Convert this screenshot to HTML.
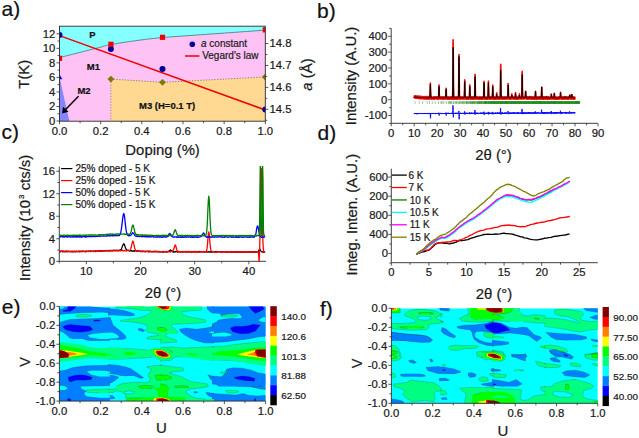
<!DOCTYPE html>
<html><head><meta charset="utf-8"><style>
html,body{margin:0;padding:0;background:#fff;}
svg{display:block;}
text{font-family:"Liberation Sans", sans-serif;stroke:#1a1a1a;stroke-width:0.22px;paint-order:stroke;}
</style></head><body>
<svg width="639" height="438" viewBox="0 0 639 438">
<text x="1.5" y="16.3" font-size="21" text-anchor="start" font-weight="normal" font-style="normal" fill="#111" >a)</text>
<text x="317" y="17.8" font-size="21" text-anchor="start" font-weight="normal" font-style="normal" fill="#111" >b)</text>
<text x="1.4" y="138.6" font-size="21" text-anchor="start" font-weight="normal" font-style="normal" fill="#111" >c)</text>
<text x="317.5" y="139.7" font-size="21" text-anchor="start" font-weight="normal" font-style="normal" fill="#111" >d)</text>
<text x="1.8" y="314.2" font-size="21" text-anchor="start" font-weight="normal" font-style="normal" fill="#111" >e)</text>
<text x="320" y="316" font-size="21" text-anchor="start" font-weight="normal" font-style="normal" fill="#111" >f)</text>
<clipPath id="ca"><rect x="59.5" y="26.2" width="205.8" height="95.0"/></clipPath>
<g clip-path="url(#ca)">
<rect x="59.5" y="26.2" width="205.8" height="95.0" fill="#85FFFF"/>
<polygon points="59,57.7 60.02,57.44 61.3,57.12 62.8,56.74 64.48,56.32 66.31,55.86 68.25,55.37 70.26,54.86 72.3,54.35 74.33,53.84 76.31,53.33 78.22,52.85 80,52.4 81.73,51.96 83.5,51.51 85.28,51.05 87.08,50.6 88.87,50.14 90.63,49.69 92.36,49.24 94.04,48.81 95.66,48.4 97.2,48.01 98.66,47.64 100,47.3 101.18,46.99 102.19,46.72 103.06,46.48 103.82,46.26 104.52,46.06 105.19,45.87 105.88,45.68 106.63,45.49 107.46,45.3 108.42,45.09 109.56,44.86 110.9,44.6 112.44,44.32 114.11,44.02 115.92,43.71 117.83,43.39 119.83,43.06 121.91,42.73 124.05,42.4 126.23,42.06 128.43,41.73 130.63,41.41 132.83,41.1 135,40.8 137.08,40.52 139.04,40.24 140.93,39.98 142.8,39.73 144.7,39.47 146.66,39.22 148.74,38.97 150.99,38.72 153.44,38.46 156.14,38.18 159.15,37.9 162.5,37.6 166.28,37.28 170.48,36.95 175.04,36.6 179.88,36.24 184.92,35.88 190.11,35.51 195.35,35.14 200.59,34.77 205.74,34.41 210.75,34.06 215.52,33.72 220,33.4 224.37,33.08 228.84,32.76 233.35,32.43 237.83,32.11 242.23,31.79 246.49,31.49 250.56,31.2 254.36,30.92 257.84,30.67 260.95,30.45 263.62,30.26 265.8,30.1 265.3,121.2 59.5,121.2" fill="#FFC2F4" />
<polygon points="59.5,77.3 69.4,121.2 59.5,121.2" fill="#8585FF" />
<polygon points="110.9,79.1 162.5,82.3 265.3,77 265.3,121.2 110.9,121.2" fill="#FFD992" />
<polyline points="110.9,79.1 162.5,82.3 265.3,77" fill="none" stroke="#666" stroke-width="0.8" stroke-linejoin="round" stroke-dasharray="1.2,1.6"/>
<line x1="110.9" y1="79.1" x2="110.9" y2="121.2" stroke="#777" stroke-width="0.8" stroke-dasharray="1.2,1.6"/>
<polyline points="59,57.7 60.02,57.44 61.3,57.12 62.8,56.74 64.48,56.32 66.31,55.86 68.25,55.37 70.26,54.86 72.3,54.35 74.33,53.84 76.31,53.33 78.22,52.85 80,52.4 81.73,51.96 83.5,51.51 85.28,51.05 87.08,50.6 88.87,50.14 90.63,49.69 92.36,49.24 94.04,48.81 95.66,48.4 97.2,48.01 98.66,47.64 100,47.3 101.18,46.99 102.19,46.72 103.06,46.48 103.82,46.26 104.52,46.06 105.19,45.87 105.88,45.68 106.63,45.49 107.46,45.3 108.42,45.09 109.56,44.86 110.9,44.6 112.44,44.32 114.11,44.02 115.92,43.71 117.83,43.39 119.83,43.06 121.91,42.73 124.05,42.4 126.23,42.06 128.43,41.73 130.63,41.41 132.83,41.1 135,40.8 137.08,40.52 139.04,40.24 140.93,39.98 142.8,39.73 144.7,39.47 146.66,39.22 148.74,38.97 150.99,38.72 153.44,38.46 156.14,38.18 159.15,37.9 162.5,37.6 166.28,37.28 170.48,36.95 175.04,36.6 179.88,36.24 184.92,35.88 190.11,35.51 195.35,35.14 200.59,34.77 205.74,34.41 210.75,34.06 215.52,33.72 220,33.4 224.37,33.08 228.84,32.76 233.35,32.43 237.83,32.11 242.23,31.79 246.49,31.49 250.56,31.2 254.36,30.92 257.84,30.67 260.95,30.45 263.62,30.26 265.8,30.1" fill="none" stroke="#3a7a7a" stroke-width="0.8" stroke-linejoin="round" />
<line x1="59.5" y1="35.6" x2="265.3" y2="110" stroke="#F00000" stroke-width="1.5" />
<circle cx="59.5" cy="35.1" r="3" fill="#0000A0"/>
<circle cx="110.9" cy="48.9" r="3" fill="#0000A0"/>
<circle cx="162.5" cy="68.9" r="3" fill="#0000A0"/>
<circle cx="265.3" cy="109.5" r="3" fill="#0000A0"/>
<rect x="56.9" y="55.7" width="5.2" height="5.2" fill="#F00000"/>
<rect x="108.3" y="41.7" width="5.2" height="5.2" fill="#F00000"/>
<rect x="159.9" y="34.7" width="5.2" height="5.2" fill="#F00000"/>
<rect x="262.7" y="27.2" width="5.2" height="5.2" fill="#F00000"/>
<polygon points="110.9,75.7 114.3,79.1 110.9,82.5 107.5,79.1" fill="#7A7A00"/>
<polygon points="162.5,78.9 165.9,82.3 162.5,85.7 159.1,82.3" fill="#7A7A00"/>
<polygon points="265.3,73.6 268.7,77 265.3,80.4 261.9,77" fill="#7A7A00"/>
<polygon points="59.5,74.5 62.5,79.3 56.5,79.3" fill="#0000FF"/>
</g>
<rect x="59.5" y="26.2" width="205.8" height="95" fill="none" stroke="#2a2a2a" stroke-width="0.9"/>
<line x1="78.5" y1="96.3" x2="64.6" y2="110.6" stroke="#000" stroke-width="1.5" />
<polygon points="62.0,113.5 63.0,106.8 68.6,111.8" fill="#000"/>
<text x="92.5" y="37.8" font-size="9.5" text-anchor="middle" font-weight="bold" font-style="normal" fill="#111" >P</text>
<text x="93.4" y="69.8" font-size="9.5" text-anchor="middle" font-weight="bold" font-style="normal" fill="#111" >M1</text>
<text x="84" y="93.8" font-size="9.5" text-anchor="middle" font-weight="bold" font-style="normal" fill="#111" >M2</text>
<text x="139" y="109" font-size="9.5" text-anchor="start" font-weight="bold" font-style="normal" fill="#111" >M3 (H=0.1 T)</text>
<circle cx="192.3" cy="44.3" r="2.8" fill="#0000A0"/>
<text x="201" y="47.3" font-size="10" text-anchor="start" font-weight="normal" font-style="normal" fill="#222" ><tspan font-style="italic">a</tspan> constant</text>
<line x1="185" y1="56" x2="199.4" y2="56" stroke="#F00000" stroke-width="1.5" />
<text x="202.2" y="58.7" font-size="10" text-anchor="start" font-weight="normal" font-style="normal" fill="#222" >Vegard's law</text>
<line x1="56.5" y1="121" x2="59.5" y2="121" stroke="#2a2a2a" stroke-width="0.8" />
<text x="55.3" y="124.9" font-size="11.3" text-anchor="end" font-weight="normal" font-style="normal" fill="#1a1a1a" >0</text>
<line x1="57.5" y1="113.73" x2="59.5" y2="113.73" stroke="#2a2a2a" stroke-width="0.8" />
<line x1="56.5" y1="106.47" x2="59.5" y2="106.47" stroke="#2a2a2a" stroke-width="0.8" />
<text x="55.3" y="110.37" font-size="11.3" text-anchor="end" font-weight="normal" font-style="normal" fill="#1a1a1a" >2</text>
<line x1="57.5" y1="99.2" x2="59.5" y2="99.2" stroke="#2a2a2a" stroke-width="0.8" />
<line x1="56.5" y1="91.93" x2="59.5" y2="91.93" stroke="#2a2a2a" stroke-width="0.8" />
<text x="55.3" y="95.83" font-size="11.3" text-anchor="end" font-weight="normal" font-style="normal" fill="#1a1a1a" >4</text>
<line x1="57.5" y1="84.66" x2="59.5" y2="84.66" stroke="#2a2a2a" stroke-width="0.8" />
<line x1="56.5" y1="77.4" x2="59.5" y2="77.4" stroke="#2a2a2a" stroke-width="0.8" />
<text x="55.3" y="81.3" font-size="11.3" text-anchor="end" font-weight="normal" font-style="normal" fill="#1a1a1a" >6</text>
<line x1="57.5" y1="70.13" x2="59.5" y2="70.13" stroke="#2a2a2a" stroke-width="0.8" />
<line x1="56.5" y1="62.86" x2="59.5" y2="62.86" stroke="#2a2a2a" stroke-width="0.8" />
<text x="55.3" y="66.76" font-size="11.3" text-anchor="end" font-weight="normal" font-style="normal" fill="#1a1a1a" >8</text>
<line x1="57.5" y1="55.6" x2="59.5" y2="55.6" stroke="#2a2a2a" stroke-width="0.8" />
<line x1="56.5" y1="48.33" x2="59.5" y2="48.33" stroke="#2a2a2a" stroke-width="0.8" />
<text x="55.3" y="52.23" font-size="11.3" text-anchor="end" font-weight="normal" font-style="normal" fill="#1a1a1a" >10</text>
<line x1="57.5" y1="41.06" x2="59.5" y2="41.06" stroke="#2a2a2a" stroke-width="0.8" />
<line x1="56.5" y1="33.8" x2="59.5" y2="33.8" stroke="#2a2a2a" stroke-width="0.8" />
<text x="55.3" y="37.7" font-size="11.3" text-anchor="end" font-weight="normal" font-style="normal" fill="#1a1a1a" >12</text>
<line x1="59.5" y1="121.2" x2="59.5" y2="124.2" stroke="#2a2a2a" stroke-width="0.8" />
<text x="59.5" y="134.8" font-size="11.3" text-anchor="middle" font-weight="normal" font-style="normal" fill="#1a1a1a" >0.0</text>
<line x1="80.08" y1="121.2" x2="80.08" y2="123.2" stroke="#2a2a2a" stroke-width="0.8" />
<line x1="100.66" y1="121.2" x2="100.66" y2="124.2" stroke="#2a2a2a" stroke-width="0.8" />
<text x="100.66" y="134.8" font-size="11.3" text-anchor="middle" font-weight="normal" font-style="normal" fill="#1a1a1a" >0.2</text>
<line x1="121.24" y1="121.2" x2="121.24" y2="123.2" stroke="#2a2a2a" stroke-width="0.8" />
<line x1="141.82" y1="121.2" x2="141.82" y2="124.2" stroke="#2a2a2a" stroke-width="0.8" />
<text x="141.82" y="134.8" font-size="11.3" text-anchor="middle" font-weight="normal" font-style="normal" fill="#1a1a1a" >0.4</text>
<line x1="162.4" y1="121.2" x2="162.4" y2="123.2" stroke="#2a2a2a" stroke-width="0.8" />
<line x1="182.98" y1="121.2" x2="182.98" y2="124.2" stroke="#2a2a2a" stroke-width="0.8" />
<text x="182.98" y="134.8" font-size="11.3" text-anchor="middle" font-weight="normal" font-style="normal" fill="#1a1a1a" >0.6</text>
<line x1="203.56" y1="121.2" x2="203.56" y2="123.2" stroke="#2a2a2a" stroke-width="0.8" />
<line x1="224.14" y1="121.2" x2="224.14" y2="124.2" stroke="#2a2a2a" stroke-width="0.8" />
<text x="224.14" y="134.8" font-size="11.3" text-anchor="middle" font-weight="normal" font-style="normal" fill="#1a1a1a" >0.8</text>
<line x1="244.72" y1="121.2" x2="244.72" y2="123.2" stroke="#2a2a2a" stroke-width="0.8" />
<line x1="265.3" y1="121.2" x2="265.3" y2="124.2" stroke="#2a2a2a" stroke-width="0.8" />
<text x="265.3" y="134.8" font-size="11.3" text-anchor="middle" font-weight="normal" font-style="normal" fill="#1a1a1a" >1.0</text>
<line x1="265.3" y1="120.27" x2="267.3" y2="120.27" stroke="#2a2a2a" stroke-width="0.8" />
<line x1="265.3" y1="109.3" x2="268.3" y2="109.3" stroke="#2a2a2a" stroke-width="0.8" />
<text x="269.5" y="113.2" font-size="11.3" text-anchor="start" font-weight="normal" font-style="normal" fill="#1a1a1a" >14.5</text>
<line x1="265.3" y1="98.34" x2="267.3" y2="98.34" stroke="#2a2a2a" stroke-width="0.8" />
<line x1="265.3" y1="87.37" x2="268.3" y2="87.37" stroke="#2a2a2a" stroke-width="0.8" />
<text x="269.5" y="91.27" font-size="11.3" text-anchor="start" font-weight="normal" font-style="normal" fill="#1a1a1a" >14.6</text>
<line x1="265.3" y1="76.41" x2="267.3" y2="76.41" stroke="#2a2a2a" stroke-width="0.8" />
<line x1="265.3" y1="65.44" x2="268.3" y2="65.44" stroke="#2a2a2a" stroke-width="0.8" />
<text x="269.5" y="69.34" font-size="11.3" text-anchor="start" font-weight="normal" font-style="normal" fill="#1a1a1a" >14.7</text>
<line x1="265.3" y1="54.47" x2="267.3" y2="54.47" stroke="#2a2a2a" stroke-width="0.8" />
<line x1="265.3" y1="43.51" x2="268.3" y2="43.51" stroke="#2a2a2a" stroke-width="0.8" />
<text x="269.5" y="47.41" font-size="11.3" text-anchor="start" font-weight="normal" font-style="normal" fill="#1a1a1a" >14.8</text>
<text x="24.5" y="74.2" font-size="14.9" text-anchor="middle" font-weight="normal" font-style="normal" fill="#1a1a1a" transform="rotate(-90 24.5 74.2)" dy="5">T(K)</text>
<text x="162.6" y="155" font-size="14.9" text-anchor="middle" font-weight="normal" font-style="normal" fill="#1a1a1a" >Doping (%)</text>
<text x="307" y="74.5" font-size="14.9" text-anchor="middle" font-weight="normal" font-style="normal" fill="#1a1a1a" transform="rotate(-90 307 74.5)" dy="5"><tspan font-style="italic">a</tspan> (Å)</text>
<line x1="391.2" y1="28.3" x2="391.2" y2="123.3" stroke="#2a2a2a" stroke-width="0.9" />
<line x1="391.2" y1="123.3" x2="597.8" y2="123.3" stroke="#2a2a2a" stroke-width="0.9" />
<line x1="389.2" y1="123.47" x2="391.2" y2="123.47" stroke="#2a2a2a" stroke-width="0.8" />
<line x1="388.2" y1="115.55" x2="391.2" y2="115.55" stroke="#2a2a2a" stroke-width="0.8" />
<text x="387.3" y="119.45" font-size="11.3" text-anchor="end" font-weight="normal" font-style="normal" fill="#1a1a1a" >-100</text>
<line x1="389.2" y1="107.62" x2="391.2" y2="107.62" stroke="#2a2a2a" stroke-width="0.8" />
<line x1="388.2" y1="99.7" x2="391.2" y2="99.7" stroke="#2a2a2a" stroke-width="0.8" />
<text x="387.3" y="103.6" font-size="11.3" text-anchor="end" font-weight="normal" font-style="normal" fill="#1a1a1a" >0</text>
<line x1="389.2" y1="91.78" x2="391.2" y2="91.78" stroke="#2a2a2a" stroke-width="0.8" />
<line x1="388.2" y1="83.85" x2="391.2" y2="83.85" stroke="#2a2a2a" stroke-width="0.8" />
<text x="387.3" y="87.75" font-size="11.3" text-anchor="end" font-weight="normal" font-style="normal" fill="#1a1a1a" >100</text>
<line x1="389.2" y1="75.93" x2="391.2" y2="75.93" stroke="#2a2a2a" stroke-width="0.8" />
<line x1="388.2" y1="68" x2="391.2" y2="68" stroke="#2a2a2a" stroke-width="0.8" />
<text x="387.3" y="71.9" font-size="11.3" text-anchor="end" font-weight="normal" font-style="normal" fill="#1a1a1a" >200</text>
<line x1="389.2" y1="60.08" x2="391.2" y2="60.08" stroke="#2a2a2a" stroke-width="0.8" />
<line x1="388.2" y1="52.15" x2="391.2" y2="52.15" stroke="#2a2a2a" stroke-width="0.8" />
<text x="387.3" y="56.05" font-size="11.3" text-anchor="end" font-weight="normal" font-style="normal" fill="#1a1a1a" >300</text>
<line x1="389.2" y1="44.23" x2="391.2" y2="44.23" stroke="#2a2a2a" stroke-width="0.8" />
<line x1="388.2" y1="36.3" x2="391.2" y2="36.3" stroke="#2a2a2a" stroke-width="0.8" />
<text x="387.3" y="40.2" font-size="11.3" text-anchor="end" font-weight="normal" font-style="normal" fill="#1a1a1a" >400</text>
<line x1="389.2" y1="28.38" x2="391.2" y2="28.38" stroke="#2a2a2a" stroke-width="0.8" />
<line x1="391.2" y1="123.3" x2="391.2" y2="126.3" stroke="#2a2a2a" stroke-width="0.8" />
<text x="391.2" y="136.5" font-size="11.3" text-anchor="middle" font-weight="normal" font-style="normal" fill="#1a1a1a" >0</text>
<line x1="402.69" y1="123.3" x2="402.69" y2="125.3" stroke="#2a2a2a" stroke-width="0.8" />
<line x1="414.18" y1="123.3" x2="414.18" y2="126.3" stroke="#2a2a2a" stroke-width="0.8" />
<text x="414.18" y="136.5" font-size="11.3" text-anchor="middle" font-weight="normal" font-style="normal" fill="#1a1a1a" >10</text>
<line x1="425.67" y1="123.3" x2="425.67" y2="125.3" stroke="#2a2a2a" stroke-width="0.8" />
<line x1="437.16" y1="123.3" x2="437.16" y2="126.3" stroke="#2a2a2a" stroke-width="0.8" />
<text x="437.16" y="136.5" font-size="11.3" text-anchor="middle" font-weight="normal" font-style="normal" fill="#1a1a1a" >20</text>
<line x1="448.65" y1="123.3" x2="448.65" y2="125.3" stroke="#2a2a2a" stroke-width="0.8" />
<line x1="460.14" y1="123.3" x2="460.14" y2="126.3" stroke="#2a2a2a" stroke-width="0.8" />
<text x="460.14" y="136.5" font-size="11.3" text-anchor="middle" font-weight="normal" font-style="normal" fill="#1a1a1a" >30</text>
<line x1="471.63" y1="123.3" x2="471.63" y2="125.3" stroke="#2a2a2a" stroke-width="0.8" />
<line x1="483.12" y1="123.3" x2="483.12" y2="126.3" stroke="#2a2a2a" stroke-width="0.8" />
<text x="483.12" y="136.5" font-size="11.3" text-anchor="middle" font-weight="normal" font-style="normal" fill="#1a1a1a" >40</text>
<line x1="494.61" y1="123.3" x2="494.61" y2="125.3" stroke="#2a2a2a" stroke-width="0.8" />
<line x1="506.1" y1="123.3" x2="506.1" y2="126.3" stroke="#2a2a2a" stroke-width="0.8" />
<text x="506.1" y="136.5" font-size="11.3" text-anchor="middle" font-weight="normal" font-style="normal" fill="#1a1a1a" >50</text>
<line x1="517.59" y1="123.3" x2="517.59" y2="125.3" stroke="#2a2a2a" stroke-width="0.8" />
<line x1="529.08" y1="123.3" x2="529.08" y2="126.3" stroke="#2a2a2a" stroke-width="0.8" />
<text x="529.08" y="136.5" font-size="11.3" text-anchor="middle" font-weight="normal" font-style="normal" fill="#1a1a1a" >60</text>
<line x1="540.57" y1="123.3" x2="540.57" y2="125.3" stroke="#2a2a2a" stroke-width="0.8" />
<line x1="552.06" y1="123.3" x2="552.06" y2="126.3" stroke="#2a2a2a" stroke-width="0.8" />
<text x="552.06" y="136.5" font-size="11.3" text-anchor="middle" font-weight="normal" font-style="normal" fill="#1a1a1a" >70</text>
<line x1="563.55" y1="123.3" x2="563.55" y2="125.3" stroke="#2a2a2a" stroke-width="0.8" />
<line x1="575.04" y1="123.3" x2="575.04" y2="126.3" stroke="#2a2a2a" stroke-width="0.8" />
<text x="575.04" y="136.5" font-size="11.3" text-anchor="middle" font-weight="normal" font-style="normal" fill="#1a1a1a" >80</text>
<line x1="586.53" y1="123.3" x2="586.53" y2="125.3" stroke="#2a2a2a" stroke-width="0.8" />
<line x1="598.02" y1="123.3" x2="598.02" y2="126.3" stroke="#2a2a2a" stroke-width="0.8" />
<text x="598.02" y="136.5" font-size="11.3" text-anchor="middle" font-weight="normal" font-style="normal" fill="#1a1a1a" >90</text>
<text x="350.6" y="76" font-size="14.9" text-anchor="middle" font-weight="normal" font-style="normal" fill="#1a1a1a" transform="rotate(-90 350.6 76)" dy="5">Intensity (A.U.)</text>
<text x="493.5" y="160" font-size="14.9" text-anchor="middle" font-weight="normal" font-style="normal" fill="#1a1a1a" >2θ (°)</text>
<polyline points="414.18,96.54 414.36,96.88 414.55,96.73 414.73,97 414.92,97.05 415.1,96.52 415.28,96.49 415.47,97.34 415.65,96.79 415.83,96.79 416.02,97.58 416.2,97.08 416.39,97.47 416.57,97.13 416.75,97.31 416.94,96.85 417.12,97.35 417.31,97.61 417.49,97.28 417.67,97.52 417.86,97.47 418.04,96.88 418.22,97.59 418.41,97.44 418.59,97.17 418.78,96.91 418.96,97.77 419.14,97.39 419.33,97.65 419.51,97.83 419.7,97.67 419.88,97.9 420.06,97.38 420.25,97.8 420.43,97.46 420.61,97.96 420.8,97.92 420.98,97.15 421.17,97.2 421.35,97.29 421.53,98.05 421.72,97.53 421.9,97.74 422.09,97.42 422.27,97.64 422.45,97.52 422.64,97.5 422.82,97.74 423,97.75 423.19,98.08 423.37,97.87 423.56,98.12 423.74,98.06 423.92,98.2 424.11,97.89 424.29,97.39 424.48,98.09 424.66,98.2 424.84,98.15 425.03,97.82 425.21,97.97 425.39,97.48 425.58,98.1 425.76,97.85 425.95,97.57 426.13,97.35 426.31,98.15 426.5,98.29 426.68,97.39 426.86,98.11 427.05,97.72 427.23,97.47 427.42,97.62 427.6,98.1 427.78,98.21 427.97,97.38 428.15,97.96 428.34,97.39 428.52,98.07 428.7,97.68 428.89,98.24 429.07,98.34 429.25,97.87 429.44,98.37 429.62,97.68 429.81,97.45 429.99,97.98 430.17,97.41 430.36,97.58 430.54,97.8 430.73,98 430.91,97.55 431.09,97.44 431.28,98.27 431.46,97.72 431.64,98.36 431.83,98.3 432.01,97.79 432.2,97.87 432.38,97.93 432.56,98.06 432.75,98.01 432.93,97.98 433.12,98.04 433.3,98.37 433.48,97.93 433.67,97.86 433.85,98.15 434.03,97.67 434.22,97.74 434.4,98.41 434.59,97.96 434.77,97.99 434.95,97.45 435.14,97.86 435.32,98.02 435.51,97.47 435.69,98.06 435.87,98.08 436.06,97.51 436.24,98.08 436.42,97.92 436.61,98.13 436.79,97.81 436.98,98.16 437.16,98.2 437.34,97.48 437.53,97.52 437.71,98.14 437.9,98.42 438.08,97.71 438.26,97.92 438.45,98.06 438.63,97.79 438.81,97.83 439,97.78 439.18,97.84 439.37,98.06 439.55,97.77 439.73,97.85 439.92,98.24 440.1,97.5 440.29,98.04 440.47,98.21 440.65,97.78 440.84,97.7 441.02,98.28 441.2,97.71 441.39,97.66 441.57,97.91 441.76,98.18 441.94,97.58 442.12,97.8 442.31,97.81 442.49,98.31 442.68,97.92 442.86,98.34 443.04,97.65 443.23,97.82 443.41,98.13 443.59,98.37 443.78,97.93 443.96,97.71 444.15,97.61 444.33,98.01 444.51,97.68 444.7,98.29 444.88,98.32 445.07,97.67 445.25,97.77 445.43,98.29 445.62,98.13 445.8,98.29 445.98,97.83 446.17,97.62 446.35,97.78 446.54,98.28 446.72,97.76 446.9,97.84 447.09,97.91 447.27,97.91 447.46,97.9 447.64,98.41 447.82,97.65 448.01,97.5 448.19,98.43 448.37,98.37 448.56,98.48 448.74,97.93 448.93,98.44 449.11,98.42 449.29,97.71 449.48,98.24 449.66,98.33 449.84,98.16 450.03,98.01 450.21,97.78 450.4,97.83 450.58,97.72 450.76,97.56 450.95,98.08 451.13,97.78 451.32,98.3 451.5,97.54 451.68,98.4 451.87,98.19 452.05,98.42 452.23,98.39 452.42,98.39 452.6,98.07 452.79,97.51 452.97,98.24 453.15,97.67 453.34,97.8 453.52,98.16 453.71,98.02 453.89,97.91 454.07,98.44 454.26,98.11 454.44,97.84 454.62,97.75 454.81,98.36 454.99,97.97 455.18,98.28 455.36,97.85 455.54,97.69 455.73,98.03 455.91,98.31 456.1,97.67 456.28,98.29 456.46,98.42 456.65,98.3 456.83,98.32 457.01,97.51 457.2,98.13 457.38,98.36 457.57,97.55 457.75,97.77 457.93,97.77 458.12,98.03 458.3,97.92 458.49,97.97 458.67,98.27 458.85,97.5 459.04,97.55 459.22,97.63 459.4,97.62 459.59,97.57 459.77,98.47 459.96,98.35 460.14,97.58 460.32,98 460.51,97.81 460.69,97.81 460.88,97.85 461.06,98.15 461.24,98.09 461.43,97.86 461.61,97.69 461.79,97.83 461.98,97.62 462.16,98.05 462.35,98.21 462.53,97.88 462.71,97.58 462.9,97.68 463.08,97.87 463.27,98.1 463.45,98.28 463.63,97.88 463.82,98.3 464,98.12 464.18,97.93 464.37,97.87 464.55,98 464.74,98.2 464.92,97.92 465.1,98.19 465.29,97.96 465.47,97.74 465.66,98.04 465.84,98.19 466.02,97.57 466.21,97.92 466.39,97.93 466.57,98.38 466.76,98.44 466.94,97.87 467.13,98.4 467.31,98.29 467.49,97.76 467.68,97.96 467.86,97.62 468.05,98.31 468.23,98.16 468.41,98.39 468.6,98.29 468.78,98.17 468.96,98.23 469.15,98.06 469.33,97.6 469.52,98.09 469.7,97.5 469.88,97.64 470.07,98.27 470.25,97.54 470.44,97.59 470.62,97.6 470.8,98.38 470.99,97.68 471.17,97.52 471.35,98.34 471.54,97.62 471.72,98.34 471.91,98.17 472.09,98.34 472.27,98.45 472.46,98.08 472.64,98.3 472.82,97.54 473.01,98.27 473.19,98.01 473.38,98.21 473.56,97.61 473.74,98.25 473.93,98.43 474.11,97.56 474.3,97.82 474.48,98.06 474.66,98.33 474.85,97.74 475.03,97.68 475.21,97.75 475.4,98.12 475.58,98.25 475.77,97.89 475.95,97.87 476.13,97.9 476.32,97.85 476.5,97.92 476.69,97.58 476.87,98 477.05,98.47 477.24,97.91 477.42,98.25 477.6,97.66 477.79,98.19 477.97,98.26 478.16,98.17 478.34,98.02 478.52,97.98 478.71,98.14 478.89,98.4 479.08,97.65 479.26,97.6 479.44,98.25 479.63,98.42 479.81,98.02 479.99,97.94 480.18,98.22 480.36,97.69 480.55,97.77 480.73,97.7 480.91,98.09 481.1,97.81 481.28,97.73 481.47,98.19 481.65,98.45 481.83,97.8 482.02,98.21 482.2,97.91 482.38,98.35 482.57,98.08 482.75,97.77 482.94,97.72 483.12,97.52 483.3,97.98 483.49,97.88 483.67,97.67 483.86,97.86 484.04,97.82 484.22,98.27 484.41,97.64 484.59,98.49 484.77,97.98 484.96,98.1 485.14,97.97 485.33,98.33 485.51,98.32 485.69,98.06 485.88,97.98 486.06,98.22 486.25,98.36 486.43,97.9 486.61,98.23 486.8,98.46 486.98,97.97 487.16,97.73 487.35,97.73 487.53,98.22 487.72,98.18 487.9,98.46 488.08,98.35 488.27,97.74 488.45,97.69 488.64,97.76 488.82,97.69 489,98.2 489.19,98.36 489.37,98.4 489.55,97.75 489.74,98.37 489.92,97.81 490.11,97.92 490.29,98.23 490.47,97.59 490.66,97.59 490.84,98.33 491.03,97.79 491.21,97.86 491.39,98.08 491.58,98.18 491.76,97.51 491.94,97.83 492.13,97.94 492.31,97.99 492.5,97.71 492.68,98.09 492.86,98.46 493.05,97.89 493.23,98.04 493.42,97.62 493.6,97.77 493.78,98.17 493.97,97.61 494.15,98.39 494.33,98.41 494.52,97.6 494.7,98.44 494.89,97.87 495.07,98.27 495.25,98.26 495.44,97.8 495.62,98.18 495.8,98.15 495.99,98.31 496.17,97.77 496.36,98.25 496.54,98.46 496.72,98.17 496.91,98.04 497.09,97.61 497.28,97.99 497.46,97.85 497.64,98.22 497.83,98.18 498.01,98.07 498.19,97.68 498.38,98.15 498.56,98.13 498.75,97.68 498.93,98.39 499.11,98.16 499.3,97.62 499.48,98.43 499.67,97.64 499.85,97.83 500.03,98.22 500.22,98.1 500.4,98.05 500.58,98.15 500.77,97.96 500.95,97.81 501.14,97.68 501.32,97.57 501.5,98.22 501.69,98.25 501.87,98.04 502.06,98.24 502.24,97.86 502.42,97.77 502.61,97.88 502.79,98.37 502.97,97.54 503.16,98 503.34,97.75 503.53,98.27 503.71,97.85 503.89,97.83 504.08,97.9 504.26,98.04 504.45,98.27 504.63,97.85 504.81,98.35 505,97.61 505.18,97.77 505.36,97.6 505.55,97.61 505.73,98.28 505.92,98.23 506.1,97.68 506.28,97.69 506.47,97.92 506.65,98.24 506.84,98.32 507.02,98.25 507.2,98.09 507.39,97.65 507.57,97.9 507.75,97.69 507.94,98.03 508.12,98.07 508.31,97.7 508.49,97.75 508.67,98.28 508.86,97.53 509.04,98.3 509.23,98.39 509.41,98.45 509.59,97.88 509.78,98.05 509.96,98.08 510.14,98.13 510.33,98.48 510.51,98.19 510.7,97.8 510.88,98.36 511.06,97.98 511.25,98.1 511.43,98.23 511.62,97.5 511.8,98.27 511.98,98.16 512.17,97.99 512.35,98.02 512.53,97.96 512.72,97.69 512.9,98.03 513.09,97.54 513.27,98 513.45,98.15 513.64,97.94 513.82,98.07 514.01,98.46 514.19,98.39 514.37,97.64 514.56,98.29 514.74,98.12 514.92,97.55 515.11,97.86 515.29,97.73 515.48,97.58 515.66,98.04 515.84,98.43 516.03,97.82 516.21,98.37 516.4,98.19 516.58,97.63 516.76,98.36 516.95,98.1 517.13,98.43 517.31,98.22 517.5,98.24 517.68,97.84 517.87,98.31 518.05,98.43 518.23,98.36 518.42,97.94 518.6,98.26 518.78,97.99 518.97,97.61 519.15,97.54 519.34,97.58 519.52,97.7 519.7,97.66 519.89,98 520.07,98.2 520.26,98.04 520.44,97.92 520.62,98.15 520.81,97.8 520.99,97.96 521.17,98.26 521.36,97.9 521.54,97.68 521.73,98.4 521.91,98.22 522.09,97.87 522.28,97.87 522.46,98.03 522.65,98.1 522.83,97.72 523.01,97.5 523.2,97.71 523.38,98.28 523.56,97.64 523.75,97.96 523.93,97.7 524.12,97.71 524.3,97.67 524.48,97.9 524.67,97.67 524.85,97.53 525.04,97.61 525.22,97.67 525.4,97.99 525.59,97.56 525.77,97.52 525.95,97.95 526.14,97.91 526.32,98.2 526.51,97.55 526.69,97.9 526.87,97.9 527.06,97.53 527.24,98.47 527.43,97.72 527.61,97.59 527.79,97.97 527.98,97.66 528.16,98.12 528.34,97.85 528.53,97.62 528.71,97.55 528.9,98.23 529.08,97.78 529.26,98.29 529.45,97.97 529.63,98.43 529.82,97.8 530,97.75 530.18,97.77 530.37,98.31 530.55,98.13 530.73,97.84 530.92,97.59 531.1,98.18 531.29,98.47 531.47,98.09 531.65,97.5 531.84,97.53 532.02,97.59 532.21,97.67 532.39,97.54 532.57,97.55 532.76,98.15 532.94,98.4 533.12,97.7 533.31,98.47 533.49,97.98 533.68,98.3 533.86,98.42 534.04,98.44 534.23,97.53 534.41,97.8 534.6,98.11 534.78,98.45 534.96,97.59 535.15,97.79 535.33,98.35 535.51,97.61 535.7,97.89 535.88,97.83 536.07,98.18 536.25,98.43 536.43,97.67 536.62,98.24 536.8,98.23 536.99,98.34 537.17,98.05 537.35,98.42 537.54,97.86 537.72,97.91 537.9,97.73 538.09,98.28 538.27,97.98 538.46,97.77 538.64,97.67 538.82,98.22 539.01,98.11 539.19,98.21 539.38,97.89 539.56,97.99 539.74,97.65 539.93,98.21 540.11,97.52 540.29,97.97 540.48,98.26 540.66,98.18 540.85,97.6 541.03,97.74 541.21,98.34 541.4,98.14 541.58,98.38 541.76,98.37 541.95,97.95 542.13,98.4 542.32,98.23 542.5,97.83 542.68,97.87 542.87,97.57 543.05,97.9 543.24,98.46 543.42,97.6 543.6,98.07 543.79,97.61 543.97,97.58 544.15,98.15 544.34,97.74 544.52,97.55 544.71,97.65 544.89,98.14 545.07,98.09 545.26,97.51 545.44,97.73 545.63,98.47 545.81,97.72 545.99,98.06 546.18,97.92 546.36,98.28 546.54,98.1 546.73,98.29 546.91,98.04 547.1,97.69 547.28,97.68 547.46,97.58 547.65,98.33 547.83,97.61 548.02,97.52 548.2,98.47 548.38,97.7 548.57,98.39 548.75,97.59 548.93,97.97 549.12,97.72 549.3,98.33 549.49,98.12 549.67,98.14 549.85,98.26 550.04,98.37 550.22,97.85 550.41,98.1 550.59,97.95 550.77,97.61 550.96,98.34 551.14,98.09 551.32,98.31 551.51,97.71 551.69,98.04 551.88,97.96 552.06,98.23 552.24,97.58 552.43,97.85 552.61,97.98 552.8,97.57 552.98,98.05 553.16,98.24 553.35,97.92 553.53,98.15 553.71,98.11 553.9,97.71 554.08,97.85 554.27,98.5 554.45,97.84 554.63,97.93 554.82,97.58 555,97.72 555.19,97.67 555.37,98.43 555.55,98.23 555.74,98.37 555.92,98.49 556.1,98.11 556.29,98.43 556.47,98.04 556.66,97.92 556.84,98.45 557.02,98.4 557.21,98.45 557.39,97.98 557.58,98.27 557.76,97.91 557.94,98.5 558.13,98.42 558.31,97.79 558.49,98.43 558.68,97.68 558.86,97.6 559.05,98.22 559.23,97.79 559.41,98.02 559.6,98.14 559.78,97.54 559.97,98.25 560.15,97.78 560.33,97.93 560.52,97.84 560.7,98.24 560.88,98.25 561.07,97.79 561.25,97.6 561.44,97.8 561.62,97.91 561.8,97.58 561.99,97.65 562.17,98.26 562.36,98.2 562.54,98.48 562.72,98.48 562.91,98.38 563.09,97.87 563.27,97.66 563.46,97.81 563.64,97.96 563.83,98.03 564.01,98.04 564.19,97.86 564.38,98.35 564.56,97.79 564.74,97.96 564.93,98.39 565.11,98.31 565.3,97.8 565.48,97.74 565.66,98.31 565.85,97.51 566.03,97.63 566.22,98.03 566.4,98.04 566.58,97.67 566.77,97.55 566.95,97.7 567.13,98.27 567.32,97.97 567.5,98.48 567.69,98.29 567.87,98.48 568.05,97.54 568.24,97.69 568.42,97.51 568.61,97.93 568.79,97.84 568.97,97.55 569.16,98.05 569.34,97.59 569.52,97.81 569.71,97.75 569.89,98.3 570.08,97.92 570.26,97.76 570.44,97.54 570.63,97.93 570.81,98.13 571,98.18 571.18,98.41 571.36,98.31 571.55,97.75 571.73,97.64 571.91,98.26 572.1,98.29 572.28,98.01 572.47,98.33 572.65,98.05 572.83,97.78 573.02,97.67 573.2,97.52 573.39,98.14 573.57,98.4 573.75,98.41 573.94,97.97 574.12,98.17 574.3,98.43 574.49,98.31 574.67,98.1 574.86,97.91 575.04,98.02" fill="none" stroke="#FF0A0A" stroke-width="3.0" stroke-linejoin="round" />
<polyline points="414.18,96.54 414.27,96.56 414.36,96.98 414.46,97.24 414.55,96.9 414.64,96.8 414.73,96.77 414.82,96.87 414.92,97.16 415.01,96.9 415.1,97.32 415.19,96.69 415.28,96.83 415.37,97.01 415.47,96.93 415.56,97.3 415.65,97.29 415.74,97.39 415.83,97.15 415.93,96.69 416.02,97.14 416.11,97.13 416.2,97.1 416.29,96.94 416.39,97.3 416.48,97.47 416.57,96.83 416.66,97.3 416.75,97.07 416.85,97.2 416.94,97.51 417.03,97.57 417.12,97.33 417.21,96.98 417.31,97.57 417.4,96.99 417.49,97.16 417.58,97.53 417.67,97.13 417.76,97.1 417.86,97.66 417.95,97.66 418.04,97.17 418.13,97.24 418.22,97.16 418.32,97.05 418.41,97.15 418.5,97.74 418.59,97.03 418.68,97.16 418.78,97.14 418.87,97.06 418.96,97.42 419.05,97.6 419.14,97.69 419.24,97.53 419.33,97.69 419.42,97.04 419.51,97.27 419.6,97.82 419.7,97.12 419.79,97.28 419.88,97.46 419.97,97.3 420.06,97.53 420.15,97.13 420.25,97.29 420.34,97.87 420.43,97.23 420.52,97.85 420.61,97.27 420.71,97.93 420.8,97.68 420.89,97.66 420.98,97.27 421.07,97.2 421.17,97.77 421.26,97.31 421.35,97.33 421.44,97.84 421.53,97.89 421.63,97.23 421.72,97.97 421.81,97.63 421.9,97.51 421.99,97.3 422.09,97.53 422.18,98.01 422.27,97.45 422.36,97.34 422.45,97.35 422.54,97.34 422.64,97.53 422.73,97.98 422.82,97.32 422.91,97.42 423,98.02 423.1,98.07 423.19,98.06 423.28,97.48 423.37,97.57 423.46,98.05 423.56,97.68 423.65,97.86 423.74,97.55 423.83,97.32 423.92,97.58 424.02,97.91 424.11,97.94 424.2,97.77 424.29,97.69 424.38,97.76 424.48,97.68 424.57,97.76 424.66,98 424.75,97.5 424.84,97.82 424.93,98.09 425.03,98.03 425.12,97.5 425.21,98.13 425.3,98.03 425.39,97.5 425.49,97.58 425.58,97.53 425.67,97.42 425.76,98.16 425.85,97.71 425.95,98.08 426.04,97.48 426.13,97.4 426.22,98.09 426.31,98.03 426.41,98.19 426.5,97.95 426.59,97.82 426.68,98.02 426.77,97.48 426.86,97.84 426.96,97.76 427.05,97.53 427.14,97.9 427.23,97.68 427.32,97.83 427.42,97.72 427.51,97.68 427.6,97.72 427.69,97.91 427.78,98.22 427.88,98.18 427.97,98.13 428.06,98.11 428.15,97.67 428.24,98.23 428.34,97.66 428.43,97.55 428.52,97.85 428.61,98.04 428.7,97.73 428.8,97.97 428.89,97.68 428.98,98.23 429.07,97.82 429.16,97.85 429.25,97.89 429.35,98.17 429.44,98.25 429.53,97.87 429.62,97.74 429.71,97.67 429.81,96.7 429.9,95.8 429.99,94.02 430.08,90.86 430.17,86.72 430.27,84.43 430.36,82.91 430.45,84.53 430.54,86.97 430.63,90.42 430.73,93.79 430.82,96.19 430.91,97 431,97.89 431.09,97.98 431.19,97.76 431.28,97.73 431.37,97.9 431.46,97.82 431.55,97.8 431.64,98.03 431.74,98.21 431.83,97.97 431.92,97.63 432.01,97.69 432.1,97.81 432.2,98 432.29,97.62 432.38,97.58 432.47,97.77 432.56,97.74 432.66,97.54 432.75,97.95 432.84,98.26 432.93,97.95 433.02,98.11 433.12,98.19 433.21,98.19 433.3,98.26 433.39,97.88 433.48,98.07 433.58,97.62 433.67,98.23 433.76,97.83 433.85,97.91 433.94,98.24 434.03,97.76 434.13,97.69 434.22,98.19 434.31,98.01 434.4,97.6 434.49,97.56 434.59,97.82 434.68,97.54 434.77,98.21 434.86,97.69 434.95,97.76 435.05,97.85 435.14,97.95 435.23,97.89 435.32,98.05 435.41,98.07 435.51,97.89 435.6,97.62 435.69,98.33 435.78,98.1 435.87,97.62 435.97,97.9 436.06,98.15 436.15,98.34 436.24,97.6 436.33,97.56 436.42,97.94 436.52,97.89 436.61,98.27 436.7,98.22 436.79,97.82 436.88,97.89 436.98,98.02 437.07,98.26 437.16,97.72 437.25,97.87 437.34,97.63 437.44,98.07 437.53,97.58 437.62,98.31 437.71,97.98 437.8,98.02 437.9,97.63 437.99,97.75 438.08,97.93 438.17,98.23 438.26,97.92 438.35,97.53 438.45,97.62 438.54,96.34 438.63,94.38 438.72,91.42 438.81,88.39 438.91,86.32 439,84.71 439.09,86.02 439.18,88.65 439.27,91.54 439.37,94.58 439.46,96.54 439.55,97.53 439.64,97.9 439.73,97.66 439.83,97.6 439.92,97.91 440.01,97.82 440.1,97.73 440.19,98.27 440.29,97.75 440.38,98.23 440.47,98.32 440.56,97.67 440.65,98.31 440.74,97.89 440.84,97.74 440.93,97.72 441.02,97.61 441.11,97.97 441.2,97.88 441.3,98.26 441.39,98.24 441.48,97.62 441.57,97.9 441.66,97.89 441.76,97.72 441.85,97.78 441.94,97.79 442.03,98.13 442.12,97.85 442.22,97.67 442.31,97.76 442.4,97.93 442.49,98.03 442.58,97.78 442.68,98.14 442.77,97.75 442.86,98.12 442.95,98.07 443.04,97.72 443.13,98.18 443.23,97.9 443.32,98.01 443.41,98.06 443.5,98.09 443.59,97.94 443.69,97.63 443.78,98.21 443.87,98.27 443.96,97.98 444.05,98.05 444.15,97.8 444.24,98.3 444.33,98.13 444.42,97.76 444.51,98.24 444.61,98.37 444.7,97.86 444.79,98.38 444.88,97.97 444.97,97.73 445.07,98.16 445.16,97.86 445.25,98.17 445.34,98.02 445.43,97.56 445.52,97.67 445.62,97.38 445.71,95.99 445.8,94.27 445.89,92.22 445.98,89.6 446.08,88.19 446.17,88.26 446.26,89.9 446.35,91.69 446.44,93.91 446.54,96.22 446.63,97.14 446.72,97.49 446.81,98.19 446.9,98.27 447,98.02 447.09,98.38 447.18,98.26 447.27,98.19 447.36,97.82 447.46,97.6 447.55,98.13 447.64,98.18 447.73,97.87 447.82,97.97 447.91,98.04 448.01,97.79 448.1,98.15 448.19,98.04 448.28,97.9 448.37,97.68 448.47,98.03 448.56,97.85 448.65,98.17 448.74,97.73 448.83,97.91 448.93,97.75 449.02,97.92 449.11,98.05 449.2,97.68 449.29,97.64 449.39,97.98 449.48,97.75 449.57,98 449.66,97.73 449.75,97.67 449.84,98.02 449.94,98.33 450.03,98.29 450.12,98.01 450.21,97.91 450.3,97.65 450.4,97.81 450.49,97.85 450.58,98.35 450.67,97.69 450.76,98.35 450.86,97.98 450.95,97.94 451.04,97.8 451.13,98.36 451.22,97.74 451.32,98.05 451.41,98 451.5,97.75 451.59,97.77 451.68,98.38 451.78,98.23 451.87,98.18 451.96,98.32 452.05,97.67 452.14,98.15 452.23,98.18 452.33,97.69 452.42,97.61 452.51,97.22 452.6,94.59 452.69,90.33 452.79,81.55 452.88,69.8 452.97,55.55 453.06,44.28 453.15,39.7 453.25,44.57 453.34,55.93 453.43,69.67 453.52,81.97 453.61,90.06 453.71,94.97 453.8,96.65 453.89,97.68 453.98,97.98 454.07,97.89 454.17,97.63 454.26,97.73 454.35,98.11 454.44,97.77 454.53,98.2 454.62,98 454.72,98.36 454.81,98.27 454.9,98.18 454.99,97.89 455.08,97.63 455.18,98.04 455.27,98.19 455.36,98.33 455.45,97.76 455.54,97.72 455.64,98.38 455.73,98.19 455.82,97.98 455.91,98.19 456,97.72 456.1,98.03 456.19,98.13 456.28,98.08 456.37,97.73 456.46,97.71 456.56,98.1 456.65,98.3 456.74,97.71 456.83,97.6 456.92,97.66 457.01,98.23 457.11,97.91 457.2,97.96 457.29,98.39 457.38,98.09 457.47,97.81 457.57,98.16 457.66,97.6 457.75,97.82 457.84,98.16 457.93,97.73 458.03,97.62 458.12,97.98 458.21,97.72 458.3,97.89 458.39,96.18 458.49,94.33 458.58,89.2 458.67,81.73 458.76,71.27 458.85,61.38 458.95,54.73 459.04,54.65 459.13,61.21 459.22,71.55 459.31,81.36 459.4,89.08 459.5,94.02 459.59,96.18 459.68,97.36 459.77,97.92 459.86,98 459.96,98.07 460.05,97.83 460.14,97.62 460.23,97.62 460.32,97.87 460.42,97.76 460.51,98.05 460.6,97.81 460.69,98.21 460.78,98.08 460.88,98.13 460.97,98.19 461.06,98.02 461.15,97.94 461.24,97.85 461.33,97.65 461.43,98.23 461.52,98 461.61,97.68 461.7,98.34 461.79,98.06 461.89,98.1 461.98,97.95 462.07,97.7 462.16,98.4 462.25,97.73 462.35,97.89 462.44,98.4 462.53,97.7 462.62,98 462.71,97.98 462.81,97.8 462.9,98.34 462.99,97.93 463.08,97.61 463.17,97.98 463.27,97.6 463.36,98.17 463.45,98.29 463.54,98.32 463.63,97.64 463.72,98.14 463.82,97.84 463.91,97.95 464,97.73 464.09,97.49 464.18,96.69 464.28,95.66 464.37,92.67 464.46,89.61 464.55,84.56 464.64,81.76 464.74,79.75 464.83,81.05 464.92,85.12 465.01,89.26 465.1,93.21 465.2,95.57 465.29,97.09 465.38,97.31 465.47,98.03 465.56,97.98 465.66,98.36 465.75,97.6 465.84,97.65 465.93,98.14 466.02,98.34 466.11,97.94 466.21,98.17 466.3,98.05 466.39,97.91 466.48,97.97 466.57,98.08 466.67,97.62 466.76,97.84 466.85,98.19 466.94,97.81 467.03,97.98 467.13,97.8 467.22,97.89 467.31,98.12 467.4,98.19 467.49,98.36 467.59,97.98 467.68,97.76 467.77,97.87 467.86,97.65 467.95,97.79 468.05,98.07 468.14,98.09 468.23,97.79 468.32,97.74 468.41,97.68 468.5,97.74 468.6,98 468.69,97.8 468.78,98.31 468.87,98.05 468.96,97.85 469.06,97.87 469.15,97.37 469.24,97.46 469.33,96.44 469.42,94.28 469.52,91.85 469.61,88.38 469.7,85.78 469.79,84.78 469.88,85.76 469.98,88.64 470.07,91.79 470.16,94.57 470.25,95.92 470.34,97.48 470.44,97.72 470.53,97.82 470.62,97.98 470.71,97.94 470.8,97.76 470.89,97.92 470.99,98.12 471.08,98.17 471.17,98.33 471.26,97.76 471.35,98.31 471.45,98.24 471.54,98.17 471.63,98.38 471.72,97.71 471.81,98.22 471.91,98.32 472,97.7 472.09,98.08 472.18,98.36 472.27,97.83 472.37,98.28 472.46,98.32 472.55,97.95 472.64,97.72 472.73,97.77 472.82,98.26 472.92,97.94 473.01,97.85 473.1,97.95 473.19,98.34 473.28,97.8 473.38,97.61 473.47,98.36 473.56,97.85 473.65,97.91 473.74,98.38 473.84,97.83 473.93,97.67 474.02,98.31 474.11,97.79 474.2,97.76 474.3,98.28 474.39,97.52 474.48,97.5 474.57,95.73 474.66,93.09 474.76,88.77 474.85,83.48 474.94,78 475.03,74.39 475.12,74.48 475.21,77.79 475.31,83.71 475.4,89.34 475.49,93.45 475.58,96.12 475.67,96.84 475.77,97.53 475.86,97.69 475.95,97.71 476.04,98.37 476.13,98.32 476.23,98.33 476.32,98.05 476.41,97.69 476.5,97.94 476.59,97.64 476.69,98.32 476.78,97.81 476.87,97.83 476.96,98.36 477.05,97.76 477.15,98.34 477.24,97.85 477.33,98.13 477.42,97.69 477.51,98.32 477.6,97.92 477.7,97.88 477.79,98.12 477.88,98.07 477.97,97.8 478.06,97.7 478.16,98.06 478.25,97.62 478.34,98.3 478.43,97.87 478.52,97.74 478.62,97.86 478.71,97.69 478.8,97.85 478.89,98.03 478.98,97.93 479.08,97.87 479.17,97.83 479.26,97.99 479.35,98.22 479.44,97.95 479.54,98.21 479.63,97.99 479.72,97.7 479.81,97.74 479.9,98.28 479.99,97.98 480.09,97.91 480.18,98.01 480.27,98.28 480.36,97.9 480.45,97.89 480.55,97.89 480.64,97.61 480.73,98.04 480.82,97.98 480.91,98 481.01,97.96 481.1,97.98 481.19,98.17 481.28,97.75 481.37,98.39 481.47,97.69 481.56,98.29 481.65,97.74 481.74,98.24 481.83,97.81 481.93,97.66 482.02,98.03 482.11,98.27 482.2,98.28 482.29,98.3 482.38,98.38 482.48,97.64 482.57,97.9 482.66,97.69 482.75,98.2 482.84,97.96 482.94,98.2 483.03,98.24 483.12,98.39 483.21,98.12 483.3,98.2 483.4,97.7 483.49,96.71 483.58,96.01 483.67,92.95 483.76,89.39 483.86,85.92 483.95,82.13 484.04,81.13 484.13,81.93 484.22,85.42 484.31,89.9 484.41,92.9 484.5,95.71 484.59,97.4 484.68,97.43 484.77,98.06 484.87,98.17 484.96,98.09 485.05,98.21 485.14,98.16 485.23,97.61 485.33,97.75 485.42,98.03 485.51,98.38 485.6,97.77 485.69,98.07 485.79,97.7 485.88,98.28 485.97,97.96 486.06,98.02 486.15,98.14 486.25,97.71 486.34,98.18 486.43,98.24 486.52,98.29 486.61,97.83 486.7,97.79 486.8,97.73 486.89,98.32 486.98,97.95 487.07,97.91 487.16,98.02 487.26,98.16 487.35,97.85 487.44,97.87 487.53,98.2 487.62,98.17 487.72,97.65 487.81,97.08 487.9,96.83 487.99,94.82 488.08,91.7 488.18,87.61 488.27,84.17 488.36,81.28 488.45,81.11 488.54,83.48 488.64,87.57 488.73,91.7 488.82,94.53 488.91,96.85 489,97.54 489.09,97.78 489.19,98.08 489.28,98.07 489.37,98.09 489.46,98 489.55,98.02 489.65,97.99 489.74,98.27 489.83,97.75 489.92,98.23 490.01,97.84 490.11,98.28 490.2,97.66 490.29,97.99 490.38,97.95 490.47,98.17 490.57,97.76 490.66,97.81 490.75,97.71 490.84,98.05 490.93,98.06 491.03,97.6 491.12,97.74 491.21,97.76 491.3,98.37 491.39,97.96 491.48,98.05 491.58,97.83 491.67,98.13 491.76,98.25 491.85,98.13 491.94,97.58 492.04,97.87 492.13,97.73 492.22,96.91 492.31,96.47 492.4,94.24 492.5,91.51 492.59,88.66 492.68,86.07 492.77,85 492.86,86.29 492.96,88.58 493.05,91.55 493.14,94.04 493.23,96.28 493.32,97.16 493.42,97.77 493.51,97.8 493.6,97.59 493.69,97.63 493.78,97.73 493.87,97.68 493.97,98.28 494.06,98.06 494.15,97.79 494.24,98.17 494.33,98.11 494.43,97.65 494.52,98.2 494.61,97.78 494.7,98.4 494.79,97.71 494.89,97.83 494.98,97.8 495.07,98.29 495.16,98.25 495.25,98.06 495.35,97.72 495.44,97.94 495.53,98.16 495.62,97.65 495.71,98.34 495.8,98.27 495.9,98.33 495.99,98.1 496.08,97.92 496.17,97.94 496.26,96.82 496.36,95.97 496.45,94.67 496.54,93.57 496.63,93.34 496.72,92.78 496.82,94.02 496.91,94.88 497,96.43 497.09,97.22 497.18,97.7 497.28,98.11 497.37,97.58 497.46,97.8 497.55,97.89 497.64,97.94 497.74,98.14 497.83,98.3 497.92,98.19 498.01,98.34 498.1,98.16 498.19,97.89 498.29,98.01 498.38,98.2 498.47,98.25 498.56,97.9 498.65,97.88 498.75,98.09 498.84,97.78 498.93,98.31 499.02,97.6 499.11,98.12 499.21,97.99 499.3,97.76 499.39,98.06 499.48,97.98 499.57,98.37 499.67,98.31 499.76,98.06 499.85,98.26 499.94,98.16 500.03,97.22 500.13,96.77 500.22,94.52 500.31,90.38 500.4,83.6 500.49,75.24 500.58,67.76 500.68,64.29 500.77,65.26 500.86,71.59 500.95,79.49 501.04,87.22 501.14,92.29 501.23,95.43 501.32,97.44 501.41,97.85 501.5,97.83 501.6,98.03 501.69,97.95 501.78,98.11 501.87,98.01 501.96,97.83 502.06,98.38 502.15,98.31 502.24,98.21 502.33,97.82 502.42,97.76 502.52,98.18 502.61,98.26 502.7,98.12 502.79,97.77 502.88,98.18 502.97,98.02 503.07,97.9 503.16,98.07 503.25,97.96 503.34,98.12 503.43,98.2 503.53,98.39 503.62,97.69 503.71,98.06 503.8,98.36 503.89,98.13 503.99,98.06 504.08,98.28 504.17,97.63 504.26,98.23 504.35,98.1 504.45,98.07 504.54,97.85 504.63,98.1 504.72,97.7 504.81,98.02 504.91,97.81 505,98.35 505.09,98.24 505.18,97.98 505.27,98.2 505.36,97.91 505.46,98.02 505.55,97.73 505.64,98.29 505.73,98.21 505.82,98.21 505.92,97.67 506.01,98.26 506.1,97.61 506.19,98.05 506.28,97.99 506.38,97.65 506.47,97.94 506.56,98.31 506.65,98.1 506.74,97.85 506.84,98.25 506.93,97.88 507.02,98.32 507.11,97.92 507.2,97.66 507.29,98.37 507.39,97.61 507.48,97.64 507.57,97.71 507.66,96.36 507.75,95.07 507.85,92.66 507.94,88.97 508.03,85.35 508.12,83.5 508.21,83.56 508.31,85.53 508.4,89 508.49,92.23 508.58,94.96 508.67,97.06 508.77,97.87 508.86,97.43 508.95,97.71 509.04,97.77 509.13,98.23 509.23,97.76 509.32,97.74 509.41,98.21 509.5,97.74 509.59,98.38 509.68,97.96 509.78,98.32 509.87,98.26 509.96,97.77 510.05,98.23 510.14,97.93 510.24,97.78 510.33,97.64 510.42,98.16 510.51,98.05 510.6,97.84 510.7,98.27 510.79,97.76 510.88,97.96 510.97,97.67 511.06,97.87 511.16,98.26 511.25,97.86 511.34,97.37 511.43,97 511.52,96.61 511.62,95.4 511.71,94.97 511.8,93.73 511.89,94.37 511.98,94.76 512.07,95.83 512.17,96.38 512.26,96.86 512.35,97.38 512.44,97.97 512.53,97.58 512.63,97.68 512.72,98.22 512.81,98.3 512.9,98.28 512.99,98.27 513.09,98.04 513.18,98.3 513.27,98.16 513.36,98.05 513.45,97.94 513.55,97.62 513.64,97.67 513.73,97.8 513.82,97.97 513.91,97.7 514.01,98.38 514.1,98.06 514.19,98.19 514.28,98.31 514.37,97.78 514.46,98.31 514.56,98.37 514.65,97.81 514.74,97.68 514.83,98.18 514.92,98.12 515.02,97.75 515.11,96.84 515.2,96.02 515.29,94.36 515.38,93.19 515.48,92.54 515.57,92.8 515.66,93.08 515.75,95.01 515.84,95.56 515.94,97.29 516.03,97.3 516.12,98.07 516.21,98.19 516.3,98.35 516.4,97.97 516.49,98.16 516.58,97.83 516.67,98.27 516.76,97.69 516.85,98.31 516.95,98.07 517.04,97.65 517.13,98.35 517.22,97.85 517.31,97.65 517.41,97.81 517.5,97.62 517.59,97.83 517.68,98.17 517.77,98.39 517.87,98.11 517.96,98.28 518.05,98.26 518.14,98.17 518.23,97.91 518.33,97.8 518.42,97.72 518.51,98.04 518.6,97.76 518.69,98.17 518.78,97.78 518.88,97.84 518.97,97.5 519.06,96.99 519.15,95.78 519.24,94.9 519.34,94.46 519.43,93.77 519.52,94.44 519.61,95.47 519.7,95.96 519.8,97.26 519.89,97.55 519.98,98.13 520.07,97.94 520.16,98.18 520.26,98.14 520.35,97.75 520.44,98.01 520.53,98.06 520.62,97.97 520.72,98.13 520.81,98.33 520.9,98.24 520.99,98.25 521.08,97.71 521.17,98.16 521.27,98.09 521.36,98.31 521.45,97.44 521.54,97.21 521.63,96.88 521.73,94.27 521.82,90.71 521.91,85.03 522,78.46 522.09,73.21 522.19,71.25 522.28,73.65 522.37,78.57 522.46,85.19 522.55,90.39 522.65,94.54 522.74,96.58 522.83,97.66 522.92,98.14 523.01,97.62 523.11,98.36 523.2,98.09 523.29,97.81 523.38,97.97 523.47,97.68 523.56,97.78 523.66,98.27 523.75,98.17 523.84,98.29 523.93,97.73 524.02,97.69 524.12,97.9 524.21,98 524.3,98.17 524.39,97.84 524.48,98.19 524.58,98.07 524.67,97.83 524.76,98.23 524.85,97.64 524.94,97.99 525.04,97.51 525.13,97 525.22,96.58 525.31,95.35 525.4,93.78 525.5,91.97 525.59,91.38 525.68,91.27 525.77,91.79 525.86,93.3 525.95,95.7 526.05,96.52 526.14,97.05 526.23,97.5 526.32,98.08 526.41,97.72 526.51,97.89 526.6,98.14 526.69,97.88 526.78,98.12 526.87,98.36 526.97,98.23 527.06,98.1 527.15,98.1 527.24,97.85 527.33,98.11 527.43,98.12 527.52,98.07 527.61,97.99 527.7,98.2 527.79,97.76 527.89,98.17 527.98,98.38 528.07,97.63 528.16,97.8 528.25,98.39 528.34,97.67 528.44,98.25 528.53,98.06 528.62,97.66 528.71,98.1 528.8,97.6 528.9,98.25 528.99,97.77 529.08,98.16 529.17,97.96 529.26,97.08 529.36,96.98 529.45,96.52 529.54,96.91 529.63,96.48 529.72,96.71 529.82,97.06 529.91,97.93 530,97.62 530.09,97.79 530.18,97.93 530.27,98.03 530.37,97.93 530.46,98.36 530.55,97.87 530.64,97.98 530.73,98.29 530.83,97.79 530.92,97.74 531.01,98.27 531.1,97.85 531.19,98.31 531.29,98.26 531.38,97.9 531.47,97.87 531.56,97.68 531.65,98.3 531.75,97.95 531.84,97.87 531.93,97.74 532.02,97.78 532.11,98.3 532.21,97.7 532.3,98.04 532.39,98.1 532.48,98.02 532.57,98 532.66,97.92 532.76,97.75 532.85,98.26 532.94,98.32 533.03,98.05 533.12,97.8 533.22,98.33 533.31,97.76 533.4,97.74 533.49,98.1 533.58,98.27 533.68,98.06 533.77,97.69 533.86,98.38 533.95,97.72 534.04,97.87 534.14,98.39 534.23,98.23 534.32,98.2 534.41,97.66 534.5,98.28 534.6,97.92 534.69,97.6 534.78,98.19 534.87,98.21 534.96,97.26 535.05,97.04 535.15,96.43 535.24,94.56 535.33,92.9 535.42,91.95 535.51,91.15 535.61,92.12 535.7,93.35 535.79,94.98 535.88,96.27 535.97,96.84 536.07,97.77 536.16,97.93 536.25,97.95 536.34,98.04 536.43,97.84 536.53,97.76 536.62,98.33 536.71,97.89 536.8,97.68 536.89,98.38 536.99,98.01 537.08,98.14 537.17,97.87 537.26,97.72 537.35,97.87 537.44,98.27 537.54,97.82 537.63,98.33 537.72,97.84 537.81,98.32 537.9,97.74 538,97.95 538.09,97.7 538.18,97.72 538.27,98.02 538.36,97.89 538.46,98.03 538.55,97.77 538.64,97.85 538.73,97.86 538.82,98.32 538.92,97.66 539.01,97.93 539.1,98.28 539.19,98.06 539.28,97.8 539.38,98.4 539.47,97.69 539.56,97.71 539.65,97.61 539.74,97.95 539.83,98.29 539.93,97.83 540.02,97.83 540.11,98.24 540.2,97.66 540.29,97.61 540.39,98.13 540.48,97.67 540.57,98.02 540.66,97.72 540.75,98.08 540.85,98.27 540.94,97.93 541.03,97.7 541.12,97.72 541.21,97.17 541.31,95.45 541.4,93.63 541.49,91.17 541.58,88.73 541.67,86.94 541.76,87.25 541.86,88.53 541.95,91.59 542.04,93.72 542.13,95.58 542.22,96.68 542.32,97.32 542.41,97.65 542.5,98.27 542.59,97.93 542.68,97.95 542.78,98.37 542.87,98.37 542.96,98.21 543.05,97.79 543.14,97.86 543.24,98 543.33,97.81 543.42,97.88 543.51,97.77 543.6,97.79 543.7,98.2 543.79,98.08 543.88,97.96 543.97,97.98 544.06,98.09 544.15,98.15 544.25,97.62 544.34,98.27 544.43,97.97 544.52,97.87 544.61,98.37 544.71,98.21 544.8,97.88 544.89,97.62 544.98,97.95 545.07,97.95 545.17,97.9 545.26,97.68 545.35,98.06 545.44,97.8 545.53,98.21 545.63,98.01 545.72,97.79 545.81,98.15 545.9,97.7 545.99,97.18 546.09,97.04 546.18,96.56 546.27,96.67 546.36,97.05 546.45,97.27 546.54,97.33 546.64,97.24 546.73,97.53 546.82,97.65 546.91,97.85 547,98.1 547.1,97.61 547.19,97.99 547.28,97.94 547.37,98.13 547.46,98.26 547.56,97.92 547.65,98.08 547.74,97.82 547.83,97.96 547.92,98.11 548.02,97.64 548.11,98.01 548.2,98 548.29,97.75 548.38,97.8 548.48,98.26 548.57,97.88 548.66,97.75 548.75,97.83 548.84,98.02 548.93,97.92 549.03,97.88 549.12,97.86 549.21,97.77 549.3,98 549.39,98.08 549.49,97.67 549.58,98.07 549.67,97.85 549.76,98.38 549.85,98.35 549.95,97.7 550.04,98.16 550.13,97.88 550.22,97.69 550.31,98.3 550.41,98.33 550.5,98.23 550.59,98.1 550.68,98.34 550.77,97.92 550.87,97.8 550.96,97.37 551.05,96.86 551.14,95.98 551.23,94.67 551.32,94.04 551.42,94.31 551.51,94.9 551.6,95.58 551.69,96.86 551.78,97.53 551.88,97.81 551.97,97.9 552.06,98.11 552.15,97.74 552.24,98.24 552.34,97.7 552.43,98.32 552.52,98.1 552.61,97.82 552.7,97.75 552.8,98.08 552.89,97.97 552.98,98.16 553.07,97.68 553.16,98.3 553.25,97.94 553.35,97.95 553.44,98.19 553.53,98.08 553.62,97.93 553.71,97.74 553.81,97.7 553.9,96.98 553.99,96.47 554.08,95.92 554.17,94.21 554.27,93.24 554.36,93.48 554.45,93.47 554.54,94.54 554.63,95.73 554.73,96.84 554.82,97.21 554.91,97.95 555,97.51 555.09,98.25 555.19,97.84 555.28,98.1 555.37,97.84 555.46,98.2 555.55,97.9 555.64,98.08 555.74,97.86 555.83,98.27 555.92,98.22 556.01,97.76 556.1,98.21 556.2,98.35 556.29,97.79 556.38,97.75 556.47,98.34 556.56,98.37 556.66,97.7 556.75,98.22 556.84,98.34 556.93,97.81 557.02,98.22 557.12,97.84 557.21,98.23 557.3,98.01 557.39,97.98 557.48,97.7 557.58,98.12 557.67,98.16 557.76,97.83 557.85,97.64 557.94,97.67 558.03,97.81 558.13,98.4 558.22,98.2 558.31,98.32 558.4,98.2 558.49,97.71 558.59,97.91 558.68,98.36 558.77,98.28 558.86,98.39 558.95,98.26 559.05,98.17 559.14,98.21 559.23,98.33 559.32,97.94 559.41,97.63 559.51,97.85 559.6,97.61 559.69,97.81 559.78,98.05 559.87,97.76 559.97,97.61 560.06,97.18 560.15,96.78 560.24,95.91 560.33,94.68 560.42,93.68 560.52,92.17 560.61,92.32 560.7,92.98 560.79,94.95 560.88,96 560.98,97.02 561.07,97.75 561.16,97.41 561.25,98.26 561.34,97.85 561.44,98.1 561.53,97.92 561.62,98.2 561.71,97.84 561.8,97.82 561.9,97.8 561.99,98.18 562.08,97.96 562.17,97.72 562.26,97.88 562.36,98.05 562.45,97.9 562.54,98.07 562.63,98.27 562.72,98.11 562.81,98.24 562.91,97.84 563,98.3 563.09,98.35 563.18,98.02 563.27,97.62 563.37,97.67 563.46,98.21 563.55,98.29 563.64,98.18 563.73,98.01 563.83,98.03 563.92,97.69 564.01,98.06 564.1,98.36 564.19,97.65 564.29,97.83 564.38,97.79 564.47,97.33 564.56,96.79 564.65,96.52 564.74,96.91 564.84,97.26 564.93,97.51 565.02,97.43 565.11,97.94 565.2,98.13 565.3,97.86 565.39,98.19 565.48,97.9 565.57,97.76 565.66,97.6 565.76,98.18 565.85,98.2 565.94,97.63 566.03,97.65 566.12,97.85 566.22,97.77 566.31,98.19 566.4,97.75 566.49,98.07 566.58,98.04 566.68,97.88 566.77,98.28 566.86,97.95 566.95,98.01 567.04,98.13 567.13,97.92 567.23,97.75 567.32,98.36 567.41,98.2 567.5,98.04 567.59,98 567.69,98.09 567.78,97.84 567.87,97.66 567.96,98.04 568.05,98.32 568.15,97.68 568.24,98.38 568.33,97.9 568.42,98.4 568.51,98.22 568.61,97.82 568.7,97.77 568.79,98.31 568.88,98.38 568.97,98.23 569.07,98.03 569.16,97.93 569.25,97.94 569.34,97.62 569.43,97.07 569.52,95.89 569.62,95.59 569.71,95.23 569.8,94.92 569.89,94.93 569.98,95.81 570.08,96.92 570.17,97.31 570.26,98.05 570.35,98 570.44,98.12 570.54,97.71 570.63,98.02 570.72,98.17 570.81,98.33 570.9,98.32 571,97.81 571.09,97.98 571.18,98.31 571.27,97.46 571.36,97.14 571.46,96.69 571.55,96.34 571.64,95.1 571.73,94.66 571.82,94.46 571.91,94.74 572.01,94.87 572.1,96.3 572.19,97.18 572.28,97.65 572.37,98.08 572.47,98.18 572.56,98.07 572.65,98.29 572.74,98.03 572.83,97.69 572.93,97.83 573.02,98.35 573.11,97.87 573.2,97.98 573.29,98.3 573.39,98.15 573.48,98.23 573.57,97.98 573.66,98.01 573.75,97.66 573.85,97.76 573.94,97.73 574.03,98.03 574.12,98.02 574.21,97.66 574.3,98.11 574.4,97.68 574.49,97.91 574.58,97.62 574.67,97.98 574.76,97.72 574.86,98.35 574.95,97.89 575.04,98.26" fill="none" stroke="#FF0A0A" stroke-width="1.5" stroke-linejoin="round" />
<line x1="453.15" y1="47.4" x2="453.15" y2="39.8" stroke="#FF0A0A" stroke-width="1.2" stroke-dasharray="1,0.6"/>
<line x1="458.99" y1="55.6" x2="458.99" y2="54" stroke="#FF0A0A" stroke-width="1.2" stroke-dasharray="1,0.6"/>
<line x1="464.74" y1="81.6" x2="464.74" y2="80" stroke="#FF0A0A" stroke-width="1.2" stroke-dasharray="1,0.6"/>
<line x1="475.08" y1="76.3" x2="475.08" y2="74" stroke="#FF0A0A" stroke-width="1.2" stroke-dasharray="1,0.6"/>
<line x1="500.7" y1="70" x2="500.7" y2="64" stroke="#FF0A0A" stroke-width="1.2" stroke-dasharray="1,0.6"/>
<line x1="508.17" y1="84.9" x2="508.17" y2="83" stroke="#FF0A0A" stroke-width="1.2" stroke-dasharray="1,0.6"/>
<line x1="522.19" y1="74.5" x2="522.19" y2="71.2" stroke="#FF0A0A" stroke-width="1.2" stroke-dasharray="1,0.6"/>
<polyline points="414.18,96.8 414.27,96.82 414.36,96.83 414.46,96.85 414.55,96.86 414.64,96.88 414.73,96.89 414.82,96.91 414.92,96.92 415.01,96.94 415.1,96.95 415.19,96.96 415.28,96.98 415.37,96.99 415.47,97 415.56,97.02 415.65,97.03 415.74,97.04 415.83,97.06 415.93,97.07 416.02,97.08 416.11,97.09 416.2,97.11 416.29,97.12 416.39,97.13 416.48,97.14 416.57,97.15 416.66,97.16 416.75,97.17 416.85,97.18 416.94,97.2 417.03,97.21 417.12,97.22 417.21,97.23 417.31,97.24 417.4,97.25 417.49,97.26 417.58,97.27 417.67,97.28 417.76,97.29 417.86,97.3 417.95,97.31 418.04,97.31 418.13,97.32 418.22,97.33 418.32,97.34 418.41,97.35 418.5,97.36 418.59,97.37 418.68,97.38 418.78,97.38 418.87,97.39 418.96,97.4 419.05,97.41 419.14,97.42 419.24,97.42 419.33,97.43 419.42,97.44 419.51,97.45 419.6,97.45 419.7,97.46 419.79,97.47 419.88,97.47 419.97,97.48 420.06,97.49 420.15,97.5 420.25,97.5 420.34,97.51 420.43,97.52 420.52,97.52 420.61,97.53 420.71,97.53 420.8,97.54 420.89,97.55 420.98,97.55 421.07,97.56 421.17,97.56 421.26,97.57 421.35,97.58 421.44,97.58 421.53,97.59 421.63,97.59 421.72,97.6 421.81,97.6 421.9,97.61 421.99,97.61 422.09,97.62 422.18,97.62 422.27,97.63 422.36,97.63 422.45,97.64 422.54,97.64 422.64,97.65 422.73,97.65 422.82,97.66 422.91,97.66 423,97.67 423.1,97.67 423.19,97.68 423.28,97.68 423.37,97.68 423.46,97.69 423.56,97.69 423.65,97.7 423.74,97.7 423.83,97.7 423.92,97.71 424.02,97.71 424.11,97.72 424.2,97.72 424.29,97.72 424.38,97.73 424.48,97.73 424.57,97.73 424.66,97.74 424.75,97.74 424.84,97.74 424.93,97.75 425.03,97.75 425.12,97.75 425.21,97.76 425.3,97.76 425.39,97.76 425.49,97.77 425.58,97.77 425.67,97.77 425.76,97.78 425.85,97.78 425.95,97.78 426.04,97.79 426.13,97.79 426.22,97.79 426.31,97.79 426.41,97.8 426.5,97.8 426.59,97.8 426.68,97.8 426.77,97.81 426.86,97.81 426.96,97.81 427.05,97.81 427.14,97.82 427.23,97.82 427.32,97.82 427.42,97.82 427.51,97.83 427.6,97.83 427.69,97.83 427.78,97.83 427.88,97.84 427.97,97.84 428.06,97.84 428.15,97.84 428.24,97.84 428.34,97.85 428.43,97.85 428.52,97.85 428.61,97.85 428.7,97.85 428.8,97.86 428.89,97.86 428.98,97.86 429.07,97.86 429.16,97.86 429.25,97.87 429.35,97.87 429.44,97.86 429.53,97.85 429.62,97.79 429.71,97.6 429.81,97.11 429.9,96.03 429.99,94.07 430.08,91.22 430.17,87.94 430.27,85.25 430.36,84.2 430.45,85.25 430.54,87.95 430.63,91.23 430.73,94.09 430.82,96.04 430.91,97.13 431,97.62 431.09,97.82 431.19,97.88 431.28,97.89 431.37,97.9 431.46,97.9 431.55,97.9 431.64,97.9 431.74,97.91 431.83,97.91 431.92,97.91 432.01,97.91 432.1,97.91 432.2,97.91 432.29,97.91 432.38,97.91 432.47,97.92 432.56,97.92 432.66,97.92 432.75,97.92 432.84,97.92 432.93,97.92 433.02,97.92 433.12,97.92 433.21,97.92 433.3,97.93 433.39,97.93 433.48,97.93 433.58,97.93 433.67,97.93 433.76,97.93 433.85,97.93 433.94,97.93 434.03,97.93 434.13,97.93 434.22,97.93 434.31,97.94 434.4,97.94 434.49,97.94 434.59,97.94 434.68,97.94 434.77,97.94 434.86,97.94 434.95,97.94 435.05,97.94 435.14,97.94 435.23,97.94 435.32,97.94 435.41,97.94 435.51,97.95 435.6,97.95 435.69,97.95 435.78,97.95 435.87,97.95 435.97,97.95 436.06,97.95 436.15,97.95 436.24,97.95 436.33,97.95 436.42,97.95 436.52,97.95 436.61,97.95 436.7,97.95 436.79,97.95 436.88,97.96 436.98,97.96 437.07,97.96 437.16,97.96 437.25,97.96 437.34,97.96 437.44,97.96 437.53,97.96 437.62,97.96 437.71,97.96 437.8,97.96 437.9,97.96 437.99,97.96 438.08,97.96 438.17,97.95 438.26,97.89 438.35,97.73 438.45,97.32 438.54,96.4 438.63,94.75 438.72,92.34 438.81,89.57 438.91,87.29 439,86.4 439.09,87.29 439.18,89.57 439.27,92.34 439.37,94.75 439.46,96.4 439.55,97.32 439.64,97.74 439.73,97.9 439.83,97.95 439.92,97.97 440.01,97.97 440.1,97.97 440.19,97.97 440.29,97.97 440.38,97.97 440.47,97.97 440.56,97.97 440.65,97.97 440.74,97.97 440.84,97.97 440.93,97.98 441.02,97.98 441.11,97.98 441.2,97.98 441.3,97.98 441.39,97.98 441.48,97.98 441.57,97.98 441.66,97.98 441.76,97.98 441.85,97.98 441.94,97.98 442.03,97.98 442.12,97.98 442.22,97.98 442.31,97.98 442.4,97.98 442.49,97.98 442.58,97.98 442.68,97.98 442.77,97.98 442.86,97.98 442.95,97.98 443.04,97.98 443.13,97.98 443.23,97.98 443.32,97.98 443.41,97.98 443.5,97.98 443.59,97.98 443.69,97.98 443.78,97.98 443.87,97.98 443.96,97.98 444.05,97.98 444.15,97.98 444.24,97.98 444.33,97.98 444.42,97.99 444.51,97.99 444.61,97.99 444.7,97.99 444.79,97.99 444.88,97.99 444.97,97.99 445.07,97.99 445.16,97.99 445.25,97.98 445.34,97.96 445.43,97.89 445.52,97.68 445.62,97.19 445.71,96.21 445.8,94.61 445.89,92.54 445.98,90.48 446.08,89.18 446.17,89.18 446.26,90.48 446.35,92.54 446.44,94.62 446.54,96.21 446.63,97.19 446.72,97.68 446.81,97.89 446.9,97.96 447,97.98 447.09,97.99 447.18,97.99 447.27,97.99 447.36,97.99 447.46,97.99 447.55,97.99 447.64,97.99 447.73,97.99 447.82,97.99 447.91,97.99 448.01,97.99 448.1,97.99 448.19,97.99 448.28,97.99 448.37,97.99 448.47,97.99 448.56,97.99 448.65,97.99 448.74,97.99 448.83,97.99 448.93,97.99 449.02,97.99 449.11,97.99 449.2,97.99 449.29,97.99 449.39,97.99 449.48,97.99 449.57,97.99 449.66,97.99 449.75,97.99 449.84,97.99 449.94,97.99 450.03,97.99 450.12,97.99 450.21,97.99 450.3,97.99 450.4,97.99 450.49,97.99 450.58,97.99 450.67,97.99 450.76,97.99 450.86,97.99 450.95,97.99 451.04,97.99 451.13,97.99 451.22,97.99 451.32,97.99 451.41,97.99 451.5,97.99 451.59,97.99 451.68,97.99 451.78,97.99 451.87,97.99 451.96,97.99 452.05,97.99 452.14,97.99 452.23,97.98 452.33,97.92 452.42,97.69 452.51,96.99 452.6,95.16 452.69,91.15 452.79,83.93 452.88,73.37 452.97,61.26 453.06,51.29 453.15,47.4 453.25,51.29 453.34,61.26 453.43,73.37 453.52,83.93 453.61,91.15 453.71,95.16 453.8,96.99 453.89,97.69 453.98,97.92 454.07,97.98 454.17,97.99 454.26,98 454.35,98 454.44,98 454.53,98 454.62,98 454.72,98 454.81,98 454.9,98 454.99,98 455.08,98 455.18,98 455.27,98 455.36,98 455.45,98 455.54,98 455.64,98 455.73,98 455.82,98 455.91,98 456,98 456.1,98 456.19,98 456.28,98 456.37,98 456.46,98 456.56,98 456.65,98 456.74,98 456.83,98 456.92,98 457.01,98 457.11,98 457.2,98 457.29,98 457.38,98 457.47,98 457.57,98 457.66,98 457.75,98 457.84,98 457.93,98 458.03,97.99 458.12,97.97 458.21,97.87 458.3,97.53 458.39,96.55 458.49,94.23 458.58,89.61 458.67,82.09 458.76,72.28 458.85,62.58 458.95,56.44 459.04,56.44 459.13,62.58 459.22,72.28 459.31,82.09 459.4,89.61 459.5,94.23 459.59,96.55 459.68,97.53 459.77,97.87 459.86,97.97 459.96,97.99 460.05,98 460.14,98 460.23,98 460.32,98 460.42,98 460.51,98 460.6,98 460.69,98 460.78,98 460.88,98 460.97,98 461.06,98 461.15,98 461.24,98 461.33,98 461.43,98 461.52,98 461.61,98 461.7,98 461.79,98 461.89,98 461.98,98 462.07,98 462.16,98 462.25,98 462.35,98 462.44,98 462.53,98 462.62,98 462.71,98 462.81,98 462.9,98 462.99,98 463.08,98 463.17,98 463.27,98 463.36,98 463.45,98 463.54,98 463.63,98 463.72,98 463.82,97.99 463.91,97.97 464,97.9 464.09,97.67 464.18,97.08 464.28,95.78 464.37,93.44 464.46,90.02 464.55,86.09 464.64,82.86 464.74,81.6 464.83,82.86 464.92,86.09 465.01,90.02 465.1,93.44 465.2,95.78 465.29,97.08 465.38,97.67 465.47,97.9 465.56,97.97 465.66,97.99 465.75,98 465.84,98 465.93,98 466.02,98 466.11,98 466.21,98 466.3,98 466.39,98 466.48,98 466.57,98 466.67,98 466.76,98 466.85,98 466.94,98 467.03,98 467.13,98 467.22,98 467.31,98 467.4,98 467.49,98 467.59,98 467.68,98 467.77,98 467.86,98 467.95,98 468.05,98 468.14,98 468.23,98 468.32,98 468.41,98 468.5,98 468.6,98 468.69,98 468.78,98 468.87,98 468.96,97.98 469.06,97.93 469.15,97.77 469.24,97.35 469.33,96.43 469.42,94.77 469.52,92.35 469.61,89.58 469.7,87.29 469.79,86.4 469.88,87.29 469.98,89.58 470.07,92.35 470.16,94.77 470.25,96.43 470.34,97.35 470.44,97.77 470.53,97.93 470.62,97.98 470.71,98 470.8,98 470.89,98 470.99,98 471.08,98 471.17,98 471.26,98 471.35,98 471.45,98 471.54,98 471.63,98 471.72,98 471.81,98 471.91,98 472,98 472.09,98 472.18,98 472.27,98 472.37,98 472.46,98 472.55,98 472.64,98 472.73,98 472.82,98 472.92,98 473.01,98 473.1,98 473.19,98 473.28,98 473.38,98 473.47,98 473.56,98 473.65,98 473.74,98 473.84,98 473.93,98 474.02,98 474.11,98 474.2,97.98 474.3,97.93 474.39,97.76 474.48,97.26 474.57,96.07 474.66,93.71 474.76,89.86 474.85,84.84 474.94,79.87 475.03,76.73 475.12,76.73 475.21,79.87 475.31,84.84 475.4,89.86 475.49,93.71 475.58,96.07 475.67,97.26 475.77,97.76 475.86,97.93 475.95,97.98 476.04,98 476.13,98 476.23,98 476.32,98 476.41,98 476.5,98 476.59,98 476.69,98 476.78,98 476.87,98 476.96,98 477.05,98 477.15,98 477.24,98 477.33,98 477.42,98 477.51,98 477.6,98 477.7,98 477.79,98 477.88,98 477.97,98 478.06,98 478.16,98 478.25,98 478.34,98 478.43,98 478.52,98 478.62,98 478.71,98 478.8,98 478.89,98 478.98,98 479.08,98 479.17,98 479.26,98 479.35,98 479.44,98 479.54,98 479.63,98 479.72,98 479.81,98 479.9,98 479.99,98 480.09,98 480.18,98 480.27,98 480.36,98 480.45,98 480.55,98 480.64,98 480.73,98 480.82,98 480.91,98 481.01,98 481.1,98 481.19,98 481.28,98 481.37,98 481.47,98 481.56,98 481.65,98 481.74,98 481.83,98 481.93,98 482.02,98 482.11,98 482.2,98 482.29,98 482.38,98 482.48,98 482.57,98 482.66,98 482.75,98 482.84,98 482.94,98 483.03,98 483.12,97.99 483.21,97.98 483.3,97.91 483.4,97.69 483.49,97.13 483.58,95.9 483.67,93.69 483.76,90.46 483.86,86.74 483.95,83.69 484.04,82.5 484.13,83.69 484.22,86.74 484.31,90.46 484.41,93.69 484.5,95.9 484.59,97.13 484.68,97.69 484.77,97.91 484.87,97.98 484.96,97.99 485.05,98 485.14,98 485.23,98 485.33,98 485.42,98 485.51,98 485.6,98 485.69,98 485.79,98 485.88,98 485.97,98 486.06,98 486.15,98 486.25,98 486.34,98 486.43,98 486.52,98 486.61,98 486.7,98 486.8,98 486.89,98 486.98,98 487.07,98 487.16,98 487.26,98 487.35,98 487.44,98 487.53,97.99 487.62,97.95 487.72,97.83 487.81,97.47 487.9,96.62 487.99,94.93 488.08,92.18 488.18,88.6 488.27,85.05 488.36,82.81 488.45,82.81 488.54,85.05 488.64,88.6 488.73,92.18 488.82,94.93 488.91,96.62 489,97.47 489.09,97.83 489.19,97.95 489.28,97.99 489.37,98 489.46,98 489.55,98 489.65,98 489.74,98 489.83,98 489.92,98 490.01,98 490.11,98 490.2,98 490.29,98 490.38,98 490.47,98 490.57,98 490.66,98 490.75,98 490.84,98 490.93,98 491.03,98 491.12,98 491.21,98 491.3,98 491.39,98 491.48,98 491.58,98 491.67,98 491.76,98 491.85,98 491.94,97.98 492.04,97.93 492.13,97.77 492.22,97.35 492.31,96.43 492.4,94.77 492.5,92.35 492.59,89.58 492.68,87.29 492.77,86.4 492.86,87.29 492.96,89.58 493.05,92.35 493.14,94.77 493.23,96.43 493.32,97.35 493.42,97.77 493.51,97.93 493.6,97.98 493.69,98 493.78,98 493.87,98 493.97,98 494.06,98 494.15,98 494.24,98 494.33,98 494.43,98 494.52,98 494.61,98 494.7,98 494.79,98 494.89,98 494.98,98 495.07,98 495.16,98 495.25,98 495.35,98 495.44,98 495.53,98 495.62,98 495.71,98 495.8,98 495.9,97.99 495.99,97.96 496.08,97.86 496.17,97.64 496.26,97.21 496.36,96.5 496.45,95.57 496.54,94.66 496.63,94.08 496.72,94.08 496.82,94.66 496.91,95.57 497,96.5 497.09,97.21 497.18,97.64 497.28,97.86 497.37,97.96 497.46,97.99 497.55,98 497.64,98 497.74,98 497.83,98 497.92,98 498.01,98 498.1,98 498.19,98 498.29,98 498.38,98 498.47,98 498.56,98 498.65,98 498.75,98 498.84,98 498.93,98 499.02,98 499.11,98 499.21,98 499.3,98 499.39,98 499.48,98 499.57,98 499.67,98 499.76,97.99 499.85,97.97 499.94,97.88 500.03,97.58 500.13,96.77 500.22,94.91 500.31,91.4 500.4,85.97 500.49,79.32 500.58,73.29 500.68,70.14 500.77,71.23 500.86,76.08 500.95,82.71 501.04,88.91 501.14,93.39 501.23,96.01 501.32,97.27 501.41,97.77 501.5,97.94 501.6,97.99 501.69,98 501.78,98 501.87,98 501.96,98 502.06,98 502.15,98 502.24,98 502.33,98 502.42,98 502.52,98 502.61,98 502.7,98 502.79,98 502.88,98 502.97,98 503.07,98 503.16,98 503.25,98 503.34,98 503.43,98 503.53,98 503.62,98 503.71,98 503.8,98 503.89,98 503.99,98 504.08,98 504.17,98 504.26,98 504.35,98 504.45,98 504.54,98 504.63,98 504.72,98 504.81,98 504.91,98 505,98 505.09,98 505.18,98 505.27,98 505.36,98 505.46,98 505.55,98 505.64,98 505.73,98 505.82,98 505.92,98 506.01,98 506.1,98 506.19,98 506.28,98 506.38,98 506.47,98 506.56,98 506.65,98 506.74,98 506.84,98 506.93,98 507.02,98 507.11,98 507.2,98 507.29,97.99 507.39,97.96 507.48,97.85 507.57,97.55 507.66,96.84 507.75,95.41 507.85,93.08 507.94,90.05 508.03,87.06 508.12,85.16 508.21,85.16 508.31,87.06 508.4,90.05 508.49,93.08 508.58,95.41 508.67,96.84 508.77,97.55 508.86,97.85 508.95,97.96 509.04,97.99 509.13,98 509.23,98 509.32,98 509.41,98 509.5,98 509.59,98 509.68,98 509.78,98 509.87,98 509.96,98 510.05,98 510.14,98 510.24,98 510.33,98 510.42,98 510.51,98 510.6,98 510.7,98 510.79,98 510.88,98 510.97,98 511.06,97.99 511.16,97.97 511.25,97.9 511.34,97.73 511.43,97.41 511.52,96.87 511.62,96.18 511.71,95.49 511.8,95.06 511.89,95.06 511.98,95.49 512.07,96.18 512.17,96.87 512.26,97.41 512.35,97.73 512.44,97.9 512.53,97.97 512.63,97.99 512.72,98 512.81,98 512.9,98 512.99,98 513.09,98 513.18,98 513.27,98 513.36,98 513.45,98 513.55,98 513.64,98 513.73,98 513.82,98 513.91,98 514.01,98 514.1,98 514.19,98 514.28,98 514.37,98 514.46,98 514.56,98 514.65,98 514.74,97.99 514.83,97.95 514.92,97.85 515.02,97.61 515.11,97.13 515.2,96.35 515.29,95.33 515.38,94.32 515.48,93.69 515.57,93.69 515.66,94.32 515.75,95.33 515.84,96.35 515.94,97.13 516.03,97.61 516.12,97.85 516.21,97.95 516.3,97.99 516.4,98 516.49,98 516.58,98 516.67,98 516.76,98 516.85,98 516.95,98 517.04,98 517.13,98 517.22,98 517.31,98 517.41,98 517.5,98 517.59,98 517.68,98 517.77,98 517.87,98 517.96,98 518.05,98 518.14,98 518.23,98 518.33,98 518.42,98 518.51,98 518.6,98 518.69,97.98 518.78,97.94 518.88,97.83 518.97,97.59 519.06,97.17 519.15,96.54 519.24,95.82 519.34,95.23 519.43,95 519.52,95.23 519.61,95.82 519.7,96.54 519.8,97.17 519.89,97.59 519.98,97.83 520.07,97.94 520.16,97.98 520.26,98 520.35,98 520.44,98 520.53,98 520.62,98 520.72,98 520.81,98 520.9,98 520.99,98 521.08,98 521.17,98 521.27,97.99 521.36,97.96 521.45,97.86 521.54,97.53 521.63,96.68 521.73,94.82 521.82,91.47 521.91,86.56 522,80.94 522.09,76.31 522.19,74.5 522.28,76.31 522.37,80.94 522.46,86.56 522.55,91.47 522.65,94.82 522.74,96.68 522.83,97.53 522.92,97.86 523.01,97.96 523.11,97.99 523.2,98 523.29,98 523.38,98 523.47,98 523.56,98 523.66,98 523.75,98 523.84,98 523.93,98 524.02,98 524.12,98 524.21,98 524.3,98 524.39,98 524.48,98 524.58,98 524.67,98 524.76,97.99 524.85,97.98 524.94,97.92 525.04,97.76 525.13,97.37 525.22,96.59 525.31,95.34 525.4,93.69 525.5,92.07 525.59,91.04 525.68,91.04 525.77,92.07 525.86,93.69 525.95,95.34 526.05,96.59 526.14,97.37 526.23,97.76 526.32,97.92 526.41,97.98 526.51,97.99 526.6,98 526.69,98 526.78,98 526.87,98 526.97,98 527.06,98 527.15,98 527.24,98 527.33,98 527.43,98 527.52,98 527.61,98 527.7,98 527.79,98 527.89,98 527.98,98 528.07,98 528.16,98 528.25,98 528.34,98 528.44,98 528.53,98 528.62,98 528.71,98 528.8,97.99 528.9,97.97 528.99,97.93 529.08,97.82 529.17,97.64 529.26,97.37 529.36,97.06 529.45,96.8 529.54,96.7 529.63,96.8 529.72,97.06 529.82,97.37 529.91,97.64 530,97.82 530.09,97.93 530.18,97.97 530.27,97.99 530.37,98 530.46,98 530.55,98 530.64,98 530.73,98 530.83,98 530.92,98 531.01,98 531.1,98 531.19,98 531.29,98 531.38,98 531.47,98 531.56,98 531.65,98 531.75,98 531.84,98 531.93,98 532.02,98 532.11,98 532.21,98 532.3,98 532.39,98 532.48,98 532.57,98 532.66,98 532.76,98 532.85,98 532.94,98 533.03,98 533.12,98 533.22,98 533.31,98 533.4,98 533.49,98 533.58,98 533.68,98 533.77,98 533.86,98 533.95,98 534.04,98 534.14,98 534.23,98 534.32,98 534.41,98 534.5,98 534.6,98 534.69,97.99 534.78,97.96 534.87,97.87 534.96,97.62 535.05,97.08 535.15,96.11 535.24,94.69 535.33,93.06 535.42,91.72 535.51,91.2 535.61,91.72 535.7,93.06 535.79,94.69 535.88,96.11 535.97,97.08 536.07,97.62 536.16,97.87 536.25,97.96 536.34,97.99 536.43,98 536.53,98 536.62,98 536.71,98 536.8,98 536.89,98 536.99,98 537.08,98 537.17,98 537.26,98 537.35,98 537.44,98 537.54,98 537.63,98 537.72,98 537.81,98 537.9,98 538,98 538.09,98 538.18,98 538.27,98 538.36,98 538.46,98 538.55,98 538.64,98 538.73,98 538.82,98 538.92,98 539.01,98 539.1,98 539.19,98 539.28,98 539.38,98 539.47,98 539.56,98 539.65,98 539.74,98 539.83,98 539.93,98 540.02,98 540.11,98 540.2,98 540.29,98 540.39,98 540.48,98 540.57,98 540.66,98 540.75,98 540.85,97.99 540.94,97.97 541.03,97.88 541.12,97.62 541.21,97.01 541.31,95.8 541.4,93.83 541.49,91.27 541.58,88.73 541.67,87.12 541.76,87.12 541.86,88.73 541.95,91.27 542.04,93.83 542.13,95.8 542.22,97.01 542.32,97.62 542.41,97.88 542.5,97.97 542.59,97.99 542.68,98 542.78,98 542.87,98 542.96,98 543.05,98 543.14,98 543.24,98 543.33,98 543.42,98 543.51,98 543.6,98 543.7,98 543.79,98 543.88,98 543.97,98 544.06,98 544.15,98 544.25,98 544.34,98 544.43,98 544.52,98 544.61,98 544.71,98 544.8,98 544.89,98 544.98,98 545.07,98 545.17,98 545.26,98 545.35,98 545.44,98 545.53,98 545.63,97.99 545.72,97.96 545.81,97.88 545.9,97.74 545.99,97.51 546.09,97.21 546.18,96.91 546.27,96.73 546.36,96.73 546.45,96.91 546.54,97.21 546.64,97.51 546.73,97.74 546.82,97.88 546.91,97.96 547,97.99 547.1,98 547.19,98 547.28,98 547.37,98 547.46,98 547.56,98 547.65,98 547.74,98 547.83,98 547.92,98 548.02,98 548.11,98 548.2,98 548.29,98 548.38,98 548.48,98 548.57,98 548.66,98 548.75,98 548.84,98 548.93,98 549.03,98 549.12,98 549.21,98 549.3,98 549.39,98 549.49,98 549.58,98 549.67,98 549.76,98 549.85,98 549.95,98 550.04,98 550.13,98 550.22,98 550.31,98 550.41,98 550.5,98 550.59,97.99 550.68,97.96 550.77,97.87 550.87,97.66 550.96,97.25 551.05,96.57 551.14,95.7 551.23,94.83 551.32,94.28 551.42,94.28 551.51,94.83 551.6,95.7 551.69,96.57 551.78,97.25 551.88,97.66 551.97,97.87 552.06,97.96 552.15,97.99 552.24,98 552.34,98 552.43,98 552.52,98 552.61,98 552.7,98 552.8,98 552.89,98 552.98,98 553.07,98 553.16,98 553.25,98 553.35,98 553.44,98 553.53,97.99 553.62,97.97 553.71,97.9 553.81,97.73 553.9,97.35 553.99,96.67 554.08,95.66 554.17,94.51 554.27,93.57 554.36,93.2 554.45,93.57 554.54,94.51 554.63,95.66 554.73,96.67 554.82,97.35 554.91,97.73 555,97.9 555.09,97.97 555.19,97.99 555.28,98 555.37,98 555.46,98 555.55,98 555.64,98 555.74,98 555.83,98 555.92,98 556.01,98 556.1,98 556.2,98 556.29,98 556.38,98 556.47,98 556.56,98 556.66,98 556.75,98 556.84,98 556.93,98 557.02,98 557.12,98 557.21,98 557.3,98 557.39,98 557.48,98 557.58,98 557.67,98 557.76,98 557.85,98 557.94,98 558.03,98 558.13,98 558.22,98 558.31,98 558.4,98 558.49,98 558.59,98 558.68,98 558.77,98 558.86,98 558.95,98 559.05,98 559.14,98 559.23,98 559.32,98 559.41,98 559.51,98 559.6,98 559.69,98 559.78,97.98 559.87,97.94 559.97,97.81 560.06,97.5 560.15,96.89 560.24,95.9 560.33,94.6 560.42,93.32 560.52,92.51 560.61,92.51 560.7,93.32 560.79,94.6 560.88,95.9 560.98,96.89 561.07,97.5 561.16,97.81 561.25,97.94 561.34,97.98 561.44,98 561.53,98 561.62,98 561.71,98 561.8,98 561.9,98 561.99,98 562.08,98 562.17,98 562.26,98 562.36,98 562.45,98 562.54,98 562.63,98 562.72,98 562.81,98 562.91,98 563,98 563.09,98 563.18,98 563.27,98 563.37,98 563.46,98 563.55,98 563.64,98 563.73,98 563.83,98 563.92,98 564.01,97.99 564.1,97.96 564.19,97.88 564.29,97.74 564.38,97.51 564.47,97.21 564.56,96.91 564.65,96.73 564.74,96.73 564.84,96.91 564.93,97.21 565.02,97.51 565.11,97.74 565.2,97.88 565.3,97.96 565.39,97.99 565.48,98 565.57,98 565.66,98 565.76,98 565.85,98 565.94,98 566.03,98 566.12,98 566.22,98 566.31,98 566.4,98 566.49,98 566.58,98 566.68,98 566.77,98 566.86,98 566.95,98 567.04,98 567.13,98 567.23,98 567.32,98 567.41,98 567.5,98 567.59,98 567.69,98 567.78,98 567.87,98 567.96,98 568.05,98 568.15,98 568.24,98 568.33,98 568.42,98 568.51,98 568.61,98 568.7,98 568.79,98 568.88,98 568.97,97.99 569.07,97.96 569.16,97.89 569.25,97.72 569.34,97.37 569.43,96.8 569.52,96.06 569.62,95.33 569.71,94.86 569.8,94.86 569.89,95.33 569.98,96.06 570.08,96.8 570.17,97.37 570.26,97.72 570.35,97.89 570.44,97.96 570.54,97.99 570.63,98 570.72,98 570.81,98 570.9,98 571,97.99 571.09,97.98 571.18,97.92 571.27,97.79 571.36,97.49 571.46,96.94 571.55,96.15 571.64,95.24 571.73,94.49 571.82,94.2 571.91,94.49 572.01,95.24 572.1,96.15 572.19,96.94 572.28,97.49 572.37,97.79 572.47,97.92 572.56,97.98 572.65,97.99 572.74,98 572.83,98 572.93,98 573.02,98 573.11,98 573.2,98 573.29,98 573.39,98 573.48,98 573.57,98 573.66,98 573.75,98 573.85,98 573.94,98 574.03,98 574.12,98 574.21,98 574.3,98 574.4,98 574.49,98 574.58,98 574.67,98 574.76,98 574.86,98 574.95,98 575.04,98" fill="none" stroke="#000" stroke-width="1.0" stroke-linejoin="round" />
<line x1="415.1" y1="101.3" x2="415.1" y2="103.8" stroke="#1E8C1E" stroke-width="0.8" stroke-opacity="0.56"/>
<line x1="419.3" y1="101.3" x2="419.3" y2="103.8" stroke="#1E8C1E" stroke-width="0.8" stroke-opacity="0.58"/>
<line x1="422.5" y1="101.3" x2="422.5" y2="103.8" stroke="#1E8C1E" stroke-width="0.8" stroke-opacity="0.60"/>
<line x1="427.16" y1="101.3" x2="427.16" y2="103.8" stroke="#1E8C1E" stroke-width="0.8" stroke-opacity="0.62"/>
<line x1="429.47" y1="101.3" x2="429.47" y2="103.8" stroke="#1E8C1E" stroke-width="0.8" stroke-opacity="0.64"/>
<line x1="432.26" y1="101.3" x2="432.26" y2="103.8" stroke="#1E8C1E" stroke-width="0.8" stroke-opacity="0.65"/>
<line x1="435.12" y1="101.3" x2="435.12" y2="103.8" stroke="#1E8C1E" stroke-width="0.8" stroke-opacity="0.67"/>
<line x1="438.53" y1="101.3" x2="438.53" y2="103.8" stroke="#1E8C1E" stroke-width="0.8" stroke-opacity="0.69"/>
<line x1="440.98" y1="101.3" x2="440.98" y2="103.8" stroke="#1E8C1E" stroke-width="0.8" stroke-opacity="0.70"/>
<line x1="442.01" y1="101.3" x2="442.01" y2="103.8" stroke="#1E8C1E" stroke-width="0.8" stroke-opacity="0.71"/>
<line x1="443.74" y1="101.3" x2="443.74" y2="103.8" stroke="#1E8C1E" stroke-width="0.8" stroke-opacity="0.72"/>
<line x1="446.22" y1="101.3" x2="446.22" y2="103.8" stroke="#1E8C1E" stroke-width="0.8" stroke-opacity="0.73"/>
<line x1="448.35" y1="101.3" x2="448.35" y2="103.8" stroke="#1E8C1E" stroke-width="0.8" stroke-opacity="0.74"/>
<line x1="449.63" y1="101.3" x2="449.63" y2="103.8" stroke="#1E8C1E" stroke-width="0.8" stroke-opacity="0.75"/>
<line x1="450.51" y1="101.3" x2="450.51" y2="103.8" stroke="#1E8C1E" stroke-width="0.8" stroke-opacity="0.75"/>
<line x1="451.55" y1="101.3" x2="451.55" y2="103.8" stroke="#1E8C1E" stroke-width="0.8" stroke-opacity="0.76"/>
<line x1="453.21" y1="101.3" x2="453.21" y2="103.8" stroke="#1E8C1E" stroke-width="0.8" stroke-opacity="0.77"/>
<line x1="454.06" y1="101.3" x2="454.06" y2="103.8" stroke="#1E8C1E" stroke-width="0.8" stroke-opacity="0.77"/>
<line x1="455.74" y1="101.3" x2="455.74" y2="103.8" stroke="#1E8C1E" stroke-width="0.8" stroke-opacity="0.78"/>
<line x1="456.61" y1="101.3" x2="456.61" y2="103.8" stroke="#1E8C1E" stroke-width="0.8" stroke-opacity="0.79"/>
<line x1="457.94" y1="101.3" x2="457.94" y2="103.8" stroke="#1E8C1E" stroke-width="0.8" stroke-opacity="0.79"/>
<line x1="459.2" y1="101.3" x2="459.2" y2="103.8" stroke="#1E8C1E" stroke-width="0.8" stroke-opacity="0.80"/>
<line x1="459.96" y1="101.3" x2="459.96" y2="103.8" stroke="#1E8C1E" stroke-width="0.8" stroke-opacity="0.81"/>
<line x1="460.97" y1="101.3" x2="460.97" y2="103.8" stroke="#1E8C1E" stroke-width="0.8" stroke-opacity="0.81"/>
<line x1="462.05" y1="101.3" x2="462.05" y2="103.8" stroke="#1E8C1E" stroke-width="0.8" stroke-opacity="0.82"/>
<line x1="462.77" y1="101.3" x2="462.77" y2="103.8" stroke="#1E8C1E" stroke-width="0.8" stroke-opacity="0.82"/>
<line x1="463.7" y1="101.3" x2="463.7" y2="103.8" stroke="#1E8C1E" stroke-width="0.8" stroke-opacity="0.83"/>
<line x1="464.69" y1="101.3" x2="464.69" y2="103.8" stroke="#1E8C1E" stroke-width="0.8" stroke-opacity="0.83"/>
<line x1="465.92" y1="101.3" x2="465.92" y2="103.8" stroke="#1E8C1E" stroke-width="0.8" stroke-opacity="0.84"/>
<line x1="466.56" y1="101.3" x2="466.56" y2="103.8" stroke="#1E8C1E" stroke-width="0.8" stroke-opacity="0.84"/>
<line x1="467.1" y1="101.3" x2="467.1" y2="103.8" stroke="#1E8C1E" stroke-width="0.8" stroke-opacity="0.85"/>
<line x1="467.88" y1="101.3" x2="467.88" y2="103.8" stroke="#1E8C1E" stroke-width="0.8" stroke-opacity="0.85"/>
<line x1="468.72" y1="101.3" x2="468.72" y2="103.8" stroke="#1E8C1E" stroke-width="0.8" stroke-opacity="0.86"/>
<line x1="469.45" y1="101.3" x2="469.45" y2="103.8" stroke="#1E8C1E" stroke-width="0.8" stroke-opacity="0.86"/>
<line x1="470.47" y1="101.3" x2="470.47" y2="103.8" stroke="#1E8C1E" stroke-width="0.8" stroke-opacity="0.86"/>
<line x1="470.96" y1="101.3" x2="470.96" y2="103.8" stroke="#1E8C1E" stroke-width="0.8" stroke-opacity="0.87"/>
<line x1="471.65" y1="101.3" x2="471.65" y2="103.8" stroke="#1E8C1E" stroke-width="0.8" stroke-opacity="0.87"/>
<line x1="472.3" y1="101.3" x2="472.3" y2="103.8" stroke="#1E8C1E" stroke-width="0.8" stroke-opacity="0.88"/>
<line x1="472.76" y1="101.3" x2="472.76" y2="103.8" stroke="#1E8C1E" stroke-width="0.8" stroke-opacity="0.88"/>
<line x1="473.38" y1="101.3" x2="473.38" y2="103.8" stroke="#1E8C1E" stroke-width="0.8" stroke-opacity="0.88"/>
<line x1="473.98" y1="101.3" x2="473.98" y2="103.8" stroke="#1E8C1E" stroke-width="0.8" stroke-opacity="0.88"/>
<line x1="474.53" y1="101.3" x2="474.53" y2="103.8" stroke="#1E8C1E" stroke-width="0.8" stroke-opacity="0.89"/>
<line x1="475.3" y1="101.3" x2="475.3" y2="103.8" stroke="#1E8C1E" stroke-width="0.8" stroke-opacity="0.89"/>
<line x1="476.19" y1="101.3" x2="476.19" y2="103.8" stroke="#1E8C1E" stroke-width="0.8" stroke-opacity="0.90"/>
<line x1="477.03" y1="101.3" x2="477.03" y2="103.8" stroke="#1E8C1E" stroke-width="0.8" stroke-opacity="0.90"/>
<line x1="477.44" y1="101.3" x2="477.44" y2="103.8" stroke="#1E8C1E" stroke-width="0.8" stroke-opacity="0.90"/>
<line x1="477.92" y1="101.3" x2="477.92" y2="103.8" stroke="#1E8C1E" stroke-width="0.8" stroke-opacity="0.91"/>
<line x1="478.71" y1="101.3" x2="478.71" y2="103.8" stroke="#1E8C1E" stroke-width="0.8" stroke-opacity="0.91"/>
<line x1="479.02" y1="101.3" x2="479.02" y2="103.8" stroke="#1E8C1E" stroke-width="0.8" stroke-opacity="0.91"/>
<line x1="479.33" y1="101.3" x2="479.33" y2="103.8" stroke="#1E8C1E" stroke-width="0.8" stroke-opacity="0.91"/>
<line x1="479.62" y1="101.3" x2="479.62" y2="103.8" stroke="#1E8C1E" stroke-width="0.8" stroke-opacity="0.92"/>
<line x1="480.37" y1="101.3" x2="480.37" y2="103.8" stroke="#1E8C1E" stroke-width="0.8" stroke-opacity="0.92"/>
<line x1="480.87" y1="101.3" x2="480.87" y2="103.8" stroke="#1E8C1E" stroke-width="0.8" stroke-opacity="0.92"/>
<line x1="481.33" y1="101.3" x2="481.33" y2="103.8" stroke="#1E8C1E" stroke-width="0.8" stroke-opacity="0.93"/>
<line x1="481.62" y1="101.3" x2="481.62" y2="103.8" stroke="#1E8C1E" stroke-width="0.8" stroke-opacity="0.93"/>
<line x1="482.29" y1="101.3" x2="482.29" y2="103.8" stroke="#1E8C1E" stroke-width="0.8" stroke-opacity="0.93"/>
<line x1="482.99" y1="101.3" x2="482.99" y2="103.8" stroke="#1E8C1E" stroke-width="0.8" stroke-opacity="0.93"/>
<line x1="483.54" y1="101.3" x2="483.54" y2="103.8" stroke="#1E8C1E" stroke-width="0.8" stroke-opacity="0.94"/>
<line x1="484.17" y1="101.3" x2="484.17" y2="103.8" stroke="#1E8C1E" stroke-width="0.8" stroke-opacity="0.94"/>
<line x1="484.65" y1="101.3" x2="484.65" y2="103.8" stroke="#1E8C1E" stroke-width="0.8" stroke-opacity="0.94"/>
<line x1="485" y1="101.3" x2="485" y2="103.8" stroke="#1E8C1E" stroke-width="0.8" stroke-opacity="0.95"/>
<line x1="485.29" y1="101.3" x2="485.29" y2="103.8" stroke="#1E8C1E" stroke-width="0.8" stroke-opacity="0.95"/>
<line x1="485.63" y1="101.3" x2="485.63" y2="103.8" stroke="#1E8C1E" stroke-width="0.8" stroke-opacity="0.95"/>
<line x1="485.9" y1="101.3" x2="485.9" y2="103.8" stroke="#1E8C1E" stroke-width="0.8" stroke-opacity="0.95"/>
<line x1="486.27" y1="101.3" x2="486.27" y2="103.8" stroke="#1E8C1E" stroke-width="0.8" stroke-opacity="0.95"/>
<line x1="486.49" y1="101.3" x2="486.49" y2="103.8" stroke="#1E8C1E" stroke-width="0.8" stroke-opacity="0.95"/>
<line x1="486.71" y1="101.3" x2="486.71" y2="103.8" stroke="#1E8C1E" stroke-width="0.8" stroke-opacity="0.96"/>
<line x1="487.28" y1="101.3" x2="487.28" y2="103.8" stroke="#1E8C1E" stroke-width="0.8" stroke-opacity="0.96"/>
<line x1="487.82" y1="101.3" x2="487.82" y2="103.8" stroke="#1E8C1E" stroke-width="0.8" stroke-opacity="0.96"/>
<line x1="488.33" y1="101.3" x2="488.33" y2="103.8" stroke="#1E8C1E" stroke-width="0.8" stroke-opacity="0.96"/>
<line x1="488.66" y1="101.3" x2="488.66" y2="103.8" stroke="#1E8C1E" stroke-width="0.8" stroke-opacity="0.97"/>
<line x1="489.02" y1="101.3" x2="489.02" y2="103.8" stroke="#1E8C1E" stroke-width="0.8" stroke-opacity="0.97"/>
<line x1="489.41" y1="101.3" x2="489.41" y2="103.8" stroke="#1E8C1E" stroke-width="0.8" stroke-opacity="0.97"/>
<line x1="489.89" y1="101.3" x2="489.89" y2="103.8" stroke="#1E8C1E" stroke-width="0.8" stroke-opacity="0.97"/>
<line x1="490.18" y1="101.3" x2="490.18" y2="103.8" stroke="#1E8C1E" stroke-width="0.8" stroke-opacity="0.98"/>
<line x1="490.54" y1="101.3" x2="490.54" y2="103.8" stroke="#1E8C1E" stroke-width="0.8" stroke-opacity="0.98"/>
<line x1="490.92" y1="101.3" x2="490.92" y2="103.8" stroke="#1E8C1E" stroke-width="0.8" stroke-opacity="0.98"/>
<line x1="491.39" y1="101.3" x2="491.39" y2="103.8" stroke="#1E8C1E" stroke-width="0.8" stroke-opacity="0.98"/>
<line x1="491.68" y1="101.3" x2="491.68" y2="103.8" stroke="#1E8C1E" stroke-width="0.8" stroke-opacity="0.98"/>
<line x1="491.86" y1="101.3" x2="491.86" y2="103.8" stroke="#1E8C1E" stroke-width="0.8" stroke-opacity="0.98"/>
<line x1="492.17" y1="101.3" x2="492.17" y2="103.8" stroke="#1E8C1E" stroke-width="0.8" stroke-opacity="0.99"/>
<line x1="492.63" y1="101.3" x2="492.63" y2="103.8" stroke="#1E8C1E" stroke-width="0.8" stroke-opacity="0.99"/>
<line x1="492.86" y1="101.3" x2="492.86" y2="103.8" stroke="#1E8C1E" stroke-width="0.8" stroke-opacity="0.99"/>
<line x1="493.23" y1="101.3" x2="493.23" y2="103.8" stroke="#1E8C1E" stroke-width="0.8" stroke-opacity="0.99"/>
<line x1="493.44" y1="101.3" x2="493.44" y2="103.8" stroke="#1E8C1E" stroke-width="0.8" stroke-opacity="0.99"/>
<line x1="493.69" y1="101.3" x2="493.69" y2="103.8" stroke="#1E8C1E" stroke-width="0.8" stroke-opacity="0.99"/>
<line x1="494.05" y1="101.3" x2="494.05" y2="103.8" stroke="#1E8C1E" stroke-width="0.8" stroke-opacity="1.00"/>
<line x1="494.24" y1="101.3" x2="494.24" y2="103.8" stroke="#1E8C1E" stroke-width="0.8" stroke-opacity="1.00"/>
<line x1="494.54" y1="101.3" x2="494.54" y2="103.8" stroke="#1E8C1E" stroke-width="0.8" stroke-opacity="1.00"/>
<line x1="494.88" y1="101.3" x2="494.88" y2="103.8" stroke="#1E8C1E" stroke-width="0.8" stroke-opacity="1.00"/>
<line x1="495.15" y1="101.3" x2="495.15" y2="103.8" stroke="#1E8C1E" stroke-width="0.8" stroke-opacity="1.00"/>
<line x1="495.54" y1="101.3" x2="495.54" y2="103.8" stroke="#1E8C1E" stroke-width="0.8" stroke-opacity="1.00"/>
<line x1="495.94" y1="101.3" x2="495.94" y2="103.8" stroke="#1E8C1E" stroke-width="0.8" stroke-opacity="1.00"/>
<line x1="496.17" y1="101.3" x2="496.17" y2="103.8" stroke="#1E8C1E" stroke-width="0.8" stroke-opacity="1.00"/>
<line x1="496.55" y1="101.3" x2="496.55" y2="103.8" stroke="#1E8C1E" stroke-width="0.8" stroke-opacity="1.00"/>
<line x1="496.93" y1="101.3" x2="496.93" y2="103.8" stroke="#1E8C1E" stroke-width="0.8" stroke-opacity="1.00"/>
<line x1="497.25" y1="101.3" x2="497.25" y2="103.8" stroke="#1E8C1E" stroke-width="0.8" stroke-opacity="1.00"/>
<line x1="497.58" y1="101.3" x2="497.58" y2="103.8" stroke="#1E8C1E" stroke-width="0.8" stroke-opacity="1.00"/>
<line x1="497.9" y1="101.3" x2="497.9" y2="103.8" stroke="#1E8C1E" stroke-width="0.8" stroke-opacity="1.00"/>
<line x1="498.27" y1="101.3" x2="498.27" y2="103.8" stroke="#1E8C1E" stroke-width="0.8" stroke-opacity="1.00"/>
<line x1="498.62" y1="101.3" x2="498.62" y2="103.8" stroke="#1E8C1E" stroke-width="0.8" stroke-opacity="1.00"/>
<line x1="498.86" y1="101.3" x2="498.86" y2="103.8" stroke="#1E8C1E" stroke-width="0.8" stroke-opacity="1.00"/>
<line x1="499.2" y1="101.3" x2="499.2" y2="103.8" stroke="#1E8C1E" stroke-width="0.8" stroke-opacity="1.00"/>
<line x1="499.56" y1="101.3" x2="499.56" y2="103.8" stroke="#1E8C1E" stroke-width="0.8" stroke-opacity="1.00"/>
<line x1="499.85" y1="101.3" x2="499.85" y2="103.8" stroke="#1E8C1E" stroke-width="0.8" stroke-opacity="1.00"/>
<line x1="500.27" y1="101.3" x2="500.27" y2="103.8" stroke="#1E8C1E" stroke-width="0.8" stroke-opacity="1.00"/>
<line x1="500.51" y1="101.3" x2="500.51" y2="103.8" stroke="#1E8C1E" stroke-width="0.8" stroke-opacity="1.00"/>
<line x1="500.82" y1="101.3" x2="500.82" y2="103.8" stroke="#1E8C1E" stroke-width="0.8" stroke-opacity="1.00"/>
<line x1="501.14" y1="101.3" x2="501.14" y2="103.8" stroke="#1E8C1E" stroke-width="0.8" stroke-opacity="1.00"/>
<line x1="501.47" y1="101.3" x2="501.47" y2="103.8" stroke="#1E8C1E" stroke-width="0.8" stroke-opacity="1.00"/>
<line x1="501.68" y1="101.3" x2="501.68" y2="103.8" stroke="#1E8C1E" stroke-width="0.8" stroke-opacity="1.00"/>
<line x1="502.02" y1="101.3" x2="502.02" y2="103.8" stroke="#1E8C1E" stroke-width="0.8" stroke-opacity="1.00"/>
<line x1="502.21" y1="101.3" x2="502.21" y2="103.8" stroke="#1E8C1E" stroke-width="0.8" stroke-opacity="1.00"/>
<line x1="502.52" y1="101.3" x2="502.52" y2="103.8" stroke="#1E8C1E" stroke-width="0.8" stroke-opacity="1.00"/>
<line x1="502.8" y1="101.3" x2="502.8" y2="103.8" stroke="#1E8C1E" stroke-width="0.8" stroke-opacity="1.00"/>
<line x1="503.16" y1="101.3" x2="503.16" y2="103.8" stroke="#1E8C1E" stroke-width="0.8" stroke-opacity="1.00"/>
<line x1="503.56" y1="101.3" x2="503.56" y2="103.8" stroke="#1E8C1E" stroke-width="0.8" stroke-opacity="1.00"/>
<line x1="504.01" y1="101.3" x2="504.01" y2="103.8" stroke="#1E8C1E" stroke-width="0.8" stroke-opacity="1.00"/>
<line x1="504.23" y1="101.3" x2="504.23" y2="103.8" stroke="#1E8C1E" stroke-width="0.8" stroke-opacity="1.00"/>
<line x1="504.65" y1="101.3" x2="504.65" y2="103.8" stroke="#1E8C1E" stroke-width="0.8" stroke-opacity="1.00"/>
<line x1="504.94" y1="101.3" x2="504.94" y2="103.8" stroke="#1E8C1E" stroke-width="0.8" stroke-opacity="1.00"/>
<line x1="505.24" y1="101.3" x2="505.24" y2="103.8" stroke="#1E8C1E" stroke-width="0.8" stroke-opacity="1.00"/>
<line x1="505.4" y1="101.3" x2="505.4" y2="103.8" stroke="#1E8C1E" stroke-width="0.8" stroke-opacity="1.00"/>
<line x1="505.81" y1="101.3" x2="505.81" y2="103.8" stroke="#1E8C1E" stroke-width="0.8" stroke-opacity="1.00"/>
<line x1="506.02" y1="101.3" x2="506.02" y2="103.8" stroke="#1E8C1E" stroke-width="0.8" stroke-opacity="1.00"/>
<line x1="506.25" y1="101.3" x2="506.25" y2="103.8" stroke="#1E8C1E" stroke-width="0.8" stroke-opacity="1.00"/>
<line x1="506.5" y1="101.3" x2="506.5" y2="103.8" stroke="#1E8C1E" stroke-width="0.8" stroke-opacity="1.00"/>
<line x1="506.71" y1="101.3" x2="506.71" y2="103.8" stroke="#1E8C1E" stroke-width="0.8" stroke-opacity="1.00"/>
<line x1="506.95" y1="101.3" x2="506.95" y2="103.8" stroke="#1E8C1E" stroke-width="0.8" stroke-opacity="1.00"/>
<line x1="507.19" y1="101.3" x2="507.19" y2="103.8" stroke="#1E8C1E" stroke-width="0.8" stroke-opacity="1.00"/>
<line x1="507.49" y1="101.3" x2="507.49" y2="103.8" stroke="#1E8C1E" stroke-width="0.8" stroke-opacity="1.00"/>
<line x1="507.75" y1="101.3" x2="507.75" y2="103.8" stroke="#1E8C1E" stroke-width="0.8" stroke-opacity="1.00"/>
<line x1="508.13" y1="101.3" x2="508.13" y2="103.8" stroke="#1E8C1E" stroke-width="0.8" stroke-opacity="1.00"/>
<line x1="508.55" y1="101.3" x2="508.55" y2="103.8" stroke="#1E8C1E" stroke-width="0.8" stroke-opacity="1.00"/>
<line x1="508.98" y1="101.3" x2="508.98" y2="103.8" stroke="#1E8C1E" stroke-width="0.8" stroke-opacity="1.00"/>
<line x1="509.24" y1="101.3" x2="509.24" y2="103.8" stroke="#1E8C1E" stroke-width="0.8" stroke-opacity="1.00"/>
<line x1="509.6" y1="101.3" x2="509.6" y2="103.8" stroke="#1E8C1E" stroke-width="0.8" stroke-opacity="1.00"/>
<line x1="509.97" y1="101.3" x2="509.97" y2="103.8" stroke="#1E8C1E" stroke-width="0.8" stroke-opacity="1.00"/>
<line x1="510.33" y1="101.3" x2="510.33" y2="103.8" stroke="#1E8C1E" stroke-width="0.8" stroke-opacity="1.00"/>
<line x1="510.6" y1="101.3" x2="510.6" y2="103.8" stroke="#1E8C1E" stroke-width="0.8" stroke-opacity="1.00"/>
<line x1="510.81" y1="101.3" x2="510.81" y2="103.8" stroke="#1E8C1E" stroke-width="0.8" stroke-opacity="1.00"/>
<line x1="511.18" y1="101.3" x2="511.18" y2="103.8" stroke="#1E8C1E" stroke-width="0.8" stroke-opacity="1.00"/>
<line x1="511.53" y1="101.3" x2="511.53" y2="103.8" stroke="#1E8C1E" stroke-width="0.8" stroke-opacity="1.00"/>
<line x1="511.78" y1="101.3" x2="511.78" y2="103.8" stroke="#1E8C1E" stroke-width="0.8" stroke-opacity="1.00"/>
<line x1="512.13" y1="101.3" x2="512.13" y2="103.8" stroke="#1E8C1E" stroke-width="0.8" stroke-opacity="1.00"/>
<line x1="512.3" y1="101.3" x2="512.3" y2="103.8" stroke="#1E8C1E" stroke-width="0.8" stroke-opacity="1.00"/>
<line x1="512.68" y1="101.3" x2="512.68" y2="103.8" stroke="#1E8C1E" stroke-width="0.8" stroke-opacity="1.00"/>
<line x1="513.1" y1="101.3" x2="513.1" y2="103.8" stroke="#1E8C1E" stroke-width="0.8" stroke-opacity="1.00"/>
<line x1="513.54" y1="101.3" x2="513.54" y2="103.8" stroke="#1E8C1E" stroke-width="0.8" stroke-opacity="1.00"/>
<line x1="513.72" y1="101.3" x2="513.72" y2="103.8" stroke="#1E8C1E" stroke-width="0.8" stroke-opacity="1.00"/>
<line x1="514.08" y1="101.3" x2="514.08" y2="103.8" stroke="#1E8C1E" stroke-width="0.8" stroke-opacity="1.00"/>
<line x1="514.46" y1="101.3" x2="514.46" y2="103.8" stroke="#1E8C1E" stroke-width="0.8" stroke-opacity="1.00"/>
<line x1="514.65" y1="101.3" x2="514.65" y2="103.8" stroke="#1E8C1E" stroke-width="0.8" stroke-opacity="1.00"/>
<line x1="514.99" y1="101.3" x2="514.99" y2="103.8" stroke="#1E8C1E" stroke-width="0.8" stroke-opacity="1.00"/>
<line x1="515.19" y1="101.3" x2="515.19" y2="103.8" stroke="#1E8C1E" stroke-width="0.8" stroke-opacity="1.00"/>
<line x1="515.41" y1="101.3" x2="515.41" y2="103.8" stroke="#1E8C1E" stroke-width="0.8" stroke-opacity="1.00"/>
<line x1="515.56" y1="101.3" x2="515.56" y2="103.8" stroke="#1E8C1E" stroke-width="0.8" stroke-opacity="1.00"/>
<line x1="515.8" y1="101.3" x2="515.8" y2="103.8" stroke="#1E8C1E" stroke-width="0.8" stroke-opacity="1.00"/>
<line x1="516.2" y1="101.3" x2="516.2" y2="103.8" stroke="#1E8C1E" stroke-width="0.8" stroke-opacity="1.00"/>
<line x1="516.53" y1="101.3" x2="516.53" y2="103.8" stroke="#1E8C1E" stroke-width="0.8" stroke-opacity="1.00"/>
<line x1="516.91" y1="101.3" x2="516.91" y2="103.8" stroke="#1E8C1E" stroke-width="0.8" stroke-opacity="1.00"/>
<line x1="517.35" y1="101.3" x2="517.35" y2="103.8" stroke="#1E8C1E" stroke-width="0.8" stroke-opacity="1.00"/>
<line x1="517.55" y1="101.3" x2="517.55" y2="103.8" stroke="#1E8C1E" stroke-width="0.8" stroke-opacity="1.00"/>
<line x1="517.95" y1="101.3" x2="517.95" y2="103.8" stroke="#1E8C1E" stroke-width="0.8" stroke-opacity="1.00"/>
<line x1="518.37" y1="101.3" x2="518.37" y2="103.8" stroke="#1E8C1E" stroke-width="0.8" stroke-opacity="1.00"/>
<line x1="518.71" y1="101.3" x2="518.71" y2="103.8" stroke="#1E8C1E" stroke-width="0.8" stroke-opacity="1.00"/>
<line x1="518.96" y1="101.3" x2="518.96" y2="103.8" stroke="#1E8C1E" stroke-width="0.8" stroke-opacity="1.00"/>
<line x1="519.16" y1="101.3" x2="519.16" y2="103.8" stroke="#1E8C1E" stroke-width="0.8" stroke-opacity="1.00"/>
<line x1="519.44" y1="101.3" x2="519.44" y2="103.8" stroke="#1E8C1E" stroke-width="0.8" stroke-opacity="1.00"/>
<line x1="519.7" y1="101.3" x2="519.7" y2="103.8" stroke="#1E8C1E" stroke-width="0.8" stroke-opacity="1.00"/>
<line x1="519.93" y1="101.3" x2="519.93" y2="103.8" stroke="#1E8C1E" stroke-width="0.8" stroke-opacity="1.00"/>
<line x1="520.28" y1="101.3" x2="520.28" y2="103.8" stroke="#1E8C1E" stroke-width="0.8" stroke-opacity="1.00"/>
<line x1="520.62" y1="101.3" x2="520.62" y2="103.8" stroke="#1E8C1E" stroke-width="0.8" stroke-opacity="1.00"/>
<line x1="520.85" y1="101.3" x2="520.85" y2="103.8" stroke="#1E8C1E" stroke-width="0.8" stroke-opacity="1.00"/>
<line x1="521.05" y1="101.3" x2="521.05" y2="103.8" stroke="#1E8C1E" stroke-width="0.8" stroke-opacity="1.00"/>
<line x1="521.35" y1="101.3" x2="521.35" y2="103.8" stroke="#1E8C1E" stroke-width="0.8" stroke-opacity="1.00"/>
<line x1="521.71" y1="101.3" x2="521.71" y2="103.8" stroke="#1E8C1E" stroke-width="0.8" stroke-opacity="1.00"/>
<line x1="522.05" y1="101.3" x2="522.05" y2="103.8" stroke="#1E8C1E" stroke-width="0.8" stroke-opacity="1.00"/>
<line x1="522.4" y1="101.3" x2="522.4" y2="103.8" stroke="#1E8C1E" stroke-width="0.8" stroke-opacity="1.00"/>
<line x1="522.81" y1="101.3" x2="522.81" y2="103.8" stroke="#1E8C1E" stroke-width="0.8" stroke-opacity="1.00"/>
<line x1="523.19" y1="101.3" x2="523.19" y2="103.8" stroke="#1E8C1E" stroke-width="0.8" stroke-opacity="1.00"/>
<line x1="523.47" y1="101.3" x2="523.47" y2="103.8" stroke="#1E8C1E" stroke-width="0.8" stroke-opacity="1.00"/>
<line x1="523.84" y1="101.3" x2="523.84" y2="103.8" stroke="#1E8C1E" stroke-width="0.8" stroke-opacity="1.00"/>
<line x1="524.19" y1="101.3" x2="524.19" y2="103.8" stroke="#1E8C1E" stroke-width="0.8" stroke-opacity="1.00"/>
<line x1="524.44" y1="101.3" x2="524.44" y2="103.8" stroke="#1E8C1E" stroke-width="0.8" stroke-opacity="1.00"/>
<line x1="524.64" y1="101.3" x2="524.64" y2="103.8" stroke="#1E8C1E" stroke-width="0.8" stroke-opacity="1.00"/>
<line x1="524.9" y1="101.3" x2="524.9" y2="103.8" stroke="#1E8C1E" stroke-width="0.8" stroke-opacity="1.00"/>
<line x1="525.27" y1="101.3" x2="525.27" y2="103.8" stroke="#1E8C1E" stroke-width="0.8" stroke-opacity="1.00"/>
<line x1="525.64" y1="101.3" x2="525.64" y2="103.8" stroke="#1E8C1E" stroke-width="0.8" stroke-opacity="1.00"/>
<line x1="525.88" y1="101.3" x2="525.88" y2="103.8" stroke="#1E8C1E" stroke-width="0.8" stroke-opacity="1.00"/>
<line x1="526.19" y1="101.3" x2="526.19" y2="103.8" stroke="#1E8C1E" stroke-width="0.8" stroke-opacity="1.00"/>
<line x1="526.36" y1="101.3" x2="526.36" y2="103.8" stroke="#1E8C1E" stroke-width="0.8" stroke-opacity="1.00"/>
<line x1="526.69" y1="101.3" x2="526.69" y2="103.8" stroke="#1E8C1E" stroke-width="0.8" stroke-opacity="1.00"/>
<line x1="526.98" y1="101.3" x2="526.98" y2="103.8" stroke="#1E8C1E" stroke-width="0.8" stroke-opacity="1.00"/>
<line x1="527.35" y1="101.3" x2="527.35" y2="103.8" stroke="#1E8C1E" stroke-width="0.8" stroke-opacity="1.00"/>
<line x1="527.76" y1="101.3" x2="527.76" y2="103.8" stroke="#1E8C1E" stroke-width="0.8" stroke-opacity="1.00"/>
<line x1="527.93" y1="101.3" x2="527.93" y2="103.8" stroke="#1E8C1E" stroke-width="0.8" stroke-opacity="1.00"/>
<line x1="528.36" y1="101.3" x2="528.36" y2="103.8" stroke="#1E8C1E" stroke-width="0.8" stroke-opacity="1.00"/>
<line x1="528.56" y1="101.3" x2="528.56" y2="103.8" stroke="#1E8C1E" stroke-width="0.8" stroke-opacity="1.00"/>
<line x1="529" y1="101.3" x2="529" y2="103.8" stroke="#1E8C1E" stroke-width="0.8" stroke-opacity="1.00"/>
<line x1="529.45" y1="101.3" x2="529.45" y2="103.8" stroke="#1E8C1E" stroke-width="0.8" stroke-opacity="1.00"/>
<line x1="529.66" y1="101.3" x2="529.66" y2="103.8" stroke="#1E8C1E" stroke-width="0.8" stroke-opacity="1.00"/>
<line x1="529.9" y1="101.3" x2="529.9" y2="103.8" stroke="#1E8C1E" stroke-width="0.8" stroke-opacity="1.00"/>
<line x1="530.09" y1="101.3" x2="530.09" y2="103.8" stroke="#1E8C1E" stroke-width="0.8" stroke-opacity="1.00"/>
<line x1="530.51" y1="101.3" x2="530.51" y2="103.8" stroke="#1E8C1E" stroke-width="0.8" stroke-opacity="1.00"/>
<line x1="530.89" y1="101.3" x2="530.89" y2="103.8" stroke="#1E8C1E" stroke-width="0.8" stroke-opacity="1.00"/>
<line x1="531.32" y1="101.3" x2="531.32" y2="103.8" stroke="#1E8C1E" stroke-width="0.8" stroke-opacity="1.00"/>
<line x1="531.72" y1="101.3" x2="531.72" y2="103.8" stroke="#1E8C1E" stroke-width="0.8" stroke-opacity="1.00"/>
<line x1="531.97" y1="101.3" x2="531.97" y2="103.8" stroke="#1E8C1E" stroke-width="0.8" stroke-opacity="1.00"/>
<line x1="532.35" y1="101.3" x2="532.35" y2="103.8" stroke="#1E8C1E" stroke-width="0.8" stroke-opacity="1.00"/>
<line x1="532.61" y1="101.3" x2="532.61" y2="103.8" stroke="#1E8C1E" stroke-width="0.8" stroke-opacity="1.00"/>
<line x1="532.86" y1="101.3" x2="532.86" y2="103.8" stroke="#1E8C1E" stroke-width="0.8" stroke-opacity="1.00"/>
<line x1="533.13" y1="101.3" x2="533.13" y2="103.8" stroke="#1E8C1E" stroke-width="0.8" stroke-opacity="1.00"/>
<line x1="533.49" y1="101.3" x2="533.49" y2="103.8" stroke="#1E8C1E" stroke-width="0.8" stroke-opacity="1.00"/>
<line x1="533.74" y1="101.3" x2="533.74" y2="103.8" stroke="#1E8C1E" stroke-width="0.8" stroke-opacity="1.00"/>
<line x1="534.05" y1="101.3" x2="534.05" y2="103.8" stroke="#1E8C1E" stroke-width="0.8" stroke-opacity="1.00"/>
<line x1="534.37" y1="101.3" x2="534.37" y2="103.8" stroke="#1E8C1E" stroke-width="0.8" stroke-opacity="1.00"/>
<line x1="534.76" y1="101.3" x2="534.76" y2="103.8" stroke="#1E8C1E" stroke-width="0.8" stroke-opacity="1.00"/>
<line x1="535.05" y1="101.3" x2="535.05" y2="103.8" stroke="#1E8C1E" stroke-width="0.8" stroke-opacity="1.00"/>
<line x1="535.32" y1="101.3" x2="535.32" y2="103.8" stroke="#1E8C1E" stroke-width="0.8" stroke-opacity="1.00"/>
<line x1="535.64" y1="101.3" x2="535.64" y2="103.8" stroke="#1E8C1E" stroke-width="0.8" stroke-opacity="1.00"/>
<line x1="535.92" y1="101.3" x2="535.92" y2="103.8" stroke="#1E8C1E" stroke-width="0.8" stroke-opacity="1.00"/>
<line x1="536.29" y1="101.3" x2="536.29" y2="103.8" stroke="#1E8C1E" stroke-width="0.8" stroke-opacity="1.00"/>
<line x1="536.47" y1="101.3" x2="536.47" y2="103.8" stroke="#1E8C1E" stroke-width="0.8" stroke-opacity="1.00"/>
<line x1="536.68" y1="101.3" x2="536.68" y2="103.8" stroke="#1E8C1E" stroke-width="0.8" stroke-opacity="1.00"/>
<line x1="536.84" y1="101.3" x2="536.84" y2="103.8" stroke="#1E8C1E" stroke-width="0.8" stroke-opacity="1.00"/>
<line x1="537.11" y1="101.3" x2="537.11" y2="103.8" stroke="#1E8C1E" stroke-width="0.8" stroke-opacity="1.00"/>
<line x1="537.51" y1="101.3" x2="537.51" y2="103.8" stroke="#1E8C1E" stroke-width="0.8" stroke-opacity="1.00"/>
<line x1="537.84" y1="101.3" x2="537.84" y2="103.8" stroke="#1E8C1E" stroke-width="0.8" stroke-opacity="1.00"/>
<line x1="538.18" y1="101.3" x2="538.18" y2="103.8" stroke="#1E8C1E" stroke-width="0.8" stroke-opacity="1.00"/>
<line x1="538.61" y1="101.3" x2="538.61" y2="103.8" stroke="#1E8C1E" stroke-width="0.8" stroke-opacity="1.00"/>
<line x1="539" y1="101.3" x2="539" y2="103.8" stroke="#1E8C1E" stroke-width="0.8" stroke-opacity="1.00"/>
<line x1="539.24" y1="101.3" x2="539.24" y2="103.8" stroke="#1E8C1E" stroke-width="0.8" stroke-opacity="1.00"/>
<line x1="539.46" y1="101.3" x2="539.46" y2="103.8" stroke="#1E8C1E" stroke-width="0.8" stroke-opacity="1.00"/>
<line x1="539.77" y1="101.3" x2="539.77" y2="103.8" stroke="#1E8C1E" stroke-width="0.8" stroke-opacity="1.00"/>
<line x1="539.99" y1="101.3" x2="539.99" y2="103.8" stroke="#1E8C1E" stroke-width="0.8" stroke-opacity="1.00"/>
<line x1="540.31" y1="101.3" x2="540.31" y2="103.8" stroke="#1E8C1E" stroke-width="0.8" stroke-opacity="1.00"/>
<line x1="540.49" y1="101.3" x2="540.49" y2="103.8" stroke="#1E8C1E" stroke-width="0.8" stroke-opacity="1.00"/>
<line x1="540.75" y1="101.3" x2="540.75" y2="103.8" stroke="#1E8C1E" stroke-width="0.8" stroke-opacity="1.00"/>
<line x1="541.12" y1="101.3" x2="541.12" y2="103.8" stroke="#1E8C1E" stroke-width="0.8" stroke-opacity="1.00"/>
<line x1="541.34" y1="101.3" x2="541.34" y2="103.8" stroke="#1E8C1E" stroke-width="0.8" stroke-opacity="1.00"/>
<line x1="541.54" y1="101.3" x2="541.54" y2="103.8" stroke="#1E8C1E" stroke-width="0.8" stroke-opacity="1.00"/>
<line x1="541.91" y1="101.3" x2="541.91" y2="103.8" stroke="#1E8C1E" stroke-width="0.8" stroke-opacity="1.00"/>
<line x1="542.12" y1="101.3" x2="542.12" y2="103.8" stroke="#1E8C1E" stroke-width="0.8" stroke-opacity="1.00"/>
<line x1="542.54" y1="101.3" x2="542.54" y2="103.8" stroke="#1E8C1E" stroke-width="0.8" stroke-opacity="1.00"/>
<line x1="542.87" y1="101.3" x2="542.87" y2="103.8" stroke="#1E8C1E" stroke-width="0.8" stroke-opacity="1.00"/>
<line x1="543.28" y1="101.3" x2="543.28" y2="103.8" stroke="#1E8C1E" stroke-width="0.8" stroke-opacity="1.00"/>
<line x1="543.59" y1="101.3" x2="543.59" y2="103.8" stroke="#1E8C1E" stroke-width="0.8" stroke-opacity="1.00"/>
<line x1="543.89" y1="101.3" x2="543.89" y2="103.8" stroke="#1E8C1E" stroke-width="0.8" stroke-opacity="1.00"/>
<line x1="544.11" y1="101.3" x2="544.11" y2="103.8" stroke="#1E8C1E" stroke-width="0.8" stroke-opacity="1.00"/>
<line x1="544.28" y1="101.3" x2="544.28" y2="103.8" stroke="#1E8C1E" stroke-width="0.8" stroke-opacity="1.00"/>
<line x1="544.71" y1="101.3" x2="544.71" y2="103.8" stroke="#1E8C1E" stroke-width="0.8" stroke-opacity="1.00"/>
<line x1="544.93" y1="101.3" x2="544.93" y2="103.8" stroke="#1E8C1E" stroke-width="0.8" stroke-opacity="1.00"/>
<line x1="545.1" y1="101.3" x2="545.1" y2="103.8" stroke="#1E8C1E" stroke-width="0.8" stroke-opacity="1.00"/>
<line x1="545.53" y1="101.3" x2="545.53" y2="103.8" stroke="#1E8C1E" stroke-width="0.8" stroke-opacity="1.00"/>
<line x1="545.84" y1="101.3" x2="545.84" y2="103.8" stroke="#1E8C1E" stroke-width="0.8" stroke-opacity="1.00"/>
<line x1="546.16" y1="101.3" x2="546.16" y2="103.8" stroke="#1E8C1E" stroke-width="0.8" stroke-opacity="1.00"/>
<line x1="546.59" y1="101.3" x2="546.59" y2="103.8" stroke="#1E8C1E" stroke-width="0.8" stroke-opacity="1.00"/>
<line x1="546.95" y1="101.3" x2="546.95" y2="103.8" stroke="#1E8C1E" stroke-width="0.8" stroke-opacity="1.00"/>
<line x1="547.18" y1="101.3" x2="547.18" y2="103.8" stroke="#1E8C1E" stroke-width="0.8" stroke-opacity="1.00"/>
<line x1="547.42" y1="101.3" x2="547.42" y2="103.8" stroke="#1E8C1E" stroke-width="0.8" stroke-opacity="1.00"/>
<line x1="547.76" y1="101.3" x2="547.76" y2="103.8" stroke="#1E8C1E" stroke-width="0.8" stroke-opacity="1.00"/>
<line x1="548.11" y1="101.3" x2="548.11" y2="103.8" stroke="#1E8C1E" stroke-width="0.8" stroke-opacity="1.00"/>
<line x1="548.33" y1="101.3" x2="548.33" y2="103.8" stroke="#1E8C1E" stroke-width="0.8" stroke-opacity="1.00"/>
<line x1="548.55" y1="101.3" x2="548.55" y2="103.8" stroke="#1E8C1E" stroke-width="0.8" stroke-opacity="1.00"/>
<line x1="548.86" y1="101.3" x2="548.86" y2="103.8" stroke="#1E8C1E" stroke-width="0.8" stroke-opacity="1.00"/>
<line x1="549.02" y1="101.3" x2="549.02" y2="103.8" stroke="#1E8C1E" stroke-width="0.8" stroke-opacity="1.00"/>
<line x1="549.41" y1="101.3" x2="549.41" y2="103.8" stroke="#1E8C1E" stroke-width="0.8" stroke-opacity="1.00"/>
<line x1="549.76" y1="101.3" x2="549.76" y2="103.8" stroke="#1E8C1E" stroke-width="0.8" stroke-opacity="1.00"/>
<line x1="549.95" y1="101.3" x2="549.95" y2="103.8" stroke="#1E8C1E" stroke-width="0.8" stroke-opacity="1.00"/>
<line x1="550.28" y1="101.3" x2="550.28" y2="103.8" stroke="#1E8C1E" stroke-width="0.8" stroke-opacity="1.00"/>
<line x1="550.6" y1="101.3" x2="550.6" y2="103.8" stroke="#1E8C1E" stroke-width="0.8" stroke-opacity="1.00"/>
<line x1="550.78" y1="101.3" x2="550.78" y2="103.8" stroke="#1E8C1E" stroke-width="0.8" stroke-opacity="1.00"/>
<line x1="551.06" y1="101.3" x2="551.06" y2="103.8" stroke="#1E8C1E" stroke-width="0.8" stroke-opacity="1.00"/>
<line x1="551.44" y1="101.3" x2="551.44" y2="103.8" stroke="#1E8C1E" stroke-width="0.8" stroke-opacity="1.00"/>
<line x1="551.73" y1="101.3" x2="551.73" y2="103.8" stroke="#1E8C1E" stroke-width="0.8" stroke-opacity="1.00"/>
<line x1="552.09" y1="101.3" x2="552.09" y2="103.8" stroke="#1E8C1E" stroke-width="0.8" stroke-opacity="1.00"/>
<line x1="552.31" y1="101.3" x2="552.31" y2="103.8" stroke="#1E8C1E" stroke-width="0.8" stroke-opacity="1.00"/>
<line x1="552.76" y1="101.3" x2="552.76" y2="103.8" stroke="#1E8C1E" stroke-width="0.8" stroke-opacity="1.00"/>
<line x1="553.11" y1="101.3" x2="553.11" y2="103.8" stroke="#1E8C1E" stroke-width="0.8" stroke-opacity="1.00"/>
<line x1="553.43" y1="101.3" x2="553.43" y2="103.8" stroke="#1E8C1E" stroke-width="0.8" stroke-opacity="1.00"/>
<line x1="553.58" y1="101.3" x2="553.58" y2="103.8" stroke="#1E8C1E" stroke-width="0.8" stroke-opacity="1.00"/>
<line x1="553.83" y1="101.3" x2="553.83" y2="103.8" stroke="#1E8C1E" stroke-width="0.8" stroke-opacity="1.00"/>
<line x1="553.98" y1="101.3" x2="553.98" y2="103.8" stroke="#1E8C1E" stroke-width="0.8" stroke-opacity="1.00"/>
<line x1="554.26" y1="101.3" x2="554.26" y2="103.8" stroke="#1E8C1E" stroke-width="0.8" stroke-opacity="1.00"/>
<line x1="554.47" y1="101.3" x2="554.47" y2="103.8" stroke="#1E8C1E" stroke-width="0.8" stroke-opacity="1.00"/>
<line x1="554.69" y1="101.3" x2="554.69" y2="103.8" stroke="#1E8C1E" stroke-width="0.8" stroke-opacity="1.00"/>
<line x1="554.93" y1="101.3" x2="554.93" y2="103.8" stroke="#1E8C1E" stroke-width="0.8" stroke-opacity="1.00"/>
<line x1="555.12" y1="101.3" x2="555.12" y2="103.8" stroke="#1E8C1E" stroke-width="0.8" stroke-opacity="1.00"/>
<line x1="555.36" y1="101.3" x2="555.36" y2="103.8" stroke="#1E8C1E" stroke-width="0.8" stroke-opacity="1.00"/>
<line x1="555.66" y1="101.3" x2="555.66" y2="103.8" stroke="#1E8C1E" stroke-width="0.8" stroke-opacity="1.00"/>
<line x1="555.85" y1="101.3" x2="555.85" y2="103.8" stroke="#1E8C1E" stroke-width="0.8" stroke-opacity="1.00"/>
<line x1="556.16" y1="101.3" x2="556.16" y2="103.8" stroke="#1E8C1E" stroke-width="0.8" stroke-opacity="1.00"/>
<line x1="556.6" y1="101.3" x2="556.6" y2="103.8" stroke="#1E8C1E" stroke-width="0.8" stroke-opacity="1.00"/>
<line x1="556.96" y1="101.3" x2="556.96" y2="103.8" stroke="#1E8C1E" stroke-width="0.8" stroke-opacity="1.00"/>
<line x1="557.39" y1="101.3" x2="557.39" y2="103.8" stroke="#1E8C1E" stroke-width="0.8" stroke-opacity="1.00"/>
<line x1="557.58" y1="101.3" x2="557.58" y2="103.8" stroke="#1E8C1E" stroke-width="0.8" stroke-opacity="1.00"/>
<line x1="557.92" y1="101.3" x2="557.92" y2="103.8" stroke="#1E8C1E" stroke-width="0.8" stroke-opacity="1.00"/>
<line x1="558.14" y1="101.3" x2="558.14" y2="103.8" stroke="#1E8C1E" stroke-width="0.8" stroke-opacity="1.00"/>
<line x1="558.57" y1="101.3" x2="558.57" y2="103.8" stroke="#1E8C1E" stroke-width="0.8" stroke-opacity="1.00"/>
<line x1="558.87" y1="101.3" x2="558.87" y2="103.8" stroke="#1E8C1E" stroke-width="0.8" stroke-opacity="1.00"/>
<line x1="559.24" y1="101.3" x2="559.24" y2="103.8" stroke="#1E8C1E" stroke-width="0.8" stroke-opacity="1.00"/>
<line x1="559.62" y1="101.3" x2="559.62" y2="103.8" stroke="#1E8C1E" stroke-width="0.8" stroke-opacity="1.00"/>
<line x1="559.81" y1="101.3" x2="559.81" y2="103.8" stroke="#1E8C1E" stroke-width="0.8" stroke-opacity="1.00"/>
<line x1="559.99" y1="101.3" x2="559.99" y2="103.8" stroke="#1E8C1E" stroke-width="0.8" stroke-opacity="1.00"/>
<line x1="560.38" y1="101.3" x2="560.38" y2="103.8" stroke="#1E8C1E" stroke-width="0.8" stroke-opacity="1.00"/>
<line x1="560.77" y1="101.3" x2="560.77" y2="103.8" stroke="#1E8C1E" stroke-width="0.8" stroke-opacity="1.00"/>
<line x1="561.05" y1="101.3" x2="561.05" y2="103.8" stroke="#1E8C1E" stroke-width="0.8" stroke-opacity="1.00"/>
<line x1="561.21" y1="101.3" x2="561.21" y2="103.8" stroke="#1E8C1E" stroke-width="0.8" stroke-opacity="1.00"/>
<line x1="561.36" y1="101.3" x2="561.36" y2="103.8" stroke="#1E8C1E" stroke-width="0.8" stroke-opacity="1.00"/>
<line x1="561.75" y1="101.3" x2="561.75" y2="103.8" stroke="#1E8C1E" stroke-width="0.8" stroke-opacity="1.00"/>
<line x1="562.11" y1="101.3" x2="562.11" y2="103.8" stroke="#1E8C1E" stroke-width="0.8" stroke-opacity="1.00"/>
<line x1="562.37" y1="101.3" x2="562.37" y2="103.8" stroke="#1E8C1E" stroke-width="0.8" stroke-opacity="1.00"/>
<line x1="562.72" y1="101.3" x2="562.72" y2="103.8" stroke="#1E8C1E" stroke-width="0.8" stroke-opacity="1.00"/>
<line x1="563.11" y1="101.3" x2="563.11" y2="103.8" stroke="#1E8C1E" stroke-width="0.8" stroke-opacity="1.00"/>
<line x1="563.26" y1="101.3" x2="563.26" y2="103.8" stroke="#1E8C1E" stroke-width="0.8" stroke-opacity="1.00"/>
<line x1="563.64" y1="101.3" x2="563.64" y2="103.8" stroke="#1E8C1E" stroke-width="0.8" stroke-opacity="1.00"/>
<line x1="564.08" y1="101.3" x2="564.08" y2="103.8" stroke="#1E8C1E" stroke-width="0.8" stroke-opacity="1.00"/>
<line x1="564.49" y1="101.3" x2="564.49" y2="103.8" stroke="#1E8C1E" stroke-width="0.8" stroke-opacity="1.00"/>
<line x1="564.9" y1="101.3" x2="564.9" y2="103.8" stroke="#1E8C1E" stroke-width="0.8" stroke-opacity="1.00"/>
<line x1="565.18" y1="101.3" x2="565.18" y2="103.8" stroke="#1E8C1E" stroke-width="0.8" stroke-opacity="1.00"/>
<line x1="565.51" y1="101.3" x2="565.51" y2="103.8" stroke="#1E8C1E" stroke-width="0.8" stroke-opacity="1.00"/>
<line x1="565.69" y1="101.3" x2="565.69" y2="103.8" stroke="#1E8C1E" stroke-width="0.8" stroke-opacity="1.00"/>
<line x1="566.08" y1="101.3" x2="566.08" y2="103.8" stroke="#1E8C1E" stroke-width="0.8" stroke-opacity="1.00"/>
<line x1="566.43" y1="101.3" x2="566.43" y2="103.8" stroke="#1E8C1E" stroke-width="0.8" stroke-opacity="1.00"/>
<line x1="566.7" y1="101.3" x2="566.7" y2="103.8" stroke="#1E8C1E" stroke-width="0.8" stroke-opacity="1.00"/>
<line x1="566.86" y1="101.3" x2="566.86" y2="103.8" stroke="#1E8C1E" stroke-width="0.8" stroke-opacity="1.00"/>
<line x1="567.06" y1="101.3" x2="567.06" y2="103.8" stroke="#1E8C1E" stroke-width="0.8" stroke-opacity="1.00"/>
<line x1="567.33" y1="101.3" x2="567.33" y2="103.8" stroke="#1E8C1E" stroke-width="0.8" stroke-opacity="1.00"/>
<line x1="567.76" y1="101.3" x2="567.76" y2="103.8" stroke="#1E8C1E" stroke-width="0.8" stroke-opacity="1.00"/>
<line x1="568.05" y1="101.3" x2="568.05" y2="103.8" stroke="#1E8C1E" stroke-width="0.8" stroke-opacity="1.00"/>
<line x1="568.46" y1="101.3" x2="568.46" y2="103.8" stroke="#1E8C1E" stroke-width="0.8" stroke-opacity="1.00"/>
<line x1="568.66" y1="101.3" x2="568.66" y2="103.8" stroke="#1E8C1E" stroke-width="0.8" stroke-opacity="1.00"/>
<line x1="568.89" y1="101.3" x2="568.89" y2="103.8" stroke="#1E8C1E" stroke-width="0.8" stroke-opacity="1.00"/>
<line x1="569.11" y1="101.3" x2="569.11" y2="103.8" stroke="#1E8C1E" stroke-width="0.8" stroke-opacity="1.00"/>
<line x1="569.34" y1="101.3" x2="569.34" y2="103.8" stroke="#1E8C1E" stroke-width="0.8" stroke-opacity="1.00"/>
<line x1="569.73" y1="101.3" x2="569.73" y2="103.8" stroke="#1E8C1E" stroke-width="0.8" stroke-opacity="1.00"/>
<line x1="569.99" y1="101.3" x2="569.99" y2="103.8" stroke="#1E8C1E" stroke-width="0.8" stroke-opacity="1.00"/>
<line x1="570.23" y1="101.3" x2="570.23" y2="103.8" stroke="#1E8C1E" stroke-width="0.8" stroke-opacity="1.00"/>
<line x1="570.59" y1="101.3" x2="570.59" y2="103.8" stroke="#1E8C1E" stroke-width="0.8" stroke-opacity="1.00"/>
<line x1="570.87" y1="101.3" x2="570.87" y2="103.8" stroke="#1E8C1E" stroke-width="0.8" stroke-opacity="1.00"/>
<line x1="571.28" y1="101.3" x2="571.28" y2="103.8" stroke="#1E8C1E" stroke-width="0.8" stroke-opacity="1.00"/>
<line x1="571.64" y1="101.3" x2="571.64" y2="103.8" stroke="#1E8C1E" stroke-width="0.8" stroke-opacity="1.00"/>
<line x1="572.04" y1="101.3" x2="572.04" y2="103.8" stroke="#1E8C1E" stroke-width="0.8" stroke-opacity="1.00"/>
<line x1="572.31" y1="101.3" x2="572.31" y2="103.8" stroke="#1E8C1E" stroke-width="0.8" stroke-opacity="1.00"/>
<line x1="572.58" y1="101.3" x2="572.58" y2="103.8" stroke="#1E8C1E" stroke-width="0.8" stroke-opacity="1.00"/>
<line x1="572.87" y1="101.3" x2="572.87" y2="103.8" stroke="#1E8C1E" stroke-width="0.8" stroke-opacity="1.00"/>
<line x1="573.31" y1="101.3" x2="573.31" y2="103.8" stroke="#1E8C1E" stroke-width="0.8" stroke-opacity="1.00"/>
<line x1="573.74" y1="101.3" x2="573.74" y2="103.8" stroke="#1E8C1E" stroke-width="0.8" stroke-opacity="1.00"/>
<line x1="574.06" y1="101.3" x2="574.06" y2="103.8" stroke="#1E8C1E" stroke-width="0.8" stroke-opacity="1.00"/>
<line x1="574.36" y1="101.3" x2="574.36" y2="103.8" stroke="#1E8C1E" stroke-width="0.8" stroke-opacity="1.00"/>
<line x1="574.53" y1="101.3" x2="574.53" y2="103.8" stroke="#1E8C1E" stroke-width="0.8" stroke-opacity="1.00"/>
<line x1="574.93" y1="101.3" x2="574.93" y2="103.8" stroke="#1E8C1E" stroke-width="0.8" stroke-opacity="1.00"/>
<line x1="575.27" y1="101.3" x2="575.27" y2="103.8" stroke="#1E8C1E" stroke-width="0.8" stroke-opacity="1.00"/>
<line x1="575.54" y1="101.3" x2="575.54" y2="103.8" stroke="#1E8C1E" stroke-width="0.8" stroke-opacity="1.00"/>
<line x1="575.74" y1="101.3" x2="575.74" y2="103.8" stroke="#1E8C1E" stroke-width="0.8" stroke-opacity="1.00"/>
<line x1="576.03" y1="101.3" x2="576.03" y2="103.8" stroke="#1E8C1E" stroke-width="0.8" stroke-opacity="1.00"/>
<line x1="576.39" y1="101.3" x2="576.39" y2="103.8" stroke="#1E8C1E" stroke-width="0.8" stroke-opacity="1.00"/>
<line x1="576.62" y1="101.3" x2="576.62" y2="103.8" stroke="#1E8C1E" stroke-width="0.8" stroke-opacity="1.00"/>
<line x1="576.85" y1="101.3" x2="576.85" y2="103.8" stroke="#1E8C1E" stroke-width="0.8" stroke-opacity="1.00"/>
<line x1="577.15" y1="101.3" x2="577.15" y2="103.8" stroke="#1E8C1E" stroke-width="0.8" stroke-opacity="1.00"/>
<line x1="577.45" y1="101.3" x2="577.45" y2="103.8" stroke="#1E8C1E" stroke-width="0.8" stroke-opacity="1.00"/>
<line x1="577.6" y1="101.3" x2="577.6" y2="103.8" stroke="#1E8C1E" stroke-width="0.8" stroke-opacity="1.00"/>
<line x1="577.77" y1="101.3" x2="577.77" y2="103.8" stroke="#1E8C1E" stroke-width="0.8" stroke-opacity="1.00"/>
<line x1="578.03" y1="101.3" x2="578.03" y2="103.8" stroke="#1E8C1E" stroke-width="0.8" stroke-opacity="1.00"/>
<line x1="578.39" y1="101.3" x2="578.39" y2="103.8" stroke="#1E8C1E" stroke-width="0.8" stroke-opacity="1.00"/>
<line x1="578.65" y1="101.3" x2="578.65" y2="103.8" stroke="#1E8C1E" stroke-width="0.8" stroke-opacity="1.00"/>
<line x1="578.81" y1="101.3" x2="578.81" y2="103.8" stroke="#1E8C1E" stroke-width="0.8" stroke-opacity="1.00"/>
<line x1="579.03" y1="101.3" x2="579.03" y2="103.8" stroke="#1E8C1E" stroke-width="0.8" stroke-opacity="1.00"/>
<line x1="579.24" y1="101.3" x2="579.24" y2="103.8" stroke="#1E8C1E" stroke-width="0.8" stroke-opacity="1.00"/>
<line x1="579.61" y1="101.3" x2="579.61" y2="103.8" stroke="#1E8C1E" stroke-width="0.8" stroke-opacity="1.00"/>
<polyline points="414.18,114.13 414.27,113.37 414.36,113.25 414.46,113.07 414.55,113.59 414.64,113.62 414.73,113.91 414.82,113.78 414.92,113.64 415.01,113.1 415.1,114.07 415.19,113.32 415.28,113.3 415.37,113.23 415.47,113.69 415.56,113.76 415.65,113.39 415.74,113.32 415.83,113.05 415.93,113.69 416.02,113.82 416.11,113.17 416.2,113.31 416.29,113.87 416.39,113.82 416.48,113.19 416.57,114.12 416.66,113.83 416.75,113.82 416.85,113.39 416.94,114.1 417.03,113.52 417.12,113.74 417.21,114.12 417.31,113.95 417.4,113.23 417.49,113.18 417.58,113.26 417.67,113.16 417.76,114.01 417.86,113.63 417.95,113.56 418.04,113.44 418.13,113.58 418.22,113.51 418.32,113.83 418.41,113.49 418.5,113.98 418.59,113.96 418.68,113.98 418.78,113.85 418.87,113.22 418.96,113.49 419.05,113.95 419.14,113.42 419.24,113.65 419.33,113.26 419.42,113.93 419.51,113.39 419.6,113.42 419.7,113.92 419.79,113.12 419.88,113.03 419.97,113.49 420.06,113.51 420.15,113.14 420.25,113.45 420.34,113.87 420.43,113.99 420.52,114.03 420.61,113.89 420.71,113.1 420.8,113.42 420.89,113.51 420.98,113.05 421.07,113.87 421.17,113.32 421.26,113.87 421.35,113.76 421.44,113.31 421.53,113.39 421.63,113.51 421.72,113.23 421.81,113.02 421.9,113.48 421.99,113.26 422.09,113.29 422.18,113.88 422.27,113.83 422.36,113.46 422.45,113.04 422.54,113.85 422.64,113.3 422.73,113.12 422.82,113.83 422.91,114 423,113.29 423.1,113.61 423.19,113.98 423.28,113.58 423.37,113.39 423.46,113.18 423.56,113.03 423.65,113.98 423.74,113.9 423.83,113.2 423.92,113.71 424.02,113.21 424.11,113.82 424.2,113.41 424.29,113.77 424.38,113.59 424.48,113.09 424.57,113.62 424.66,113.72 424.75,113.05 424.84,113.04 424.93,113.29 425.03,113.79 425.12,114.07 425.21,113.49 425.3,113.94 425.39,113.78 425.49,113.29 425.58,113.48 425.67,113.92 425.76,113.52 425.85,113.55 425.95,113.79 426.04,113.15 426.13,113.5 426.22,113.56 426.31,113.61 426.41,113.75 426.5,113.29 426.59,113.51 426.68,113.49 426.77,113.1 426.86,113.85 426.96,114.04 427.05,113.6 427.14,113.44 427.23,113.39 427.32,113.48 427.42,113.39 427.51,113.28 427.6,114.03 427.69,113.39 427.78,113.22 427.88,113.71 427.97,112.99 428.06,113.37 428.15,113.6 428.24,113.88 428.34,113.31 428.43,113.04 428.52,114.04 428.61,112.99 428.7,113.44 428.8,113.54 428.89,114.06 428.98,113.37 429.07,113.24 429.16,113.29 429.25,113.39 429.35,113.13 429.44,113.96 429.53,113.54 429.62,113.78 429.71,113.28 429.81,113.71 429.9,113.98 429.99,113.23 430.08,114.07 430.17,113.58 430.27,114.88 430.36,116.73 430.45,117.74 430.54,118.25 430.63,116.13 430.73,114.57 430.82,114.28 430.91,113.68 431,113.03 431.09,113.13 431.19,113.55 431.28,113.34 431.37,113.03 431.46,113.86 431.55,113.32 431.64,113.96 431.74,113.37 431.83,113.16 431.92,113.43 432.01,113.87 432.1,113.96 432.2,113.58 432.29,113.24 432.38,113.54 432.47,113.25 432.56,113.36 432.66,112.97 432.75,112.98 432.84,113.98 432.93,113.8 433.02,113.22 433.12,113.63 433.21,113 433.3,113.87 433.39,113.63 433.48,113.75 433.58,113.43 433.67,113.43 433.76,113.85 433.85,113.3 433.94,113.04 434.03,113.08 434.13,113.96 434.22,113.26 434.31,113.02 434.4,113.57 434.49,113.09 434.59,113.42 434.68,113.8 434.77,113.2 434.86,113.41 434.95,113.97 435.05,113.9 435.14,113.9 435.23,112.99 435.32,114.01 435.41,113.56 435.51,113.11 435.6,114.03 435.69,113.08 435.78,114.03 435.87,112.98 435.97,113.03 436.06,113.46 436.15,113.61 436.24,113.58 436.33,113.84 436.42,113.06 436.52,113.74 436.61,113.29 436.7,113.99 436.79,113.63 436.88,113.7 436.98,113.08 437.07,113.94 437.16,113.25 437.25,113.16 437.34,113.4 437.44,113.79 437.53,113.29 437.62,113.45 437.71,113.6 437.8,113.2 437.9,113.06 437.99,113.38 438.08,113.72 438.17,113.68 438.26,113.16 438.35,113.65 438.45,113.84 438.54,113.67 438.63,113.01 438.72,112.69 438.81,113.67 438.91,113.73 439,114.14 439.09,115.51 439.18,115.42 439.27,114.83 439.37,113.82 439.46,113.79 439.55,113.37 439.64,113.35 439.73,113.28 439.83,113.73 439.92,113.87 440.01,113.24 440.1,113 440.19,113.2 440.29,113.75 440.38,113.31 440.47,112.93 440.56,113.85 440.65,113.4 440.74,112.99 440.84,113.74 440.93,113.48 441.02,113.85 441.11,113.83 441.2,113.82 441.3,113.89 441.39,113.34 441.48,113.8 441.57,113.46 441.66,113.63 441.76,113.15 441.85,113.6 441.94,112.99 442.03,113.86 442.12,113.11 442.22,113.54 442.31,113.84 442.4,113.82 442.49,113.85 442.58,113.38 442.68,112.99 442.77,113.99 442.86,113.24 442.95,113.86 443.04,113.36 443.13,113.39 443.23,113.5 443.32,113.51 443.41,113.76 443.5,113.55 443.59,113.09 443.69,113.49 443.78,113.01 443.87,113.84 443.96,113.1 444.05,113.3 444.15,113.55 444.24,113.28 444.33,113.88 444.42,113.77 444.51,113.27 444.61,113.37 444.7,113.71 444.79,113.46 444.88,113.6 444.97,113.27 445.07,113.52 445.16,113.55 445.25,113.89 445.34,113.28 445.43,113.77 445.52,113.13 445.62,113.2 445.71,113.08 445.8,113.72 445.89,112.65 445.98,112.98 446.08,113.83 446.17,115.07 446.26,115.55 446.35,114.61 446.44,114.14 446.54,113.95 446.63,113.1 446.72,113.03 446.81,113.79 446.9,112.89 447,112.97 447.09,113.09 447.18,113.8 447.27,113.27 447.36,113.36 447.46,113.48 447.55,113.86 447.64,112.93 447.73,113.1 447.82,113.32 447.91,113.59 448.01,113.03 448.1,113.36 448.19,113.51 448.28,112.95 448.37,113.24 448.47,112.95 448.56,113.88 448.65,112.89 448.74,113.05 448.83,113.55 448.93,113.13 449.02,113.51 449.11,113.25 449.2,113.97 449.29,113.5 449.39,113.26 449.48,113.07 449.57,113.4 449.66,113.72 449.75,113.66 449.84,113.65 449.94,113.44 450.03,113.9 450.12,113.31 450.21,113.47 450.3,113.92 450.4,113.74 450.49,113.39 450.58,113.74 450.67,113.72 450.76,113.19 450.86,113.31 450.95,113.7 451.04,113.28 451.13,113.25 451.22,113.46 451.32,112.95 451.41,113.15 451.5,113.95 451.59,113.14 451.68,113.75 451.78,112.87 451.87,113.2 451.96,113.43 452.05,113.21 452.14,113.9 452.23,113.91 452.33,113.19 452.42,113.01 452.51,113.86 452.6,113.63 452.69,112.84 452.79,110.68 452.88,107.47 452.97,105.43 453.06,106.34 453.15,110.94 453.25,115.71 453.34,117.3 453.43,116.2 453.52,114.55 453.61,113.86 453.71,113.36 453.8,113.23 453.89,113.1 453.98,113.58 454.07,113.88 454.17,113.05 454.26,113.7 454.35,113.56 454.44,113.1 454.53,113 454.62,113.77 454.72,113.01 454.81,112.98 454.9,112.95 454.99,113.74 455.08,113.26 455.18,112.85 455.27,113.15 455.36,113.42 455.45,113.37 455.54,113.01 455.64,113.78 455.73,113.61 455.82,113.14 455.91,113.19 456,113.12 456.1,112.87 456.19,113.51 456.28,113.14 456.37,113.57 456.46,113.76 456.56,113.19 456.65,113.15 456.74,113.24 456.83,113.36 456.92,112.89 457.01,113.27 457.11,113.18 457.2,112.96 457.29,113.75 457.38,113.6 457.47,113.37 457.57,112.91 457.66,113.63 457.75,113.25 457.84,113.8 457.93,113.54 458.03,113.1 458.12,113.66 458.21,113.48 458.3,113.22 458.39,113.69 458.49,113.11 458.58,112.58 458.67,111.67 458.76,111.27 458.85,110.94 458.95,113.07 459.04,116.45 459.13,119.27 459.22,117.85 459.31,116.23 459.4,114.62 459.5,113.9 459.59,113.09 459.68,113.86 459.77,113.51 459.86,113.75 459.96,113.82 460.05,113.17 460.14,113.23 460.23,113.81 460.32,113.14 460.42,112.93 460.51,112.86 460.6,113.43 460.69,113.16 460.78,113.86 460.88,112.83 460.97,113.25 461.06,113.6 461.15,113.48 461.24,113.73 461.33,113.53 461.43,113.77 461.52,113.88 461.61,113.76 461.7,113.48 461.79,113.25 461.89,113.4 461.98,113.05 462.07,113.09 462.16,113.38 462.25,113.29 462.35,113.24 462.44,112.9 462.53,113.89 462.62,113.17 462.71,113.34 462.81,113.19 462.9,113.42 462.99,113.67 463.08,113.84 463.17,113.47 463.27,113.84 463.36,113.21 463.45,113.33 463.54,113.18 463.63,113.87 463.72,112.95 463.82,113.05 463.91,113.65 464,113.06 464.09,112.87 464.18,113.18 464.28,113.18 464.37,112.8 464.46,111.86 464.55,111.39 464.64,111.6 464.74,112.69 464.83,114.28 464.92,114.34 465.01,113.9 465.1,114.19 465.2,113.87 465.29,113.23 465.38,113.38 465.47,112.9 465.56,112.82 465.66,113.36 465.75,113.83 465.84,112.88 465.93,113.29 466.02,113.66 466.11,112.8 466.21,113.44 466.3,113.08 466.39,113.62 466.48,113.7 466.57,113.76 466.67,113.65 466.76,112.88 466.85,113.51 466.94,113.4 467.03,113.12 467.13,113.01 467.22,113.31 467.31,113.25 467.4,113.23 467.49,113.83 467.59,113.04 467.68,113.73 467.77,112.94 467.86,113.54 467.95,113.27 468.05,113.22 468.14,113.31 468.23,112.93 468.32,113.02 468.41,113.23 468.5,112.99 468.6,113.71 468.69,113.54 468.78,113.47 468.87,113.54 468.96,112.96 469.06,112.79 469.15,112.86 469.24,113.74 469.33,113.25 469.42,113.6 469.52,112.54 469.61,112.32 469.7,112.79 469.79,113.71 469.88,113.94 469.98,114.18 470.07,113.76 470.16,113.28 470.25,113.83 470.34,113.78 470.44,113.25 470.53,112.92 470.62,113.73 470.71,113.28 470.8,113.59 470.89,113.23 470.99,112.86 471.08,113.59 471.17,112.88 471.26,113.8 471.35,112.95 471.45,113.14 471.54,112.77 471.63,113.01 471.72,113.48 471.81,112.86 471.91,112.89 472,112.83 472.09,112.78 472.18,113.33 472.27,113.01 472.37,113.59 472.46,113.51 472.55,113.32 472.64,113.78 472.73,113.83 472.82,113.1 472.92,113.61 473.01,113.52 473.1,112.96 473.19,113.62 473.28,112.79 473.38,113.5 473.47,113.75 473.56,113.47 473.65,113.52 473.74,113.48 473.84,113.21 473.93,112.87 474.02,113.17 474.11,113.09 474.2,113.65 474.3,113.72 474.39,113.82 474.48,113.1 474.57,113.65 474.66,113.34 474.76,111.54 474.85,110.99 474.94,110.06 475.03,111.05 475.12,113.2 475.21,114.62 475.31,114.06 475.4,113.7 475.49,113.48 475.58,113.39 475.67,112.89 475.77,112.93 475.86,112.76 475.95,113.1 476.04,113.83 476.13,112.95 476.23,113.57 476.32,113.45 476.41,113.69 476.5,113.62 476.59,112.81 476.69,113.1 476.78,113.66 476.87,113.45 476.96,113.68 477.05,112.77 477.15,113.66 477.24,113.17 477.33,113.6 477.42,113.38 477.51,113.13 477.6,113.31 477.7,112.76 477.79,113.76 477.88,113.69 477.97,113.45 478.06,113.44 478.16,113.54 478.25,113.21 478.34,113 478.43,113.44 478.52,113.81 478.62,113.68 478.71,113.61 478.8,112.91 478.89,113.07 478.98,113.04 479.08,113.35 479.17,113.72 479.26,113.41 479.35,113.37 479.44,113.2 479.54,112.92 479.63,113.02 479.72,113.8 479.81,113.72 479.9,113.44 479.99,113.48 480.09,112.97 480.18,112.75 480.27,112.75 480.36,112.74 480.45,112.94 480.55,113.8 480.64,113.35 480.73,112.96 480.82,112.82 480.91,112.74 481.01,112.73 481.1,112.87 481.19,113.09 481.28,112.89 481.37,112.97 481.47,113.4 481.56,112.86 481.65,112.86 481.74,113.56 481.83,113.02 481.93,113.41 482.02,113.03 482.11,113.48 482.2,112.72 482.29,113.01 482.38,113.66 482.48,113.03 482.57,113.41 482.66,112.94 482.75,112.83 482.84,113.18 482.94,113.21 483.03,112.75 483.12,113.29 483.21,113.17 483.3,113.1 483.4,113.54 483.49,113.66 483.58,113.02 483.67,112.54 483.76,112.36 483.86,111.74 483.95,111.75 484.04,113.07 484.13,114 484.22,114.79 484.31,114.22 484.41,114.02 484.5,113.13 484.59,112.79 484.68,113.65 484.77,113.34 484.87,113.58 484.96,113.52 485.05,113.55 485.14,113.09 485.23,113.65 485.33,113.37 485.42,113.14 485.51,112.88 485.6,112.8 485.69,112.95 485.79,113.05 485.88,113.06 485.97,113.38 486.06,113.75 486.15,113.31 486.25,113.42 486.34,112.7 486.43,113.46 486.52,113.28 486.61,113.55 486.7,113.07 486.8,113.4 486.89,113.25 486.98,113.55 487.07,113.17 487.16,113.59 487.26,113.64 487.35,113.27 487.44,113.24 487.53,113.46 487.62,113.26 487.72,113.75 487.81,113.71 487.9,113.19 487.99,113.24 488.08,112.19 488.18,112.5 488.27,112 488.36,111.92 488.45,112.88 488.54,114.41 488.64,114.3 488.73,113.76 488.82,113.26 488.91,112.97 489,113.21 489.09,113.68 489.19,113.37 489.28,112.73 489.37,112.9 489.46,112.77 489.55,113.63 489.65,113.61 489.74,113.69 489.83,113.15 489.92,113.02 490.01,112.74 490.11,112.95 490.2,113.05 490.29,113.1 490.38,113.04 490.47,113.47 490.57,113.61 490.66,113.09 490.75,113.57 490.84,112.99 490.93,112.96 491.03,113.54 491.12,112.77 491.21,112.75 491.3,113.76 491.39,113.18 491.48,113.12 491.58,113.51 491.67,113.64 491.76,113.07 491.85,113.55 491.94,112.81 492.04,113.64 492.13,113.12 492.22,113.07 492.31,112.61 492.4,112.49 492.5,112.49 492.59,111.91 492.68,112.69 492.77,113.76 492.86,113.67 492.96,114.37 493.05,113.9 493.14,113.59 493.23,113.58 493.32,113.2 493.42,113.57 493.51,112.83 493.6,113.41 493.69,113.24 493.78,112.87 493.87,112.91 493.97,113.7 494.06,113.35 494.15,113.2 494.24,113.2 494.33,113.59 494.43,113.35 494.52,112.89 494.61,113.68 494.7,113.58 494.79,113.51 494.89,113.43 494.98,113.39 495.07,113 495.16,113.72 495.25,113.43 495.35,112.83 495.44,113.54 495.53,113.12 495.62,112.71 495.71,113.62 495.8,112.89 495.9,113.11 495.99,112.75 496.08,113.22 496.17,113.23 496.26,113.55 496.36,113.69 496.45,113.61 496.54,113.38 496.63,113.08 496.72,113.67 496.82,112.89 496.91,112.99 497,113.26 497.09,113.04 497.18,113.26 497.28,112.77 497.37,112.91 497.46,112.66 497.55,113.11 497.64,112.9 497.74,113.53 497.83,112.92 497.92,112.84 498.01,113.42 498.1,112.85 498.19,113.55 498.29,113.21 498.38,112.79 498.47,113.4 498.56,113.73 498.65,112.97 498.75,113.24 498.84,113.23 498.93,113.67 499.02,113.71 499.11,112.7 499.21,113.05 499.3,113.51 499.39,113.09 499.48,113.19 499.57,113.25 499.67,112.64 499.76,112.67 499.85,113.61 499.94,113.06 500.03,113.11 500.13,113.2 500.22,113.23 500.31,112.67 500.4,110.19 500.49,108.99 500.58,108.07 500.68,110.7 500.77,113.66 500.86,114.64 500.95,114.35 501.04,114.2 501.14,113.57 501.23,113.66 501.32,113.22 501.41,112.96 501.5,113.38 501.6,113.15 501.69,112.62 501.78,112.76 501.87,113.67 501.96,113.32 502.06,112.65 502.15,113.44 502.24,113.44 502.33,112.66 502.42,113.7 502.52,112.8 502.61,113.17 502.7,113.39 502.79,113.15 502.88,112.99 502.97,113.13 503.07,113.3 503.16,113.66 503.25,113.58 503.34,113.69 503.43,113.49 503.53,113.13 503.62,113 503.71,113.61 503.8,113.62 503.89,112.94 503.99,113.47 504.08,112.99 504.17,112.66 504.26,113.12 504.35,113.59 504.45,113.19 504.54,113.5 504.63,113.53 504.72,113.48 504.81,112.93 504.91,113.6 505,112.69 505.09,113.15 505.18,112.69 505.27,113.02 505.36,113.57 505.46,113.49 505.55,113.69 505.64,113.21 505.73,113.17 505.82,112.78 505.92,113.13 506.01,113.59 506.1,112.97 506.19,113.53 506.28,112.93 506.38,113.47 506.47,112.8 506.56,113.65 506.65,112.72 506.74,112.68 506.84,113.22 506.93,113.44 507.02,113.37 507.11,113.03 507.2,113.37 507.29,112.81 507.39,112.95 507.48,112.9 507.57,112.83 507.66,112.57 507.75,112.55 507.85,112.36 507.94,111.68 508.03,111.09 508.12,112.06 508.21,112.92 508.31,114.2 508.4,113.34 508.49,113.83 508.58,113.7 508.67,113.25 508.77,113.28 508.86,113.66 508.95,112.74 509.04,112.68 509.13,113.14 509.23,113.37 509.32,113.17 509.41,113.11 509.5,113.05 509.59,113.08 509.68,113.54 509.78,112.65 509.87,113.3 509.96,112.68 510.05,113.5 510.14,112.86 510.24,113.45 510.33,112.92 510.42,113.27 510.51,113.13 510.6,113.62 510.7,113.09 510.79,113.13 510.88,113.12 510.97,112.84 511.06,113.6 511.16,112.94 511.25,112.73 511.34,112.8 511.43,113.36 511.52,113.56 511.62,113.22 511.71,113.62 511.8,112.81 511.89,113.54 511.98,113.41 512.07,112.8 512.17,112.66 512.26,113.03 512.35,113.02 512.44,113.1 512.53,113.35 512.63,112.81 512.72,112.84 512.81,112.93 512.9,112.74 512.99,113.04 513.09,113.22 513.18,112.86 513.27,112.71 513.36,113.36 513.45,112.65 513.55,113.5 513.64,113.23 513.73,112.8 513.82,112.56 513.91,113.48 514.01,112.58 514.1,113.38 514.19,113.14 514.28,113.31 514.37,112.77 514.46,113.36 514.56,112.83 514.65,113.2 514.74,113.61 514.83,113.21 514.92,112.72 515.02,112.82 515.11,113 515.2,113.46 515.29,113.42 515.38,112.98 515.48,113.19 515.57,112.94 515.66,113.08 515.75,112.89 515.84,113.58 515.94,112.95 516.03,112.89 516.12,113.23 516.21,112.78 516.3,112.67 516.4,113.03 516.49,113.45 516.58,112.94 516.67,112.85 516.76,112.86 516.85,113.2 516.95,112.84 517.04,113.12 517.13,113.1 517.22,112.58 517.31,112.89 517.41,113.44 517.5,112.77 517.59,113.36 517.68,112.62 517.77,113.07 517.87,113 517.96,113.25 518.05,112.54 518.14,112.67 518.23,112.98 518.33,113.54 518.42,113.08 518.51,113.48 518.6,113.12 518.69,113.62 518.78,112.62 518.88,113.49 518.97,112.81 519.06,112.77 519.15,113.11 519.24,112.99 519.34,113.62 519.43,113.56 519.52,113.32 519.61,112.8 519.7,112.78 519.8,113.01 519.89,112.88 519.98,112.77 520.07,112.75 520.16,112.81 520.26,112.85 520.35,112.64 520.44,112.86 520.53,113.57 520.62,113.44 520.72,113.2 520.81,113.57 520.9,113.55 520.99,112.62 521.08,112.57 521.17,112.88 521.27,113.1 521.36,113.61 521.45,112.55 521.54,113.28 521.63,113.34 521.73,112.54 521.82,112.36 521.91,111.06 522,108.93 522.09,109.83 522.19,111.52 522.28,113.78 522.37,113.83 522.46,114.11 522.55,112.89 522.65,112.65 522.74,113 522.83,112.89 522.92,112.98 523.01,112.74 523.11,113.6 523.2,112.96 523.29,113.05 523.38,112.9 523.47,113.48 523.56,112.69 523.66,113.53 523.75,112.72 523.84,113.47 523.93,112.97 524.02,113.16 524.12,112.76 524.21,113.4 524.3,112.75 524.39,113.37 524.48,113.23 524.58,113.49 524.67,113.59 524.76,113.38 524.85,112.69 524.94,113.4 525.04,112.61 525.13,113.39 525.22,113.51 525.31,112.65 525.4,112.54 525.5,113.39 525.59,112.88 525.68,113.24 525.77,113.4 525.86,113.53 525.95,113.06 526.05,113.42 526.14,113.5 526.23,113.34 526.32,112.9 526.41,113.5 526.51,112.95 526.6,113.48 526.69,112.91 526.78,113.02 526.87,112.53 526.97,112.61 527.06,113.51 527.15,112.99 527.24,113.29 527.33,113.01 527.43,113.29 527.52,113.06 527.61,112.64 527.7,112.83 527.79,113.18 527.89,112.66 527.98,113.52 528.07,112.55 528.16,113.1 528.25,113.44 528.34,113.29 528.44,112.64 528.53,112.6 528.62,113.26 528.71,112.93 528.8,112.59 528.9,112.62 528.99,113.21 529.08,112.51 529.17,112.8 529.26,113.51 529.36,112.75 529.45,113.41 529.54,112.5 529.63,112.7 529.72,112.53 529.82,113.28 529.91,113.1 530,113.32 530.09,113.37 530.18,113.27 530.27,112.59 530.37,112.98 530.46,112.51 530.55,113.35 530.64,112.88 530.73,112.98 530.83,113.45 530.92,113.56 531.01,113.13 531.1,112.89 531.19,113.43 531.29,113.4 531.38,112.7 531.47,112.97 531.56,113.51 531.65,113.55 531.75,113.47 531.84,113 531.93,112.64 532.02,113.44 532.11,112.69 532.21,113.13 532.3,112.89 532.39,113.39 532.48,112.87 532.57,112.88 532.66,113.39 532.76,113.26 532.85,113.56 532.94,112.59 533.03,112.6 533.12,113.2 533.22,113 533.31,113.44 533.4,112.97 533.49,112.51 533.58,112.98 533.68,112.73 533.77,113.34 533.86,113.34 533.95,113.4 534.04,112.57 534.14,113.07 534.23,112.67 534.32,113.53 534.41,112.62 534.5,113.17 534.6,113.24 534.69,112.67 534.78,113.09 534.87,112.58 534.96,112.49 535.05,112.63 535.15,112.04 535.24,111.73 535.33,111.37 535.42,111.82 535.51,112.13 535.61,113.42 535.7,114.02 535.79,113.38 535.88,113.03 535.97,112.92 536.07,113.37 536.16,112.84 536.25,113.29 536.34,112.6 536.43,112.78 536.53,112.76 536.62,112.69 536.71,112.61 536.8,112.88 536.89,113.34 536.99,113.17 537.08,113.53 537.17,112.79 537.26,112.77 537.35,112.7 537.44,112.98 537.54,112.57 537.63,113.32 537.72,112.9 537.81,112.48 537.9,112.99 538,112.91 538.09,112.65 538.18,112.77 538.27,113.17 538.36,113.53 538.46,113.1 538.55,112.71 538.64,112.47 538.73,112.79 538.82,112.69 538.92,112.9 539.01,112.92 539.1,112.74 539.19,112.61 539.28,113.45 539.38,113.47 539.47,113.22 539.56,113.45 539.65,113.05 539.74,113.24 539.83,112.91 539.93,113.15 540.02,113.36 540.11,113.2 540.2,113.3 540.29,113.1 540.39,112.8 540.48,113.3 540.57,113.41 540.66,112.68 540.75,112.6 540.85,112.43 540.94,112.69 541.03,112.62 541.12,112.63 541.21,112.52 541.31,112.36 541.4,111.37 541.49,111.1 541.58,109.63 541.67,110.44 541.76,113 541.86,113.43 541.95,113.95 542.04,113.16 542.13,112.56 542.22,112.48 542.32,113.43 542.41,112.47 542.5,112.9 542.59,112.7 542.68,113.12 542.78,112.82 542.87,113.3 542.96,112.65 543.05,113 543.14,113.49 543.24,112.99 543.33,113.46 543.42,112.46 543.51,113.38 543.6,112.84 543.7,113.5 543.79,113.18 543.88,112.69 543.97,113.25 544.06,112.59 544.15,112.98 544.25,113.22 544.34,112.59 544.43,112.47 544.52,113.33 544.61,112.61 544.71,113.24 544.8,112.92 544.89,112.61 544.98,113.35 545.07,112.81 545.17,112.69 545.26,113.39 545.35,113.49 545.44,112.76 545.53,113.47 545.63,112.52 545.72,113.27 545.81,113.04 545.9,112.66 545.99,112.83 546.09,112.75 546.18,113.14 546.27,112.86 546.36,112.86 546.45,113.13 546.54,112.77 546.64,112.48 546.73,112.93 546.82,113.34 546.91,112.65 547,112.69 547.1,113.39 547.19,112.57 547.28,113.44 547.37,112.72 547.46,112.62 547.56,113.18 547.65,113.37 547.74,112.9 547.83,112.68 547.92,112.53 548.02,112.39 548.11,113.16 548.2,113.2 548.29,112.73 548.38,112.9 548.48,113.22 548.57,113.15 548.66,113.13 548.75,113.39 548.84,112.65 548.93,113.45 549.03,113.07 549.12,112.73 549.21,113.13 549.3,112.71 549.39,112.83 549.49,113.28 549.58,113.26 549.67,113.03 549.76,113.26 549.85,113.33 549.95,112.8 550.04,112.46 550.13,113.41 550.22,112.44 550.31,112.86 550.41,112.48 550.5,112.96 550.59,113.23 550.68,112.41 550.77,112.91 550.87,112.77 550.96,112.9 551.05,112.75 551.14,111.94 551.23,111.07 551.32,111.97 551.42,113.06 551.51,113.34 551.6,114.07 551.69,113.17 551.78,112.9 551.88,112.63 551.97,112.96 552.06,113.25 552.15,112.49 552.24,112.91 552.34,112.69 552.43,112.43 552.52,112.8 552.61,113.06 552.7,113.04 552.8,113.46 552.89,113.13 552.98,113.38 553.07,113.16 553.16,113.11 553.25,113.35 553.35,113.31 553.44,113.19 553.53,112.72 553.62,112.67 553.71,113.31 553.81,112.38 553.9,112.78 553.99,113.28 554.08,112.68 554.17,112.9 554.27,112.74 554.36,113.06 554.45,113.26 554.54,112.42 554.63,112.8 554.73,113.29 554.82,112.8 554.91,113.42 555,112.65 555.09,112.9 555.19,112.54 555.28,113.3 555.37,112.88 555.46,113.25 555.55,113.1 555.64,112.64 555.74,113.28 555.83,112.42 555.92,113.36 556.01,113.21 556.1,112.61 556.2,112.98 556.29,112.73 556.38,112.86 556.47,113.39 556.56,112.84 556.66,112.98 556.75,112.39 556.84,112.4 556.93,112.86 557.02,112.8 557.12,113.37 557.21,112.97 557.3,113.32 557.39,112.97 557.48,113.36 557.58,112.69 557.67,112.37 557.76,113.16 557.85,113.06 557.94,112.55 558.03,112.57 558.13,112.85 558.22,113.32 558.31,113.07 558.4,112.81 558.49,112.96 558.59,112.71 558.68,112.76 558.77,112.53 558.86,113.1 558.95,112.36 559.05,112.91 559.14,112.43 559.23,112.49 559.32,113.16 559.41,113.28 559.51,112.89 559.6,113.39 559.69,113.11 559.78,112.92 559.87,112.99 559.97,112.33 560.06,112.37 560.15,112.88 560.24,111.92 560.33,111.81 560.42,110.74 560.52,111.44 560.61,112.53 560.7,114.07 560.79,113.67 560.88,113.01 560.98,112.53 561.07,112.99 561.16,112.34 561.25,113.27 561.34,112.49 561.44,113.16 561.53,113.27 561.62,112.63 561.71,112.96 561.8,113.07 561.9,112.82 561.99,112.77 562.08,113.29 562.17,112.6 562.26,112.94 562.36,112.32 562.45,112.94 562.54,113.38 562.63,112.75 562.72,113.12 562.81,112.67 562.91,112.73 563,112.74 563.09,113.28 563.18,112.67 563.27,112.36 563.37,112.91 563.46,112.95 563.55,112.97 563.64,112.82 563.73,112.63 563.83,113.09 563.92,112.58 564.01,112.59 564.1,112.5 564.19,112.37 564.29,112.53 564.38,113.05 564.47,112.74 564.56,112.81 564.65,112.56 564.74,112.58 564.84,113.06 564.93,113.33 565.02,112.45 565.11,113.06 565.2,113.36 565.3,112.9 565.39,113.28 565.48,112.5 565.57,113.16 565.66,112.42 565.76,112.53 565.85,112.4 565.94,112.3 566.03,113.13 566.12,112.68 566.22,112.69 566.31,113.1 566.4,112.57 566.49,113.24 566.58,112.5 566.68,113.36 566.77,113.25 566.86,112.84 566.95,113.32 567.04,113.22 567.13,113.34 567.23,112.61 567.32,112.74 567.41,112.62 567.5,112.78 567.59,112.9 567.69,113.23 567.78,112.65 567.87,112.9 567.96,112.59 568.05,112.77 568.15,112.34 568.24,112.88 568.33,112.96 568.42,112.93 568.51,113.24 568.61,112.85 568.7,112.59 568.79,113.33 568.88,112.72 568.97,112.49 569.07,112.84 569.16,113.05 569.25,112.53 569.34,112.33 569.43,111.76 569.52,111.72 569.62,111.33 569.71,112.36 569.8,112.64 569.89,113.75 569.98,113.2 570.08,112.9 570.17,112.53 570.26,113.01 570.35,113.08 570.44,112.75 570.54,113.18 570.63,113.15 570.72,113.22 570.81,112.98 570.9,112.76 571,112.73 571.09,113.15 571.18,112.59 571.27,112.54 571.36,113.37 571.46,113.3 571.55,112.99 571.64,113.18 571.73,112.33 571.82,113.12 571.91,112.92 572.01,112.59 572.1,112.57 572.19,113.01 572.28,113.27 572.37,113.08 572.47,112.31 572.56,112.91 572.65,112.63 572.74,112.51 572.83,112.32 572.93,112.9 573.02,112.56 573.11,112.63 573.2,112.81 573.29,113.25 573.39,112.56 573.48,112.89 573.57,112.97 573.66,113.09 573.75,113.19 573.85,112.51 573.94,113.21 574.03,112.34 574.12,112.76 574.21,113.06 574.3,113.24 574.4,112.64 574.49,113 574.58,113.02 574.67,112.3 574.76,113.08 574.86,113.17 574.95,112.4 575.04,112.6" fill="none" stroke="#0A0AFF" stroke-width="1.0" stroke-linejoin="round" />
<line x1="59.3" y1="166.6" x2="59.3" y2="261.3" stroke="#2a2a2a" stroke-width="0.9" />
<line x1="59.3" y1="261.3" x2="266" y2="261.3" stroke="#2a2a2a" stroke-width="0.9" />
<line x1="56.3" y1="261.3" x2="59.3" y2="261.3" stroke="#2a2a2a" stroke-width="0.8" />
<text x="55" y="265.2" font-size="11.3" text-anchor="end" font-weight="normal" font-style="normal" fill="#1a1a1a" >0</text>
<line x1="57.3" y1="250.04" x2="59.3" y2="250.04" stroke="#2a2a2a" stroke-width="0.8" />
<line x1="56.3" y1="238.78" x2="59.3" y2="238.78" stroke="#2a2a2a" stroke-width="0.8" />
<text x="55" y="242.68" font-size="11.3" text-anchor="end" font-weight="normal" font-style="normal" fill="#1a1a1a" >4</text>
<line x1="57.3" y1="227.52" x2="59.3" y2="227.52" stroke="#2a2a2a" stroke-width="0.8" />
<line x1="56.3" y1="216.26" x2="59.3" y2="216.26" stroke="#2a2a2a" stroke-width="0.8" />
<text x="55" y="220.16" font-size="11.3" text-anchor="end" font-weight="normal" font-style="normal" fill="#1a1a1a" >8</text>
<line x1="57.3" y1="205" x2="59.3" y2="205" stroke="#2a2a2a" stroke-width="0.8" />
<line x1="56.3" y1="193.74" x2="59.3" y2="193.74" stroke="#2a2a2a" stroke-width="0.8" />
<text x="55" y="197.64" font-size="11.3" text-anchor="end" font-weight="normal" font-style="normal" fill="#1a1a1a" >12</text>
<line x1="57.3" y1="182.48" x2="59.3" y2="182.48" stroke="#2a2a2a" stroke-width="0.8" />
<line x1="56.3" y1="171.22" x2="59.3" y2="171.22" stroke="#2a2a2a" stroke-width="0.8" />
<text x="55" y="175.12" font-size="11.3" text-anchor="end" font-weight="normal" font-style="normal" fill="#1a1a1a" >16</text>
<line x1="59.2" y1="261.3" x2="59.2" y2="263.3" stroke="#2a2a2a" stroke-width="0.8" />
<line x1="86.3" y1="261.3" x2="86.3" y2="264.3" stroke="#2a2a2a" stroke-width="0.8" />
<text x="86.3" y="274.5" font-size="11.3" text-anchor="middle" font-weight="normal" font-style="normal" fill="#1a1a1a" >10</text>
<line x1="113.4" y1="261.3" x2="113.4" y2="263.3" stroke="#2a2a2a" stroke-width="0.8" />
<line x1="140.5" y1="261.3" x2="140.5" y2="264.3" stroke="#2a2a2a" stroke-width="0.8" />
<text x="140.5" y="274.5" font-size="11.3" text-anchor="middle" font-weight="normal" font-style="normal" fill="#1a1a1a" >20</text>
<line x1="167.6" y1="261.3" x2="167.6" y2="263.3" stroke="#2a2a2a" stroke-width="0.8" />
<line x1="194.7" y1="261.3" x2="194.7" y2="264.3" stroke="#2a2a2a" stroke-width="0.8" />
<text x="194.7" y="274.5" font-size="11.3" text-anchor="middle" font-weight="normal" font-style="normal" fill="#1a1a1a" >30</text>
<line x1="221.8" y1="261.3" x2="221.8" y2="263.3" stroke="#2a2a2a" stroke-width="0.8" />
<line x1="248.9" y1="261.3" x2="248.9" y2="264.3" stroke="#2a2a2a" stroke-width="0.8" />
<text x="248.9" y="274.5" font-size="11.3" text-anchor="middle" font-weight="normal" font-style="normal" fill="#1a1a1a" >40</text>
<text x="25.5" y="217.9" font-size="14.9" text-anchor="middle" font-weight="normal" font-style="normal" fill="#1a1a1a" transform="rotate(-90 25.5 217.9)" dy="5">Intensity (10<tspan font-size="8" dx="1" dy="-6">3</tspan><tspan dy="6"> cts/s)</tspan></text>
<text x="163" y="298" font-size="14.9" text-anchor="middle" font-weight="normal" font-style="normal" fill="#1a1a1a" >2θ (°)</text>
<clipPath id="cc"><rect x="59.3" y="166" width="210" height="96"/></clipPath>
<g clip-path="url(#cc)">
<polyline points="59.2,251.4 59.63,251.75 60.07,251.77 60.5,251.23 60.93,251.38 61.37,251.19 61.8,251.14 62.24,251.25 62.67,251.76 63.1,251.74 63.54,251.25 63.97,251.54 64.4,251.56 64.84,251.42 65.27,251.7 65.7,251.18 66.14,251.3 66.57,251.19 67,251.75 67.44,251.67 67.87,251.43 68.31,251.18 68.74,251.72 69.17,251.67 69.61,251.73 70.04,251.78 70.47,251.59 70.91,251.46 71.34,251.68 71.77,251.22 72.21,251.71 72.64,251.34 73.08,251.43 73.51,251.73 73.94,251.13 74.38,251.36 74.81,251.69 75.24,251.4 75.68,251.75 76.11,251.62 76.54,251.28 76.98,251.46 77.41,251.37 77.84,251.58 78.28,251.61 78.71,251.47 79.15,251.17 79.58,251.71 80.01,251.23 80.45,251.55 80.88,251.68 81.31,251.42 81.75,251.13 82.18,251.48 82.61,251.16 83.05,251.21 83.48,251.23 83.92,251.2 84.35,251.48 84.78,251.6 85.22,251.38 85.65,251.73 86.08,251.11 86.52,251.28 86.95,251.27 87.38,251.41 87.82,251.5 88.25,251.22 88.68,251.31 89.12,251.27 89.55,251.24 89.99,251.03 90.42,251.5 90.85,250.99 91.29,251.26 91.72,251.11 92.15,251.23 92.59,251.42 93.02,251.48 93.45,251.51 93.89,251.33 94.32,251.08 94.76,250.87 95.19,250.96 95.62,251.46 96.06,251.09 96.49,251.07 96.92,251.04 97.36,251.01 97.79,250.9 98.22,250.94 98.66,251.06 99.09,251.03 99.52,250.74 99.96,250.76 100.39,250.68 100.83,250.97 101.26,251.08 101.69,251.23 102.13,250.87 102.56,251 102.99,251.11 103.43,250.91 103.86,250.9 104.29,250.61 104.73,250.96 105.16,250.97 105.6,250.66 106.03,250.89 106.46,250.56 106.9,250.47 107.33,250.61 107.76,250.75 108.2,250.62 108.63,250.51 109.06,250.99 109.5,250.79 109.93,250.48 110.36,250.32 110.8,250.76 111.23,250.89 111.67,250.73 112.1,250.7 112.53,250.89 112.97,250.68 113.4,250.27 113.83,250.51 114.27,250.45 114.7,250.57 115.13,250.27 115.57,250.59 116,250.64 116.44,250.33 116.87,250.58 117.3,250.38 117.74,250.61 118.17,250.46 118.6,250.8 119.04,250.44 119.47,250.12 119.9,250.05 120.34,250.32 120.77,249.56 121.2,249.45 121.64,248.38 122.07,247.12 122.51,245.88 122.94,245 123.37,244.01 123.81,243.76 124.24,244.31 124.67,245.42 125.11,246.63 125.54,248.07 125.97,248.91 126.41,249.57 126.84,249.93 127.28,250.43 127.71,250.38 128.14,250.46 128.58,250.48 129.01,250.63 129.44,251.04 129.88,250.78 130.31,250.64 130.74,250.79 131.18,250.8 131.61,250.54 132.04,251.09 132.48,250.9 132.91,251.25 133.35,251.02 133.78,250.77 134.21,251.31 134.65,250.72 135.08,250.78 135.51,250.78 135.95,250.81 136.38,250.82 136.81,251.37 137.25,250.86 137.68,251.13 138.12,250.9 138.55,251.04 138.98,250.91 139.42,251.12 139.85,251.08 140.28,251.4 140.72,251.61 141.15,251.07 141.58,251.27 142.02,251.4 142.45,251.67 142.88,251.04 143.32,251.47 143.75,251.31 144.19,251.39 144.62,251.55 145.05,251.56 145.49,251.36 145.92,251.67 146.35,251.52 146.79,251.29 147.22,251.27 147.65,251.29 148.09,251.73 148.52,251.77 148.96,251.29 149.39,251.6 149.82,251.25 150.26,251.25 150.69,251.69 151.12,251.62 151.56,251.54 151.99,251.55 152.42,251.57 152.86,251.52 153.29,251.46 153.72,251.93 154.16,251.33 154.59,251.7 155.03,251.41 155.46,251.55 155.89,251.33 156.33,251.41 156.76,251.74 157.19,251.34 157.63,251.61 158.06,251.75 158.49,251.73 158.93,251.41 159.36,251.63 159.8,251.57 160.23,251.91 160.66,251.95 161.1,251.77 161.53,251.9 161.96,251.65 162.4,252.04 162.83,251.86 163.26,251.99 163.7,251.48 164.13,251.86 164.56,251.84 165,251.86 165.43,252 165.87,251.54 166.3,251.46 166.73,251.77 167.17,251.51 167.6,251.99 168.03,251.84 168.47,251.33 168.9,251.23 169.33,250.7 169.77,250.54 170.2,250.1 170.64,249.93 171.07,250.77 171.5,250.67 171.94,250.93 172.37,251.67 172.8,251.74 173.24,251.97 173.67,251.55 174.1,252.05 174.54,251.99 174.97,251.86 175.4,251.42 175.84,251.95 176.27,251.68 176.71,251.51 177.14,251.65 177.57,252.08 178.01,251.64 178.44,251.75 178.87,252.06 179.31,251.92 179.74,251.69 180.17,251.66 180.61,251.81 181.04,251.81 181.48,251.94 181.91,251.88 182.34,251.56 182.78,252.05 183.21,252 183.64,251.79 184.08,251.54 184.51,251.76 184.94,252.05 185.38,251.63 185.81,251.67 186.24,251.93 186.68,251.96 187.11,252.03 187.55,251.73 187.98,251.96 188.41,251.61 188.85,251.49 189.28,251.94 189.71,251.62 190.15,252.07 190.58,251.68 191.01,251.7 191.45,252.05 191.88,251.48 192.32,252.14 192.75,251.69 193.18,251.49 193.62,251.7 194.05,251.55 194.48,251.64 194.92,251.82 195.35,251.86 195.78,251.6 196.22,252.17 196.65,251.57 197.08,251.55 197.52,251.66 197.95,251.48 198.39,252.09 198.82,251.59 199.25,251.49 199.69,251.92 200.12,251.72 200.55,251.57 200.99,251.81 201.42,251.61 201.85,251.54 202.29,251.84 202.72,251.66 203.16,251.73 203.59,251.84 204.02,252.19 204.46,251.92 204.89,251.89 205.32,251.71 205.76,251.82 206.19,251.69 206.62,252.09 207.06,252.15 207.49,252.09 207.92,251.79 208.36,252.01 208.79,251.71 209.23,252.06 209.66,252.17 210.09,251.63 210.53,251.57 210.96,252.21 211.39,251.91 211.83,252.06 212.26,252.11 212.69,252.08 213.13,251.59 213.56,251.69 214,251.78 214.43,252.13 214.86,252.03 215.3,251.68 215.73,251.62 216.16,252.08 216.6,252.14 217.03,251.54 217.46,251.76 217.9,251.61 218.33,251.83 218.76,251.55 219.2,251.81 219.63,251.65 220.07,251.58 220.5,252.22 220.93,251.65 221.37,252.19 221.8,252.05 222.23,251.79 222.67,251.81 223.1,251.81 223.53,251.74 223.97,251.95 224.4,251.64 224.84,251.96 225.27,251.9 225.7,251.68 226.14,252.22 226.57,251.76 227,252 227.44,252.06 227.87,252.08 228.3,251.97 228.74,251.88 229.17,251.86 229.6,252.08 230.04,251.61 230.47,251.96 230.91,252.15 231.34,251.89 231.77,251.91 232.21,252.05 232.64,252.12 233.07,251.8 233.51,252 233.94,252.15 234.37,252.01 234.81,251.72 235.24,252.28 235.68,251.82 236.11,252.04 236.54,251.62 236.98,252.06 237.41,251.97 237.84,252.22 238.28,251.75 238.71,251.6 239.14,251.82 239.58,251.89 240.01,252.07 240.44,251.81 240.88,252.13 241.31,252.19 241.75,251.62 242.18,252.29 242.61,251.64 243.05,251.78 243.48,251.66 243.91,252.16 244.35,252.27 244.78,251.79 245.21,252 245.65,252.28 246.08,252.15 246.52,251.79 246.95,251.93 247.38,252.25 247.82,252.22 248.25,251.95 248.68,252.02 249.12,251.67 249.55,251.89 249.98,252.18 250.42,251.65 250.85,251.76 251.28,252.02 251.72,251.64 252.15,251.75 252.59,252.15 253.02,251.76 253.45,251.98 253.89,252.29 254.32,252 254.75,252.11 255.19,251.68 255.62,252 256.05,252.01 256.49,251.97 256.92,251.97 257.36,251.65 257.79,251.91 258.22,251.39 258.66,250.98 259.09,249.78 259.52,249.57 259.96,249.25 260.39,250.19 260.82,250.86 261.26,251.35 261.69,251.8 262.12,251.81 262.56,252.02 262.99,251.91 263.43,251.84 263.86,252.36 264.29,252.34 264.73,252.02 265.16,252.06" fill="none" stroke="#000" stroke-width="1.3" stroke-linejoin="round" />
<polyline points="59.2,251.67 59.63,251.54 60.07,251.39 60.5,251.45 60.93,251.66 61.37,251.15 61.8,251.39 62.24,251.16 62.67,251.5 63.1,251.13 63.54,251.42 63.97,251.2 64.4,251.35 64.84,251.79 65.27,251.28 65.7,251.37 66.14,251.68 66.57,251.26 67,251.27 67.44,251.41 67.87,251.55 68.31,251.26 68.74,251.3 69.17,251.16 69.61,251.31 70.04,251.39 70.47,251.54 70.91,251.33 71.34,251.49 71.77,251.67 72.21,251.32 72.64,251.62 73.08,251.65 73.51,251.77 73.94,251.64 74.38,251.57 74.81,251.57 75.24,251.39 75.68,251.75 76.11,251.25 76.54,251.37 76.98,251.21 77.41,251.47 77.84,251.75 78.28,251.57 78.71,251.13 79.15,251.73 79.58,251.15 80.01,251.24 80.45,251.44 80.88,251.12 81.31,251.66 81.75,251.58 82.18,251.77 82.61,251.54 83.05,251.39 83.48,251.25 83.92,251.3 84.35,251.52 84.78,251.65 85.22,251.2 85.65,251.43 86.08,251.51 86.52,251.21 86.95,251.54 87.38,251.23 87.82,251.27 88.25,251.17 88.68,251.68 89.12,251.04 89.55,251.21 89.99,251.42 90.42,251.34 90.85,251.13 91.29,251.31 91.72,251.28 92.15,251.32 92.59,251.24 93.02,251.03 93.45,251.39 93.89,251.12 94.32,251.44 94.76,251.1 95.19,251.46 95.62,251.01 96.06,251.28 96.49,251.49 96.92,251 97.36,251.34 97.79,251.15 98.22,250.75 98.66,251.14 99.09,250.98 99.52,250.75 99.96,251.24 100.39,251.15 100.83,251.3 101.26,250.72 101.69,250.86 102.13,250.99 102.56,250.82 102.99,250.64 103.43,250.8 103.86,250.82 104.29,250.85 104.73,250.79 105.16,250.76 105.6,250.8 106.03,250.91 106.46,250.59 106.9,250.73 107.33,250.97 107.76,250.91 108.2,250.9 108.63,250.98 109.06,250.66 109.5,250.89 109.93,250.84 110.36,250.52 110.8,250.79 111.23,250.58 111.67,250.63 112.1,250.33 112.53,250.72 112.97,250.43 113.4,250.49 113.83,250.55 114.27,250.7 114.7,250.85 115.13,250.76 115.57,250.62 116,250.35 116.44,250.52 116.87,250.58 117.3,250.38 117.74,250.77 118.17,250.35 118.6,250.5 119.04,250.82 119.47,250.29 119.9,250.44 120.34,250.79 120.77,250.8 121.2,250.47 121.64,250.65 122.07,250.57 122.51,250.24 122.94,250.83 123.37,250.81 123.81,250.85 124.24,250.37 124.67,250.61 125.11,250.82 125.54,250.86 125.97,250.87 126.41,250.32 126.84,250.78 127.28,250.56 127.71,250.43 128.14,250.7 128.58,250.41 129.01,250.55 129.44,250.57 129.88,250.33 130.31,249.78 130.74,248.97 131.18,247.51 131.61,245.33 132.04,243.34 132.48,241.82 132.91,241 133.35,241.99 133.78,243.89 134.21,245.52 134.65,247.94 135.08,249.09 135.51,250.11 135.95,250.88 136.38,250.89 136.81,251.05 137.25,251.39 137.68,250.83 138.12,251.11 138.55,251.03 138.98,251.19 139.42,251.25 139.85,251.36 140.28,251.1 140.72,251.56 141.15,251.6 141.58,251.49 142.02,251.39 142.45,251.54 142.88,251.04 143.32,251.45 143.75,251.34 144.19,251.27 144.62,251.54 145.05,251.33 145.49,251.71 145.92,251.17 146.35,251.3 146.79,251.45 147.22,251.23 147.65,251.23 148.09,251.63 148.52,251.35 148.96,251.27 149.39,251.68 149.82,251.8 150.26,251.64 150.69,251.65 151.12,251.42 151.56,251.87 151.99,251.79 152.42,251.81 152.86,251.64 153.29,251.43 153.72,251.6 154.16,251.55 154.59,251.72 155.03,251.39 155.46,251.44 155.89,251.69 156.33,251.4 156.76,251.42 157.19,251.7 157.63,251.63 158.06,251.9 158.49,252.02 158.93,251.72 159.36,251.79 159.8,251.64 160.23,251.77 160.66,251.61 161.1,251.96 161.53,251.71 161.96,251.53 162.4,251.65 162.83,251.95 163.26,251.39 163.7,252.06 164.13,251.89 164.56,251.72 165,251.57 165.43,251.55 165.87,251.62 166.3,251.89 166.73,251.82 167.17,251.73 167.6,251.65 168.03,251.68 168.47,251.49 168.9,251.66 169.33,251.88 169.77,251.41 170.2,252.06 170.64,251.41 171.07,251.71 171.5,251.59 171.94,251.7 172.37,251.36 172.8,251.23 173.24,250.1 173.67,249.5 174.1,247.96 174.54,246.38 174.97,245.28 175.4,244.89 175.84,246.21 176.27,247.72 176.71,249.44 177.14,250.41 177.57,251.37 178.01,251.41 178.44,251.37 178.87,251.51 179.31,252.12 179.74,251.65 180.17,251.52 180.61,251.54 181.04,252.1 181.48,252 181.91,251.74 182.34,251.47 182.78,252 183.21,251.44 183.64,251.96 184.08,251.74 184.51,251.69 184.94,251.45 185.38,251.91 185.81,252.06 186.24,251.76 186.68,252.06 187.11,251.58 187.55,251.68 187.98,251.75 188.41,251.58 188.85,252.14 189.28,251.81 189.71,251.45 190.15,251.9 190.58,251.56 191.01,251.7 191.45,252.03 191.88,251.7 192.32,251.65 192.75,252.07 193.18,251.65 193.62,252.13 194.05,251.49 194.48,251.51 194.92,252.16 195.35,251.9 195.78,251.86 196.22,252.03 196.65,251.68 197.08,252.08 197.52,251.67 197.95,252.08 198.39,251.83 198.82,252.11 199.25,252.15 199.69,252.04 200.12,251.58 200.55,251.81 200.99,252.12 201.42,251.8 201.85,251.63 202.29,251.82 202.72,251.58 203.16,251.54 203.59,251.9 204.02,251.5 204.46,251.78 204.89,251.71 205.32,252.04 205.76,251.66 206.19,251.43 206.62,250.67 207.06,248.17 207.49,244.36 207.92,238.62 208.36,233.64 208.79,231.8 209.23,234.02 209.66,239.16 210.09,244.59 210.53,248.09 210.96,250.54 211.39,251.39 211.83,251.69 212.26,251.82 212.69,251.99 213.13,251.52 213.56,251.93 214,251.56 214.43,252.05 214.86,252.18 215.3,251.99 215.73,252.07 216.16,252.21 216.6,252.17 217.03,251.73 217.46,251.96 217.9,251.87 218.33,251.9 218.76,251.83 219.2,251.55 219.63,251.77 220.07,251.56 220.5,252.16 220.93,252.09 221.37,251.58 221.8,251.99 222.23,252.16 222.67,251.99 223.1,252.01 223.53,251.89 223.97,251.82 224.4,251.78 224.84,251.61 225.27,251.77 225.7,251.7 226.14,251.85 226.57,251.82 227,251.77 227.44,252.25 227.87,251.72 228.3,251.83 228.74,252.14 229.17,251.82 229.6,251.6 230.04,251.96 230.47,251.81 230.91,252.12 231.34,251.8 231.77,251.8 232.21,251.93 232.64,252.01 233.07,251.66 233.51,251.62 233.94,252.11 234.37,251.75 234.81,252.23 235.24,252.15 235.68,251.95 236.11,251.64 236.54,251.76 236.98,251.6 237.41,251.99 237.84,251.98 238.28,252.1 238.71,251.84 239.14,252.22 239.58,252.2 240.01,252.07 240.44,251.95 240.88,252.24 241.31,251.95 241.75,251.6 242.18,252.22 242.61,251.66 243.05,251.86 243.48,251.86 243.91,252.2 244.35,252.02 244.78,251.99 245.21,252.3 245.65,252.23 246.08,252.06 246.52,251.91 246.95,251.77 247.38,252.23 247.82,252.11 248.25,252.25 248.68,251.9 249.12,252.29 249.55,251.67 249.98,251.82 250.42,252.28 250.85,252.16 251.28,251.75 251.72,251.87 252.15,251.78 252.59,252.07 253.02,252.11 253.45,252.05 253.89,251.91 254.32,251.68 254.75,251.86 255.19,252.28 255.62,252.15 256.05,252.05 256.49,252.05 256.92,251.91 257.36,251.65 257.79,251.78 258.22,251.97 258.66,254.32 259.09,261.6 259.52,254.27 259.96,237.62 260.39,215 260.82,186.76 261.26,168.42 261.69,175.24 262.12,200.83 262.56,227.31 262.99,243.47 263.43,250.01 263.86,251.38 264.29,252.1 264.73,252.33 265.16,252.17" fill="none" stroke="#FF0000" stroke-width="1.3" stroke-linejoin="round" />
<polyline points="59.2,236.94 59.63,237.04 60.07,236.47 60.5,236.85 60.93,236.73 61.37,236.59 61.8,236.73 62.24,236.49 62.67,236.95 63.1,236.53 63.54,236.73 63.97,236.53 64.4,237.16 64.84,236.63 65.27,236.85 65.7,236.48 66.14,236.67 66.57,236.75 67,236.48 67.44,237.08 67.87,236.92 68.31,236.49 68.74,236.78 69.17,236.55 69.61,236.76 70.04,237.01 70.47,236.61 70.91,237.05 71.34,236.81 71.77,236.9 72.21,237.15 72.64,236.58 73.08,236.97 73.51,237.1 73.94,236.81 74.38,236.62 74.81,237 75.24,236.78 75.68,236.48 76.11,237.09 76.54,236.55 76.98,236.97 77.41,236.57 77.84,236.76 78.28,236.81 78.71,236.63 79.15,236.84 79.58,237.13 80.01,236.65 80.45,236.86 80.88,237.08 81.31,236.52 81.75,237.03 82.18,237.05 82.61,236.84 83.05,236.43 83.48,236.58 83.92,236.55 84.35,236.74 84.78,236.52 85.22,237.02 85.65,237.04 86.08,236.41 86.52,236.92 86.95,236.63 87.38,236.69 87.82,236.63 88.25,236.56 88.68,236.65 89.12,236.7 89.55,236.49 89.99,236.42 90.42,236.51 90.85,236.37 91.29,236.66 91.72,236.59 92.15,236.71 92.59,236.63 93.02,236.6 93.45,236.31 93.89,236.42 94.32,236.19 94.76,236.66 95.19,236.72 95.62,236.53 96.06,236.4 96.49,236.24 96.92,236.38 97.36,236.52 97.79,236.31 98.22,236.35 98.66,235.98 99.09,236.05 99.52,236.26 99.96,236.47 100.39,236.03 100.83,236.16 101.26,236.02 101.69,235.84 102.13,235.94 102.56,236.19 102.99,235.95 103.43,235.98 103.86,236.01 104.29,236.04 104.73,236.03 105.16,236.06 105.6,236.18 106.03,235.98 106.46,235.9 106.9,236.12 107.33,235.77 107.76,235.81 108.2,235.48 108.63,235.84 109.06,235.79 109.5,236.01 109.93,235.39 110.36,235.49 110.8,235.83 111.23,235.84 111.67,235.74 112.1,235.42 112.53,235.88 112.97,235.61 113.4,235.8 113.83,235.78 114.27,235.65 114.7,235.53 115.13,235.63 115.57,235.25 116,235.68 116.44,235.8 116.87,235.57 117.3,235.59 117.74,235.65 118.17,235.58 118.6,235.18 119.04,235.58 119.47,235.35 119.9,234.54 120.34,233.96 120.77,232.25 121.2,230.18 121.64,227.27 122.07,223.67 122.51,219.97 122.94,216.65 123.37,214.31 123.81,213.54 124.24,214.95 124.67,217.72 125.11,221.83 125.54,225.6 125.97,229.13 126.41,231.65 126.84,233.6 127.28,234.77 127.71,235.14 128.14,235.51 128.58,235.79 129.01,235.53 129.44,235.86 129.88,235.48 130.31,235.52 130.74,235.37 131.18,234.95 131.61,234.19 132.04,233.75 132.48,232.69 132.91,232.82 133.35,233.05 133.78,233.38 134.21,234.27 134.65,235.3 135.08,235.7 135.51,236.02 135.95,236.35 136.38,235.92 136.81,235.98 137.25,236.57 137.68,236.12 138.12,236.36 138.55,236.15 138.98,236.06 139.42,236.57 139.85,236.55 140.28,236.25 140.72,236.13 141.15,236.62 141.58,236.3 142.02,236.66 142.45,236.32 142.88,236.86 143.32,236.28 143.75,236.43 144.19,236.37 144.62,236.67 145.05,236.8 145.49,236.36 145.92,236.66 146.35,236.95 146.79,236.59 147.22,236.83 147.65,236.84 148.09,236.56 148.52,236.99 148.96,236.94 149.39,236.72 149.82,236.55 150.26,236.49 150.69,237.02 151.12,236.83 151.56,236.81 151.99,236.74 152.42,236.47 152.86,236.59 153.29,236.52 153.72,237.11 154.16,237.15 154.59,236.79 155.03,236.94 155.46,236.93 155.89,237.2 156.33,237.21 156.76,236.62 157.19,237.19 157.63,236.97 158.06,236.79 158.49,237.1 158.93,236.58 159.36,237.12 159.8,237.17 160.23,236.62 160.66,236.75 161.1,237.26 161.53,237.23 161.96,237.01 162.4,237.25 162.83,236.64 163.26,236.87 163.7,237.18 164.13,236.62 164.56,236.82 165,236.69 165.43,237 165.87,237.28 166.3,236.92 166.73,237.11 167.17,236.45 167.6,236.44 168.03,236.34 168.47,235.63 168.9,234.32 169.33,233.6 169.77,233.41 170.2,234.14 170.64,234.24 171.07,235.15 171.5,235.89 171.94,236.47 172.37,236.97 172.8,236.91 173.24,237.15 173.67,236.94 174.1,237.19 174.54,236.86 174.97,237.04 175.4,236.88 175.84,236.91 176.27,236.74 176.71,237.22 177.14,236.86 177.57,237.28 178.01,237.08 178.44,236.7 178.87,237.25 179.31,237.22 179.74,237.04 180.17,236.81 180.61,237.22 181.04,236.83 181.48,237.26 181.91,237.24 182.34,236.68 182.78,236.87 183.21,237.32 183.64,237.19 184.08,236.79 184.51,236.92 184.94,237.26 185.38,236.64 185.81,236.74 186.24,237.13 186.68,236.9 187.11,237.09 187.55,236.93 187.98,236.99 188.41,237.1 188.85,237.15 189.28,236.72 189.71,237.05 190.15,237.32 190.58,237.31 191.01,236.7 191.45,237.01 191.88,236.78 192.32,237.33 192.75,236.83 193.18,237.28 193.62,236.92 194.05,237.29 194.48,236.7 194.92,237.01 195.35,237.06 195.78,236.94 196.22,236.85 196.65,237.22 197.08,236.71 197.52,237.23 197.95,237.27 198.39,237.23 198.82,237.1 199.25,236.93 199.69,236.97 200.12,236.78 200.55,236.7 200.99,236.67 201.42,235.91 201.85,235.18 202.29,234.73 202.72,234.04 203.16,233.29 203.59,232.85 204.02,233.44 204.46,234.31 204.89,235.59 205.32,236.41 205.76,236.63 206.19,236.56 206.62,237.28 207.06,237.2 207.49,236.78 207.92,237.27 208.36,237.31 208.79,236.87 209.23,237.06 209.66,236.67 210.09,236.91 210.53,236.81 210.96,237.32 211.39,237.18 211.83,236.84 212.26,237.19 212.69,236.76 213.13,236.71 213.56,236.96 214,237.25 214.43,237.32 214.86,236.88 215.3,236.87 215.73,236.98 216.16,236.95 216.6,237.16 217.03,237.01 217.46,236.85 217.9,236.87 218.33,237.07 218.76,236.73 219.2,236.8 219.63,236.81 220.07,236.82 220.5,236.71 220.93,237.05 221.37,237.12 221.8,236.89 222.23,237.34 222.67,236.89 223.1,237.03 223.53,237.13 223.97,237.13 224.4,237.34 224.84,236.72 225.27,236.74 225.7,236.73 226.14,236.76 226.57,236.95 227,237.07 227.44,237.23 227.87,237.29 228.3,237.11 228.74,237.06 229.17,237.01 229.6,236.84 230.04,236.84 230.47,236.94 230.91,236.78 231.34,237.13 231.77,236.87 232.21,237.37 232.64,236.93 233.07,237.23 233.51,236.88 233.94,236.86 234.37,237.01 234.81,237.07 235.24,237.38 235.68,236.82 236.11,236.72 236.54,236.76 236.98,237.3 237.41,236.75 237.84,237.36 238.28,236.83 238.71,237.34 239.14,236.95 239.58,237.34 240.01,237.03 240.44,236.97 240.88,236.72 241.31,236.99 241.75,237.03 242.18,237.36 242.61,237.07 243.05,237.3 243.48,237.03 243.91,237.15 244.35,237.14 244.78,236.8 245.21,237.13 245.65,237.21 246.08,237.01 246.52,236.84 246.95,236.83 247.38,237.01 247.82,237.39 248.25,237.04 248.68,236.89 249.12,237.06 249.55,237.24 249.98,237.32 250.42,236.81 250.85,237.05 251.28,236.76 251.72,236.94 252.15,237.04 252.59,236.85 253.02,236.81 253.45,237.27 253.89,236.84 254.32,237.13 254.75,236.44 255.19,235.84 255.62,234.63 256.05,233.07 256.49,229.96 256.92,227.47 257.36,226.12 257.79,226 258.22,227.94 258.66,230.11 259.09,232.54 259.52,235 259.96,236.02 260.39,236.72 260.82,236.74 261.26,237.36 261.69,237.27 262.12,236.91 262.56,236.99 262.99,236.82 263.43,237.42 263.86,236.83 264.29,237.02 264.73,236.89 265.16,237.08" fill="none" stroke="#0000FF" stroke-width="1.3" stroke-linejoin="round" />
<polyline points="59.2,235.48 59.63,235.23 60.07,235.46 60.5,235.52 60.93,235.22 61.37,235.74 61.8,235.32 62.24,235.45 62.67,235.72 63.1,235.27 63.54,235.06 63.97,235.23 64.4,235.13 64.84,235.12 65.27,235.69 65.7,235.51 66.14,235.18 66.57,235.33 67,235.32 67.44,235.14 67.87,235.24 68.31,235.07 68.74,235.71 69.17,235.38 69.61,235.43 70.04,235.64 70.47,235.45 70.91,235.39 71.34,235.56 71.77,235.43 72.21,235.29 72.64,235.59 73.08,235.12 73.51,235.46 73.94,235.17 74.38,235.41 74.81,235.18 75.24,235.42 75.68,235.29 76.11,235.53 76.54,235.27 76.98,235.12 77.41,235.46 77.84,235.32 78.28,235.55 78.71,235.48 79.15,235.04 79.58,235.44 80.01,235.04 80.45,235.66 80.88,235.42 81.31,235.42 81.75,235.26 82.18,235.04 82.61,235.21 83.05,235.2 83.48,235.11 83.92,235.66 84.35,235.15 84.78,235.32 85.22,235.13 85.65,235.54 86.08,235.02 86.52,235.62 86.95,235.04 87.38,235.1 87.82,235.22 88.25,235.12 88.68,234.95 89.12,235.43 89.55,234.9 89.99,235.05 90.42,234.85 90.85,234.86 91.29,235.08 91.72,235.19 92.15,234.79 92.59,235.08 93.02,235 93.45,235.42 93.89,235.41 94.32,235.12 94.76,235.19 95.19,234.7 95.62,235.03 96.06,235.26 96.49,235.22 96.92,235.09 97.36,235.11 97.79,235.21 98.22,234.95 98.66,234.64 99.09,234.97 99.52,234.64 99.96,235.07 100.39,234.57 100.83,235.01 101.26,234.84 101.69,234.81 102.13,234.48 102.56,234.64 102.99,234.65 103.43,234.95 103.86,234.73 104.29,234.74 104.73,234.89 105.16,234.47 105.6,234.59 106.03,234.51 106.46,234.4 106.9,234.3 107.33,234.3 107.76,234.09 108.2,234.67 108.63,234.17 109.06,234.56 109.5,234.2 109.93,234.16 110.36,233.94 110.8,234.24 111.23,234.02 111.67,234.12 112.1,234.38 112.53,234.49 112.97,233.86 113.4,234.3 113.83,234.42 114.27,234.38 114.7,234.34 115.13,234.3 115.57,234.1 116,233.78 116.44,233.88 116.87,234.29 117.3,234 117.74,234.06 118.17,234.21 118.6,234.01 119.04,233.91 119.47,233.93 119.9,234.38 120.34,234.05 120.77,234.26 121.2,234.22 121.64,234 122.07,234.04 122.51,234.12 122.94,234.14 123.37,234.21 123.81,233.95 124.24,234.13 124.67,234.35 125.11,234.04 125.54,234.17 125.97,234.42 126.41,234.36 126.84,234.32 127.28,234 127.71,234.43 128.14,234.49 128.58,234.07 129.01,234.1 129.44,234.53 129.88,234.01 130.31,233.76 130.74,232.32 131.18,231.44 131.61,229.29 132.04,226.99 132.48,225.73 132.91,225.03 133.35,225.46 133.78,227.63 134.21,229.05 134.65,231.23 135.08,233.11 135.51,234.11 135.95,234.15 136.38,234.96 136.81,234.47 137.25,234.71 137.68,235.05 138.12,234.62 138.55,234.79 138.98,234.85 139.42,234.95 139.85,234.88 140.28,234.81 140.72,234.98 141.15,234.99 141.58,235.15 142.02,234.8 142.45,234.76 142.88,235.3 143.32,235.22 143.75,235.29 144.19,235.26 144.62,234.87 145.05,234.94 145.49,235.5 145.92,235.24 146.35,235.14 146.79,235.43 147.22,235.08 147.65,235.61 148.09,235.43 148.52,235.12 148.96,235.5 149.39,235.34 149.82,235.19 150.26,235.1 150.69,235.13 151.12,235.39 151.56,235.34 151.99,235.68 152.42,235.29 152.86,235.46 153.29,235.67 153.72,235.61 154.16,235.54 154.59,235.71 155.03,235.55 155.46,235.68 155.89,235.58 156.33,235.26 156.76,235.55 157.19,235.65 157.63,235.61 158.06,235.43 158.49,235.16 158.93,235.55 159.36,235.72 159.8,235.77 160.23,235.58 160.66,235.5 161.1,235.31 161.53,235.3 161.96,235.74 162.4,235.19 162.83,235.48 163.26,235.37 163.7,235.46 164.13,235.87 164.56,235.23 165,235.7 165.43,235.69 165.87,235.22 166.3,235.33 166.73,235.39 167.17,235.31 167.6,235.46 168.03,235.76 168.47,235.88 168.9,235.59 169.33,235.51 169.77,235.61 170.2,235.41 170.64,235.59 171.07,235.41 171.5,235.53 171.94,235.45 172.37,235.4 172.8,235.1 173.24,234.52 173.67,233.38 174.1,232.04 174.54,230.78 174.97,230.06 175.4,229.73 175.84,230.96 176.27,232.25 176.71,233.25 177.14,234.73 177.57,235.18 178.01,235.61 178.44,235.45 178.87,235.87 179.31,235.39 179.74,235.59 180.17,235.59 180.61,235.43 181.04,235.55 181.48,235.88 181.91,235.23 182.34,235.74 182.78,235.33 183.21,235.6 183.64,235.71 184.08,235.58 184.51,235.8 184.94,235.78 185.38,235.24 185.81,235.39 186.24,235.74 186.68,235.72 187.11,235.58 187.55,235.26 187.98,235.35 188.41,235.45 188.85,235.59 189.28,235.74 189.71,235.41 190.15,235.68 190.58,235.68 191.01,235.49 191.45,235.83 191.88,235.39 192.32,235.78 192.75,235.4 193.18,235.77 193.62,235.55 194.05,235.47 194.48,235.82 194.92,235.5 195.35,235.79 195.78,235.59 196.22,235.28 196.65,235.45 197.08,235.4 197.52,235.33 197.95,235.25 198.39,235.65 198.82,235.59 199.25,235.73 199.69,235.5 200.12,235.27 200.55,235.85 200.99,235.77 201.42,235.83 201.85,235.55 202.29,235.43 202.72,235.9 203.16,235.31 203.59,235.63 204.02,235.33 204.46,235.46 204.89,235.89 205.32,235.8 205.76,235.29 206.19,234.18 206.62,232.28 207.06,227.77 207.49,219.65 207.92,208.75 208.36,199.73 208.79,196.19 209.23,199.59 209.66,208.97 210.09,219.45 210.53,227.33 210.96,232.46 211.39,234.8 211.83,235.14 212.26,235.55 212.69,235.75 213.13,235.38 213.56,235.63 214,235.66 214.43,235.85 214.86,235.67 215.3,235.88 215.73,235.77 216.16,235.36 216.6,235.8 217.03,235.61 217.46,235.66 217.9,235.61 218.33,235.68 218.76,235.56 219.2,235.57 219.63,235.88 220.07,235.41 220.5,235.53 220.93,235.53 221.37,235.28 221.8,235.34 222.23,235.6 222.67,235.97 223.1,235.67 223.53,235.45 223.97,235.31 224.4,235.48 224.84,235.94 225.27,235.49 225.7,235.87 226.14,235.7 226.57,235.35 227,235.92 227.44,235.59 227.87,235.31 228.3,235.9 228.74,235.72 229.17,235.35 229.6,235.57 230.04,235.58 230.47,235.44 230.91,235.72 231.34,235.89 231.77,235.75 232.21,235.42 232.64,235.97 233.07,235.72 233.51,235.4 233.94,235.88 234.37,235.95 234.81,235.87 235.24,235.98 235.68,235.67 236.11,235.33 236.54,235.93 236.98,235.77 237.41,235.99 237.84,235.99 238.28,235.76 238.71,235.37 239.14,235.92 239.58,235.36 240.01,235.59 240.44,235.6 240.88,235.42 241.31,235.53 241.75,235.81 242.18,235.41 242.61,235.78 243.05,235.44 243.48,235.4 243.91,235.95 244.35,235.48 244.78,235.31 245.21,235.74 245.65,235.67 246.08,235.7 246.52,235.98 246.95,235.51 247.38,235.7 247.82,235.88 248.25,235.46 248.68,235.74 249.12,235.53 249.55,235.98 249.98,235.34 250.42,235.45 250.85,235.83 251.28,235.38 251.72,235.78 252.15,235.56 252.59,235.77 253.02,235.77 253.45,235.81 253.89,235.97 254.32,235.44 254.75,235.36 255.19,235.54 255.62,235.35 256.05,235.58 256.49,236.01 256.92,235.48 257.36,235.59 257.79,235.35 258.22,235.83 258.66,235.62 259.09,235.67 259.52,232.67 259.96,188.94 260.39,156.72 260.82,219.33 261.26,235.58 261.69,235.8 262.12,224.16 262.56,163.21 262.99,179.59 263.43,230.19 263.86,235.55 264.29,235.55 264.73,235.47 265.16,235.55" fill="none" stroke="#008000" stroke-width="1.3" stroke-linejoin="round" />
</g>
<line x1="61.1" y1="168.6" x2="72.4" y2="168.6" stroke="#000" stroke-width="1.2" />
<text x="75.4" y="172.1" font-size="10" text-anchor="start" font-weight="normal" font-style="normal" fill="#1a1a1a" >25% doped - 5 K</text>
<line x1="61.1" y1="180.6" x2="72.4" y2="180.6" stroke="#FF0000" stroke-width="1.2" />
<text x="75.4" y="184.1" font-size="10" text-anchor="start" font-weight="normal" font-style="normal" fill="#1a1a1a" >25% doped - 15 K</text>
<line x1="61.1" y1="192.6" x2="72.4" y2="192.6" stroke="#0000FF" stroke-width="1.2" />
<text x="75.4" y="196.1" font-size="10" text-anchor="start" font-weight="normal" font-style="normal" fill="#1a1a1a" >50% doped - 5 K</text>
<line x1="61.1" y1="204.6" x2="72.4" y2="204.6" stroke="#008000" stroke-width="1.2" />
<text x="75.4" y="208.1" font-size="10" text-anchor="start" font-weight="normal" font-style="normal" fill="#1a1a1a" >50% doped - 15 K</text>
<line x1="391.3" y1="168.7" x2="391.3" y2="262.7" stroke="#2a2a2a" stroke-width="0.9" />
<line x1="391.3" y1="262.7" x2="597.8" y2="262.7" stroke="#2a2a2a" stroke-width="0.9" />
<line x1="388.3" y1="177.1" x2="391.3" y2="177.1" stroke="#2a2a2a" stroke-width="0.8" />
<text x="388" y="181" font-size="11.3" text-anchor="end" font-weight="normal" font-style="normal" fill="#1a1a1a" >600</text>
<line x1="389.3" y1="186.65" x2="391.3" y2="186.65" stroke="#2a2a2a" stroke-width="0.8" />
<line x1="388.3" y1="196.2" x2="391.3" y2="196.2" stroke="#2a2a2a" stroke-width="0.8" />
<text x="388" y="200.1" font-size="11.3" text-anchor="end" font-weight="normal" font-style="normal" fill="#1a1a1a" >200</text>
<line x1="389.3" y1="205.75" x2="391.3" y2="205.75" stroke="#2a2a2a" stroke-width="0.8" />
<line x1="388.3" y1="215.3" x2="391.3" y2="215.3" stroke="#2a2a2a" stroke-width="0.8" />
<text x="388" y="219.2" font-size="11.3" text-anchor="end" font-weight="normal" font-style="normal" fill="#1a1a1a" >800</text>
<line x1="389.3" y1="224.85" x2="391.3" y2="224.85" stroke="#2a2a2a" stroke-width="0.8" />
<line x1="388.3" y1="234.4" x2="391.3" y2="234.4" stroke="#2a2a2a" stroke-width="0.8" />
<text x="388" y="238.3" font-size="11.3" text-anchor="end" font-weight="normal" font-style="normal" fill="#1a1a1a" >400</text>
<line x1="389.3" y1="243.95" x2="391.3" y2="243.95" stroke="#2a2a2a" stroke-width="0.8" />
<line x1="388.3" y1="253.5" x2="391.3" y2="253.5" stroke="#2a2a2a" stroke-width="0.8" />
<text x="388" y="257.4" font-size="11.3" text-anchor="end" font-weight="normal" font-style="normal" fill="#1a1a1a" >0</text>
<line x1="389.3" y1="263.05" x2="391.3" y2="263.05" stroke="#2a2a2a" stroke-width="0.8" />
<line x1="391.3" y1="262.7" x2="391.3" y2="265.7" stroke="#2a2a2a" stroke-width="0.8" />
<text x="391.3" y="276.3" font-size="11.3" text-anchor="middle" font-weight="normal" font-style="normal" fill="#1a1a1a" >0</text>
<line x1="410.1" y1="262.7" x2="410.1" y2="264.7" stroke="#2a2a2a" stroke-width="0.8" />
<line x1="428.9" y1="262.7" x2="428.9" y2="265.7" stroke="#2a2a2a" stroke-width="0.8" />
<text x="428.9" y="276.3" font-size="11.3" text-anchor="middle" font-weight="normal" font-style="normal" fill="#1a1a1a" >5</text>
<line x1="447.7" y1="262.7" x2="447.7" y2="264.7" stroke="#2a2a2a" stroke-width="0.8" />
<line x1="466.5" y1="262.7" x2="466.5" y2="265.7" stroke="#2a2a2a" stroke-width="0.8" />
<text x="466.5" y="276.3" font-size="11.3" text-anchor="middle" font-weight="normal" font-style="normal" fill="#1a1a1a" >10</text>
<line x1="485.3" y1="262.7" x2="485.3" y2="264.7" stroke="#2a2a2a" stroke-width="0.8" />
<line x1="504.1" y1="262.7" x2="504.1" y2="265.7" stroke="#2a2a2a" stroke-width="0.8" />
<text x="504.1" y="276.3" font-size="11.3" text-anchor="middle" font-weight="normal" font-style="normal" fill="#1a1a1a" >15</text>
<line x1="522.9" y1="262.7" x2="522.9" y2="264.7" stroke="#2a2a2a" stroke-width="0.8" />
<line x1="541.7" y1="262.7" x2="541.7" y2="265.7" stroke="#2a2a2a" stroke-width="0.8" />
<text x="541.7" y="276.3" font-size="11.3" text-anchor="middle" font-weight="normal" font-style="normal" fill="#1a1a1a" >20</text>
<line x1="560.5" y1="262.7" x2="560.5" y2="264.7" stroke="#2a2a2a" stroke-width="0.8" />
<line x1="579.3" y1="262.7" x2="579.3" y2="265.7" stroke="#2a2a2a" stroke-width="0.8" />
<text x="579.3" y="276.3" font-size="11.3" text-anchor="middle" font-weight="normal" font-style="normal" fill="#1a1a1a" >25</text>
<text x="351.6" y="214.6" font-size="14.9" text-anchor="middle" font-weight="normal" font-style="normal" fill="#1a1a1a" transform="rotate(-90 351.6 214.6)" dy="5">Integ. Inten. (A.U.)</text>
<text x="494" y="298.5" font-size="14.9" text-anchor="middle" font-weight="normal" font-style="normal" fill="#1a1a1a" >2θ (°)</text>
<polyline points="416.2,253.83 417.48,253.48 419.32,253.08 421.36,252.12 423.2,251.75 424.8,251.5 426.35,250.98 427.82,250.35 429.2,249.85 430.46,248.85 431.63,247.78 432.72,246.86 433.8,245.82 434.81,244.82 435.76,243.81 436.72,243.49 437.8,243.27 439,242.76 440.29,242.82 441.65,242.92 443.1,242.98 444.69,243.44 446.4,243.17 448.11,243.6 449.7,243.96 451.17,243.27 452.57,243.42 453.87,242.8 455,242.37 455.79,242.34 456.33,242.07 456.95,241.28 458,241.04 459.65,240.67 461.69,240.59 463.88,240.42 466,239.91 468,239.55 470,238.54 472,237.87 474,237.47 476,236.74 478,236.14 480,235.67 482,235.14 484,234.51 486,234.32 488,234.15 490,234.45 492,234.44 494,234.28 496,233.96 498,234.06 500.04,233.82 502.11,233.37 504.12,233.26 506,233.66 507.71,233.61 509.29,233.86 510.81,233.95 512.3,234.17 513.75,234.47 515.15,235.05 516.55,235.45 518,235.93 519.42,236.28 520.81,236.83 522.37,236.86 524.3,237.84 526.8,238.1 529.71,239.06 532.69,239.69 535.4,239.91 537.71,239.82 539.81,239.32 541.85,239.03 544,238.28 546.31,238.16 548.71,237.69 551.09,237.45 553.4,236.64 555.6,236.23 557.75,236.02 559.85,235.64 561.9,235.3 564.08,235.05 566.33,234.75 568.31,234.05 569.7,234.2" fill="none" stroke="#000" stroke-width="1.35" stroke-linejoin="round" />
<polyline points="416.2,254.1 417.48,253.67 419.32,252.56 421.36,251.58 423.2,250.75 424.8,250.46 426.35,250.22 427.82,250.2 429.2,249.48 430.46,248.9 431.63,247.18 432.72,246.13 433.8,244.88 434.81,244.15 435.76,243.56 436.72,243.29 437.8,243.17 439,242.77 440.29,242.61 441.65,242.36 443.1,242.29 444.69,242.45 446.4,241.84 448.11,242.01 449.7,241.88 451.17,241.4 452.57,240.89 453.87,240.46 455,240.51 455.79,240.53 456.33,240.47 456.95,240.73 458,240.89 459.65,239.9 461.69,239.6 463.88,238.51 466,237.32 468,236.8 470,235.4 472,234.55 474,233.48 476,232.39 478,231.66 480,230.76 482,230.43 484,230.06 486,229.15 488,228.9 490,228.66 492,228.28 494,227.7 496,227.36 498,227.09 500.04,226.12 502.11,225.68 504.12,225.47 506,225.29 507.71,225.22 509.29,225.03 510.81,225.31 512.3,225.49 513.75,225.66 515.15,225.66 516.55,226.35 518,226.35 519.52,226.64 521.08,226.78 522.68,226.34 524.3,226.8 525.92,226.33 527.56,225.72 529.26,225.16 531.1,224.42 533.13,224.07 535.29,223.5 537.51,223.02 539.7,222.65 541.83,222.22 543.95,222.06 546.07,221.42 548.2,220.79 550.34,220.63 552.49,220.02 554.65,219.58 556.8,218.9 559.05,218.01 561.37,217.62 563.55,217.69 565.4,217.2 566.88,216.84 568.09,216.98 569.03,216.41 569.7,216.79" fill="none" stroke="#FF0000" stroke-width="1.35" stroke-linejoin="round" />
<polyline points="416.2,254.33 417.4,253.51 419.12,253.01 421.12,251.8 423.2,249.9 425.39,248.63 427.79,246.85 430.21,244.84 432.5,242.94 434.65,241.65 436.75,240.32 438.72,239.04 440.5,238.44 441.95,237.68 443.16,237.76 444.36,237.91 445.8,237.82 447.68,236.33 449.81,235.04 451.92,233.63 453.7,232.59 454.94,231.3 455.84,230.71 456.75,229.31 458,228.42 459.74,226.97 461.77,225.51 463.91,224.42 466,222.7 468,221.55 470,220.44 472,219.03 474,218.39 476,216.85 478,215.67 480,213.76 482,212.57 484,211.13 486,209.49 488,207.66 490,206.29 492,204.69 494,202.86 496,201.28 498,199.51 500.08,198.5 502.21,197.4 504.23,196.18 506,195.83 507.44,195.18 508.64,195.57 509.7,195.5 510.7,195.41 511.5,195.62 512.11,195.92 512.84,195.81 514,196.21 515.78,196.82 517.98,197.47 520.33,198.62 522.6,199.27 524.73,199.87 526.85,199.88 528.97,199.86 531.1,200.19 533.25,199.67 535.4,198.52 537.55,197.74 539.7,197.18 541.83,195.93 543.95,194.87 546.07,193.94 548.2,193.03 550.38,191.81 552.6,190.32 554.77,189.46 556.8,188.79 558.67,187.67 560.41,186.81 562.08,186.04 563.7,185.24 565.4,183.87 567.13,183.35 568.64,182.04 569.7,181.58" fill="none" stroke="#008000" stroke-width="1.35" stroke-linejoin="round" />
<polyline points="416.2,253.84 417.4,253.1 419.12,252.32 421.12,251.44 423.2,250.33 425.39,248.6 427.79,246.82 430.21,245.24 432.5,243.47 434.65,242.03 436.75,240.61 438.72,239.23 440.5,238.77 441.95,238.07 443.16,238.14 444.36,238.67 445.8,238.07 447.68,237.28 449.81,235.77 451.92,234.14 453.7,232.93 454.94,231.87 455.84,231 456.75,230.04 458,228.71 459.74,227.49 461.77,226.31 463.91,224.69 466,223.15 468,222.24 470,220.78 472,220.05 474,218.89 476,217.32 478,215.86 480,214.71 482,213.08 484,211.19 486,209.88 488,208.43 490,206.75 492,205.11 494,203.09 496,201.85 498,200.36 500.08,198.92 502.21,198.13 504.23,197.05 506,196.33 507.44,196.28 508.64,196.4 509.7,196.51 510.7,196.68 511.5,196.88 512.11,196.9 512.84,197.25 514,197.36 515.78,198 517.98,198.97 520.33,199.95 522.6,200.73 524.73,201.4 526.85,201.71 528.97,202.3 531.1,202.25 533.25,201.51 535.4,200.46 537.55,199.72 539.7,198.48 541.83,197.46 543.95,196.35 546.07,194.89 548.2,193.88 550.38,192.86 552.6,191.53 554.77,189.81 556.8,188.86 558.67,187.93 560.41,187.07 562.08,185.8 563.7,185.36 565.4,184.34 567.13,183.65 568.64,182.29 569.7,182.14" fill="none" stroke="#00FFFF" stroke-width="1.35" stroke-linejoin="round" />
<polyline points="416.2,254.27 417.4,253.49 419.12,252.15 421.12,251.04 423.2,249.98 425.39,248.07 427.79,246.05 430.21,244.05 432.5,242.39 434.65,240.69 436.75,239.55 438.72,238.76 440.5,237.92 441.95,237.18 443.16,237.55 444.36,237.73 445.8,236.92 447.68,235.97 449.81,234.68 451.92,233 453.7,231.9 454.94,230.95 455.84,229.85 456.75,229.26 458,228.3 459.74,226.51 461.77,225.31 463.91,223.47 466,222.42 468,220.81 470,219.87 472,218.96 474,217.69 476,216.22 478,214.7 480,213.66 482,212.04 484,210.28 486,209.06 488,207.36 490,205.7 492,203.9 494,202.39 496,200.41 498,199.04 500.08,198.04 502.21,196.76 504.23,195.74 506,194.91 507.44,194.73 508.64,195.08 509.7,194.8 510.7,195.27 511.5,195.16 512.11,195.19 512.84,195.3 514,195.96 515.78,196.63 517.98,197.23 520.33,198.32 522.6,198.81 524.73,199.43 526.85,199.81 528.97,199.54 531.1,199.55 533.25,198.91 535.4,198.44 537.55,197.27 539.7,196.71 541.83,195.8 543.95,194.28 546.07,193.49 548.2,192.03 550.38,190.93 552.6,189.85 554.77,189 556.8,188.21 558.67,186.84 560.41,186.49 562.08,185.4 563.7,184.42 565.4,183.75 567.13,182.82 568.64,181.71 569.7,181.08" fill="none" stroke="#FF00FF" stroke-width="1.35" stroke-linejoin="round" />
<polyline points="416.2,254.21 417.43,253.4 419.2,251.74 421.22,250.6 423.2,249.27 425.19,247.48 427.31,245.02 429.37,243.58 431.2,241.8 432.71,240.84 434.02,239.73 435.24,239.43 436.5,238.56 437.86,237.36 439.23,236.64 440.57,235.51 441.8,235.23 442.8,234.78 443.64,234.45 444.56,234.4 445.8,234.04 447.59,232.58 449.73,231.32 451.89,229.75 453.7,228.7 454.94,227.18 455.84,226.6 456.75,225.33 458,224.3 459.74,222.41 461.77,220.88 463.91,219.15 466,217.75 468,215.59 470,213.76 472,212.37 474,210.58 476,208.99 478,207.28 480,205.49 482,203.85 484,202.46 486,200.31 488,198.51 490,196.99 492,194.97 494,192.44 496,190.36 498,189.08 500.08,187.26 502.21,186.4 504.23,185.69 506,184.55 507.44,184.28 508.64,184.49 509.7,184.42 510.7,185.09 511.5,185 512.11,185.54 512.84,185.82 514,186.16 515.74,186.98 517.87,188.18 520.21,189.29 522.6,190.76 525.11,191.77 527.81,193.41 530.44,194.82 532.8,195.85 534.72,195.74 536.36,194.99 537.94,193.8 539.7,193.17 541.75,192.36 543.95,191.69 546.15,190.54 548.2,189.59 550.04,188.87 551.76,187.26 553.42,186.69 555.1,185.56 556.88,184.65 558.71,183.61 560.43,182.7 561.9,181.89 562.99,181.16 563.81,179.96 564.55,179.57 565.4,178.83 566.52,178 567.77,177.87 568.91,177.62 569.7,177.43" fill="none" stroke="#808000" stroke-width="1.35" stroke-linejoin="round" />
<line x1="391.8" y1="175.1" x2="406.8" y2="175.1" stroke="#000" stroke-width="1.3" />
<text x="408.5" y="178.7" font-size="10" text-anchor="start" font-weight="normal" font-style="normal" fill="#1a1a1a" >6 K</text>
<line x1="391.8" y1="187.52" x2="406.8" y2="187.52" stroke="#FF0000" stroke-width="1.3" />
<text x="408.5" y="191.12" font-size="10" text-anchor="start" font-weight="normal" font-style="normal" fill="#1a1a1a" >7 K</text>
<line x1="391.8" y1="199.94" x2="406.8" y2="199.94" stroke="#008000" stroke-width="1.3" />
<text x="409.8" y="203.54" font-size="10" text-anchor="start" font-weight="normal" font-style="normal" fill="#1a1a1a" >10 K</text>
<line x1="391.8" y1="212.36" x2="406.8" y2="212.36" stroke="#00FFFF" stroke-width="1.3" />
<text x="409.8" y="215.96" font-size="10" text-anchor="start" font-weight="normal" font-style="normal" fill="#1a1a1a" >10.5 K</text>
<line x1="391.8" y1="224.78" x2="406.8" y2="224.78" stroke="#FF00FF" stroke-width="1.3" />
<text x="409.8" y="228.38" font-size="10" text-anchor="start" font-weight="normal" font-style="normal" fill="#1a1a1a" >11 K</text>
<line x1="391.8" y1="237.2" x2="406.8" y2="237.2" stroke="#808000" stroke-width="1.3" />
<text x="409.8" y="240.8" font-size="10" text-anchor="start" font-weight="normal" font-style="normal" fill="#1a1a1a" >15 K</text>
<clipPath id="ce"><rect x="59.4" y="306.4" width="206.2" height="94.7"/></clipPath>
<g clip-path="url(#ce)">
<rect x="59.4" y="306.4" width="206.2" height="94.7" fill="#00FFFF"/>
<polygon points="58.42,305.63 87.48,305.63 92.32,306.84 102,307.81 110,308.3 110,312.65 104.43,312.41 95.95,312.41 83.36,312.77 74.28,313.26 67.02,313.74 58.42,314.71" fill="#0080FF"/>
<polygon points="58.42,322.94 63.26,321.13 69.68,319.55 78.76,319.07 87.96,318.83 95.95,318.59 104.43,317.74 110,317.62 110,340.5 98.37,340.74 87.96,340.5 83.36,338.92 74.28,338.92 69.68,337.96 67.02,335.17 63.26,332.51 58.42,330.21" fill="#0080FF"/>
<polygon points="108,308.66 116.84,309.14 124.1,310.6 130.52,312.41 134.03,313.74 134.63,315.32 130.52,316.04 121.44,315.56 112.36,315.08 108,315.2" fill="#0080FF"/>
<polygon points="108,317.62 110.42,317.86 111.75,321.49 113.21,325.24 117.69,328.76 121.44,331.66 124.95,335.17 126.4,337.96 124.1,339.29 116.84,339.77 108,339.77" fill="#0080FF"/>
<polygon points="138.02,328.63 141.29,328.39 144.92,330.45 143.11,331.66 138.87,330.45" fill="#0080FF"/>
<polygon points="206.61,305.63 214,305.63 214,313.5 210.85,312.29 207.46,309.51" fill="#0080FF"/>
<polygon points="179.37,329.24 186.63,328.03 196.32,329.24 206,328.03 214,326.21 214,343.16 206,343.16 196.32,340.74 190.27,338.32 184.21,334.69 180.58,331.66" fill="#0080FF"/>
<polygon points="212,305.63 268.83,305.63 268.83,335.86 257.95,337.07 248.28,338.88 236.18,340.45 224.09,341.9 212,342.51" fill="#0080FF"/>
<polygon points="58.42,371.19 66.05,369.98 72.59,367.55 85.78,365.86 105.76,365.25 110,365.38 110,403.27 58.42,403.27" fill="#0080FF"/>
<polygon points="108,364.53 117.69,365.13 126.16,366.95 131,368.77 137.06,373 143.71,377.85 140.69,378.57 134.63,376.03 127.37,376.03 120.11,375.42 115.26,374.21 108,373.24" fill="#0080FF"/>
<polygon points="108,374.82 114.05,375.42 118.9,377.24 115.26,380.27 111.63,382.69 108,383.29" fill="#0080FF"/>
<polygon points="108,395.4 112.84,395.76 115.26,398.18 111.63,399.03 108,399.03" fill="#0080FF"/>
<polygon points="207.82,374.82 210.85,375.42 214,377.85 214,380.87 210.85,379.66" fill="#0080FF"/>
<polygon points="193.9,391.77 196.92,391.4 197.77,392.62 194.5,392.98" fill="#0080FF"/>
<polygon points="206,392.37 210.85,392.98 214,393.58 214,397.82 209.64,396.61 206.61,394.19" fill="#0080FF"/>
<polygon points="212,376 221.67,376.84 225.3,372.97 226.51,369.11 233.77,367.65 242.23,368.14 250.69,369.95 257.95,372.73 268.83,374.79 268.83,385.67 251.9,386.88 236.18,386.52 219.26,386.52 216.23,384.46 212,384.1" fill="#0080FF"/>
<polygon points="251.9,386.88 260.37,386.28 268.83,386.88 268.83,389.9 260.37,388.94" fill="#0080FF"/>
<polygon points="212,393.53 224.09,394.14 236.18,394.98 243.44,393.53 248.28,395.34 257.95,395.95 268.83,394.98 268.83,403.2 212,403.2" fill="#0080FF"/>
<polygon points="58.42,305.63 65.08,305.63 64.47,308.05 62.05,308.78 58.42,308.78" fill="#00FFFF"/>
<polygon points="87.48,335.29 92.32,333.72 102,332.87 110,332.27 110,338.92 98.37,338.92 89.9,337.71" fill="#00FFFF"/>
<polygon points="108,332.02 112.84,332.51 116.84,334.32 119.62,336.99 116.84,338.44 108,338.92" fill="#00FFFF"/>
<polygon points="208.43,331.66 214,331.06 214,333.72 209.64,333.23" fill="#00FFFF"/>
<polygon points="212,312.88 219.26,313.49 221.67,315.3 227.72,314.09 238.6,313.49 242.23,316.51 241.02,318.32 233.77,318.32 224.09,318.93 218.05,320.14 216.84,321.95 212,323.77" fill="#00FFFF"/>
<polygon points="257.95,320.14 262.79,317.11 268.83,316.27 268.83,322.56 261.58,321.95" fill="#00FFFF"/>
<polygon points="212,333.44 218.05,332.83 224.09,332.23 230.14,333.44 232.56,335.25 226.51,336.46 219.26,336.46 212,336.46" fill="#00FFFF"/>
<polygon points="86.27,371.19 92.32,370.34 104.43,370.58 110,371.55 110,376.39 98.37,376.39 91.11,374.82" fill="#00FFFF"/>
<polygon points="58.42,385.11 64.47,385.71 68.11,388.14 65.69,389.95 58.42,390.56" fill="#00FFFF"/>
<polygon points="80.21,386.32 92.32,386.08 110,385.71 110,397.82 98.37,397.82 86.27,396.61 83.85,393.58 86.27,391.16 81.42,388.74" fill="#00FFFF"/>
<polygon points="67.86,305.63 76.82,305.63 74.16,308.78 70.77,311.2 63.26,311.44 62.78,310.47 67.5,309.51" fill="#0000FF"/>
<polygon points="62.66,326.82 65.69,325.24 70.53,324.4 80.21,325.61 89.9,326.21 92.92,329.24 89.9,331.06 80.21,332.27 72.95,331.66 65.69,329.85" fill="#0000FF"/>
<polygon points="93.53,320.16 97.16,319.68 101.04,320.4 97.77,321.37 94.14,321.13" fill="#0000FF"/>
<polygon points="248.28,305.63 262.79,305.63 264,309.26 259.16,311.67 255.53,313.49 251.9,310.46" fill="#0000FF"/>
<polygon points="230.14,328 234.97,326.18 243.44,326.18 249.48,325.58 253.11,324.37 260.37,324.97 257.95,328 255.53,331.02 248.28,333.44 239.81,333.68 232.56,331.63" fill="#0000FF"/>
<polygon points="68.11,377.24 74.16,375.42 80.21,374.82 86.27,375.42 92.32,377.24 91.11,379.66 83.85,380.27 75.37,380.27 70.53,382.08 68.71,380.87" fill="#0000FF"/>
<polygon points="67.5,399.03 69.32,398.18 71.13,399.64 70.53,403.27 67.5,403.27" fill="#0000FF"/>
<polygon points="233.77,377.21 242.23,376 249.48,376.84 254.93,378.42 254.32,381.2 245.86,380.83 236.18,379.02" fill="#0000FF"/>
<polygon points="254.32,398.97 255.53,398.37 256.14,403.2 254.32,403.2" fill="#0000FF"/>
<polygon points="75.37,315.56 80.21,314.59 87.48,314.47 92.32,315.32 89.9,316.77 82.63,317.13 76.58,316.77" fill="#00FF80"/>
<polygon points="115.26,305.63 162,305.63 162,340.14 154,339.53 146.74,338.92 147.95,337.11 158.85,335.29 156.43,333.72 147.95,332.27 145.53,329.85 147.95,328.03 146.74,325 140.69,323.19 132.21,321.98 120.11,321.13 121.32,320.16 132.21,318.95 141.9,317.13 149.16,314.11 150.98,311.69 150.37,310.47 139.48,310.23 132.21,308.66 115.26,307.81" fill="#00FF80"/>
<polygon points="108,348 120.11,348.25 132.21,348.73 144.32,349.7 151.58,351.03 154,355.03 108,355.03" fill="#00FF80"/>
<polygon points="160,305.63 201.77,305.63 201.16,310.23 191.48,310.72 182.4,311.69 181.79,314.11 187.85,316.53 196.32,318.34 204.79,319.55 206,321.98 196.32,323.19 184.21,323.79 172.11,324.4 170.9,326.21 174.53,328.63 178.16,332.27 175.74,334.08 167.26,334.08 164.84,335.9 170.9,338.32 176.34,340.14 176.95,341.95 167.26,342.56 160,343.16" fill="#00FF80"/>
<polygon points="160,347.4 172.11,347.04 184.21,348 196.32,347.4 214,346.79 214,355.03 160,355.03" fill="#00FF80"/>
<polygon points="220.46,315.06 230.14,314.7 238,315.3 236.18,316.75 227.72,317.11 221.07,316.51" fill="#00FF80"/>
<polygon points="212,346.74 224.09,346.14 236.18,344.32 248.28,343.11 260.37,341.9 268.83,341.3 268.83,354.96 212,354.96" fill="#00FF80"/>
<polygon points="86.27,389.95 98.37,389.35 110,388.98 110,392.98 98.37,392.98 87.48,392.37" fill="#00FF80"/>
<polygon points="108,348.79 132.21,348.79 132.21,351.45 149.16,351.82 149.16,348.79 162,348.79 162,356.05 156.43,356.66 144.32,357.87 132.21,358.47 120.11,359.08 108,359.69" fill="#00FF80"/>
<polygon points="146.74,366.95 154,365.74 162,365.13 162,403.27 126.04,403.27 126.04,397.94 124.83,393.58 121.08,391.65 117.32,390.8 113.57,392.25 108,392.49 108,389.47 113.57,389.35 116.35,388.01 116.35,386.08 123.01,383.29 135.97,382.32 146.74,382.69 149.16,381.48 150.37,379.06 147.95,376.03 149.16,373 151.58,369.37" fill="#00FF80"/>
<polygon points="160,348.79 172.11,348.79 172.11,351.82 190.27,351.82 190.27,348.79 214,348.79 214,360.29 203.58,359.08 196.32,356.66 184.21,355.81 174.53,357.26 170.9,360.29 160,361.14" fill="#00FF80"/>
<polygon points="160,365.13 172.11,366.71 183,367.92 183.61,370.82 172.11,372.03 169.08,372.76 174.53,374.82 181.79,376.63 186.63,379.66 191.48,381.72 199.95,382.69 207.22,383.9 208.43,386.32 202.37,387.77 190.27,388.98 186.63,390.56 186.03,392.37 190.27,396 196.32,398.18 206,399.03 214,399.03 214,403.27 160,403.27" fill="#00FF80"/>
<polygon points="212,348.79 268.83,348.79 268.83,365.72 248.28,361.49 236.18,360.88 224.09,360.28 212,359.67" fill="#00FF80"/>
<polygon points="225.3,390.87 231.35,390.27 238.6,391.11 237.39,392.93 227.72,393.05" fill="#00FF80"/>
<polygon points="220.46,372.01 226.51,371.77 227.11,373.22 221.07,373.58" fill="#00FF80"/>
<polygon points="123.74,391.77 129.79,390.92 134.63,391.77 133.42,393.58 127.37,393.83 123.74,392.98" fill="#00FFFF"/>
<polygon points="157.03,328.03 160.06,327.18 162,327.42 162,331.06 158.85,331.06" fill="#00FF00"/>
<polygon points="126.16,352.61 130.4,351.88 134.63,352.85 134.03,355.03 126.16,355.03" fill="#00FF00"/>
<polygon points="126.16,305.63 144.32,305.63 143.11,307.08 127.37,307.08" fill="#00FF00"/>
<polygon points="160,327.67 163.63,327.42 167.26,329.6 164.84,331.66 160,331.66" fill="#00FF00"/>
<polygon points="187.85,352.85 196.32,352.36 198.74,355.03 187.85,355.03" fill="#00FF00"/>
<polygon points="160,348.61 167.26,349.22 172.11,351.64 173.32,355.03 160,355.03" fill="#00FF00"/>
<polygon points="126.16,353.03 131,352.42 135.85,353.63 133.42,355.08 127.37,354.84" fill="#00FF00"/>
<polygon points="108,353.63 111.63,353.87 111.63,355.45 108,355.81" fill="#00FF00"/>
<polygon points="155.22,375.42 158.85,374.82 162,375.42 162,380.27 156.43,380.02" fill="#00FF00"/>
<polygon points="138.27,386.08 145.53,385.35 152.79,386.08 151.58,388.5 140.69,388.26" fill="#00FF00"/>
<polygon points="126.16,398.18 144.32,397.82 154,397.82 162,397.22 162,403.27 126.16,403.27" fill="#00FF00"/>
<polygon points="189.06,352.66 196.32,352.18 201.16,353.63 198.74,355.45 190.27,355.08" fill="#00FF00"/>
<polygon points="210.85,353.63 214,353.39 214,355.45 211.45,355.45" fill="#00FF00"/>
<polygon points="160,374.82 166.05,375.18 170.9,376.39 171.5,378.45 164.84,380.27 160,380.27" fill="#00FF00"/>
<polygon points="174.53,386.32 181.79,385.59 187.85,386.08 189.06,387.53 175.74,387.77" fill="#00FF00"/>
<polygon points="160,383.9 164.84,384.5 167.87,386.32 167.26,398.43 169.69,403.27 160,403.27" fill="#00FF00"/>
<path d="M87.48,305.63L92.32,306.84 M92.32,306.84L102,307.81 M102,307.81L110,308.3 M110,312.65L104.43,312.41 M95.95,312.41L83.36,312.77 M83.36,312.77L74.28,313.26 M74.28,313.26L67.02,313.74 M67.02,313.74L58.42,314.71 M58.42,322.94L63.26,321.13 M63.26,321.13L69.68,319.55 M69.68,319.55L78.76,319.07 M78.76,319.07L87.96,318.83 M87.96,318.83L95.95,318.59 M95.95,318.59L104.43,317.74 M104.43,317.74L110,317.62 M110,340.5L98.37,340.74 M98.37,340.74L87.96,340.5 M87.96,340.5L83.36,338.92 M74.28,338.92L69.68,337.96 M69.68,337.96L67.02,335.17 M67.02,335.17L63.26,332.51 M63.26,332.51L58.42,330.21 M108,308.66L116.84,309.14 M116.84,309.14L124.1,310.6 M124.1,310.6L130.52,312.41 M130.52,312.41L134.03,313.74 M134.03,313.74L134.63,315.32 M134.63,315.32L130.52,316.04 M130.52,316.04L121.44,315.56 M121.44,315.56L112.36,315.08 M112.36,315.08L108,315.2 M108,317.62L110.42,317.86 M110.42,317.86L111.75,321.49 M111.75,321.49L113.21,325.24 M113.21,325.24L117.69,328.76 M117.69,328.76L121.44,331.66 M121.44,331.66L124.95,335.17 M124.95,335.17L126.4,337.96 M126.4,337.96L124.1,339.29 M124.1,339.29L116.84,339.77 M138.02,328.63L141.29,328.39 M141.29,328.39L144.92,330.45 M144.92,330.45L143.11,331.66 M143.11,331.66L138.87,330.45 M138.87,330.45L138.02,328.63 M214,313.5L210.85,312.29 M210.85,312.29L207.46,309.51 M207.46,309.51L206.61,305.63 M179.37,329.24L186.63,328.03 M186.63,328.03L196.32,329.24 M196.32,329.24L206,328.03 M206,328.03L214,326.21 M206,343.16L196.32,340.74 M196.32,340.74L190.27,338.32 M190.27,338.32L184.21,334.69 M184.21,334.69L180.58,331.66 M180.58,331.66L179.37,329.24 M268.83,335.86L257.95,337.07 M257.95,337.07L248.28,338.88 M248.28,338.88L236.18,340.45 M236.18,340.45L224.09,341.9 M224.09,341.9L212,342.51 M58.42,371.19L66.05,369.98 M66.05,369.98L72.59,367.55 M72.59,367.55L85.78,365.86 M85.78,365.86L105.76,365.25 M105.76,365.25L110,365.38 M108,364.53L117.69,365.13 M117.69,365.13L126.16,366.95 M126.16,366.95L131,368.77 M131,368.77L137.06,373 M137.06,373L143.71,377.85 M143.71,377.85L140.69,378.57 M140.69,378.57L134.63,376.03 M127.37,376.03L120.11,375.42 M120.11,375.42L115.26,374.21 M115.26,374.21L108,373.24 M108,374.82L114.05,375.42 M114.05,375.42L118.9,377.24 M118.9,377.24L115.26,380.27 M115.26,380.27L111.63,382.69 M111.63,382.69L108,383.29 M108,395.4L112.84,395.76 M112.84,395.76L115.26,398.18 M115.26,398.18L111.63,399.03 M207.82,374.82L210.85,375.42 M210.85,375.42L214,377.85 M214,380.87L210.85,379.66 M210.85,379.66L207.82,374.82 M193.9,391.77L196.92,391.4 M196.92,391.4L197.77,392.62 M197.77,392.62L194.5,392.98 M194.5,392.98L193.9,391.77 M206,392.37L210.85,392.98 M210.85,392.98L214,393.58 M214,397.82L209.64,396.61 M209.64,396.61L206.61,394.19 M206.61,394.19L206,392.37 M212,376L221.67,376.84 M221.67,376.84L225.3,372.97 M225.3,372.97L226.51,369.11 M226.51,369.11L233.77,367.65 M233.77,367.65L242.23,368.14 M242.23,368.14L250.69,369.95 M250.69,369.95L257.95,372.73 M257.95,372.73L268.83,374.79 M268.83,385.67L251.9,386.88 M251.9,386.88L236.18,386.52 M219.26,386.52L216.23,384.46 M216.23,384.46L212,384.1 M251.9,386.88L260.37,386.28 M260.37,386.28L268.83,386.88 M268.83,389.9L260.37,388.94 M260.37,388.94L251.9,386.88 M212,393.53L224.09,394.14 M224.09,394.14L236.18,394.98 M236.18,394.98L243.44,393.53 M243.44,393.53L248.28,395.34 M248.28,395.34L257.95,395.95 M257.95,395.95L268.83,394.98 M65.08,305.63L64.47,308.05 M64.47,308.05L62.05,308.78 M87.48,335.29L92.32,333.72 M92.32,333.72L102,332.87 M102,332.87L110,332.27 M98.37,338.92L89.9,337.71 M89.9,337.71L87.48,335.29 M108,332.02L112.84,332.51 M112.84,332.51L116.84,334.32 M116.84,334.32L119.62,336.99 M119.62,336.99L116.84,338.44 M116.84,338.44L108,338.92 M208.43,331.66L214,331.06 M214,333.72L209.64,333.23 M209.64,333.23L208.43,331.66 M212,312.88L219.26,313.49 M219.26,313.49L221.67,315.3 M221.67,315.3L227.72,314.09 M227.72,314.09L238.6,313.49 M238.6,313.49L242.23,316.51 M242.23,316.51L241.02,318.32 M233.77,318.32L224.09,318.93 M224.09,318.93L218.05,320.14 M218.05,320.14L216.84,321.95 M216.84,321.95L212,323.77 M257.95,320.14L262.79,317.11 M262.79,317.11L268.83,316.27 M268.83,322.56L261.58,321.95 M261.58,321.95L257.95,320.14 M212,333.44L218.05,332.83 M218.05,332.83L224.09,332.23 M224.09,332.23L230.14,333.44 M230.14,333.44L232.56,335.25 M232.56,335.25L226.51,336.46 M86.27,371.19L92.32,370.34 M92.32,370.34L104.43,370.58 M104.43,370.58L110,371.55 M98.37,376.39L91.11,374.82 M91.11,374.82L86.27,371.19 M58.42,385.11L64.47,385.71 M64.47,385.71L68.11,388.14 M68.11,388.14L65.69,389.95 M65.69,389.95L58.42,390.56 M80.21,386.32L92.32,386.08 M92.32,386.08L110,385.71 M98.37,397.82L86.27,396.61 M86.27,396.61L83.85,393.58 M83.85,393.58L86.27,391.16 M86.27,391.16L81.42,388.74 M81.42,388.74L80.21,386.32 M76.82,305.63L74.16,308.78 M74.16,308.78L70.77,311.2 M70.77,311.2L63.26,311.44 M63.26,311.44L62.78,310.47 M62.78,310.47L67.5,309.51 M67.5,309.51L67.86,305.63 M62.66,326.82L65.69,325.24 M65.69,325.24L70.53,324.4 M70.53,324.4L80.21,325.61 M80.21,325.61L89.9,326.21 M89.9,326.21L92.92,329.24 M92.92,329.24L89.9,331.06 M89.9,331.06L80.21,332.27 M80.21,332.27L72.95,331.66 M72.95,331.66L65.69,329.85 M65.69,329.85L62.66,326.82 M93.53,320.16L97.16,319.68 M97.16,319.68L101.04,320.4 M101.04,320.4L97.77,321.37 M97.77,321.37L94.14,321.13 M94.14,321.13L93.53,320.16 M262.79,305.63L264,309.26 M264,309.26L259.16,311.67 M259.16,311.67L255.53,313.49 M255.53,313.49L251.9,310.46 M251.9,310.46L248.28,305.63 M230.14,328L234.97,326.18 M243.44,326.18L249.48,325.58 M249.48,325.58L253.11,324.37 M253.11,324.37L260.37,324.97 M260.37,324.97L257.95,328 M257.95,328L255.53,331.02 M255.53,331.02L248.28,333.44 M248.28,333.44L239.81,333.68 M239.81,333.68L232.56,331.63 M232.56,331.63L230.14,328 M68.11,377.24L74.16,375.42 M74.16,375.42L80.21,374.82 M80.21,374.82L86.27,375.42 M86.27,375.42L92.32,377.24 M92.32,377.24L91.11,379.66 M91.11,379.66L83.85,380.27 M75.37,380.27L70.53,382.08 M70.53,382.08L68.71,380.87 M68.71,380.87L68.11,377.24 M67.5,399.03L69.32,398.18 M69.32,398.18L71.13,399.64 M71.13,399.64L70.53,403.27 M233.77,377.21L242.23,376 M242.23,376L249.48,376.84 M249.48,376.84L254.93,378.42 M254.93,378.42L254.32,381.2 M254.32,381.2L245.86,380.83 M245.86,380.83L236.18,379.02 M236.18,379.02L233.77,377.21 M254.32,398.97L255.53,398.37 M255.53,398.37L256.14,403.2 M75.37,315.56L80.21,314.59 M80.21,314.59L87.48,314.47 M87.48,314.47L92.32,315.32 M92.32,315.32L89.9,316.77 M89.9,316.77L82.63,317.13 M82.63,317.13L76.58,316.77 M76.58,316.77L75.37,315.56 M162,340.14L154,339.53 M154,339.53L146.74,338.92 M146.74,338.92L147.95,337.11 M147.95,337.11L158.85,335.29 M158.85,335.29L156.43,333.72 M156.43,333.72L147.95,332.27 M147.95,332.27L145.53,329.85 M145.53,329.85L147.95,328.03 M147.95,328.03L146.74,325 M146.74,325L140.69,323.19 M140.69,323.19L132.21,321.98 M132.21,321.98L120.11,321.13 M120.11,321.13L121.32,320.16 M121.32,320.16L132.21,318.95 M132.21,318.95L141.9,317.13 M141.9,317.13L149.16,314.11 M149.16,314.11L150.98,311.69 M150.98,311.69L150.37,310.47 M150.37,310.47L139.48,310.23 M139.48,310.23L132.21,308.66 M132.21,308.66L115.26,307.81 M108,348L120.11,348.25 M120.11,348.25L132.21,348.73 M132.21,348.73L144.32,349.7 M144.32,349.7L151.58,351.03 M151.58,351.03L154,355.03 M201.77,305.63L201.16,310.23 M201.16,310.23L191.48,310.72 M191.48,310.72L182.4,311.69 M182.4,311.69L181.79,314.11 M181.79,314.11L187.85,316.53 M187.85,316.53L196.32,318.34 M196.32,318.34L204.79,319.55 M204.79,319.55L206,321.98 M206,321.98L196.32,323.19 M196.32,323.19L184.21,323.79 M184.21,323.79L172.11,324.4 M172.11,324.4L170.9,326.21 M170.9,326.21L174.53,328.63 M174.53,328.63L178.16,332.27 M178.16,332.27L175.74,334.08 M167.26,334.08L164.84,335.9 M164.84,335.9L170.9,338.32 M170.9,338.32L176.34,340.14 M176.34,340.14L176.95,341.95 M176.95,341.95L167.26,342.56 M167.26,342.56L160,343.16 M160,347.4L172.11,347.04 M172.11,347.04L184.21,348 M184.21,348L196.32,347.4 M196.32,347.4L214,346.79 M220.46,315.06L230.14,314.7 M230.14,314.7L238,315.3 M238,315.3L236.18,316.75 M236.18,316.75L227.72,317.11 M227.72,317.11L221.07,316.51 M221.07,316.51L220.46,315.06 M212,346.74L224.09,346.14 M224.09,346.14L236.18,344.32 M236.18,344.32L248.28,343.11 M248.28,343.11L260.37,341.9 M260.37,341.9L268.83,341.3 M86.27,389.95L98.37,389.35 M98.37,389.35L110,388.98 M98.37,392.98L87.48,392.37 M87.48,392.37L86.27,389.95 M132.21,351.45L149.16,351.82 M162,356.05L156.43,356.66 M156.43,356.66L144.32,357.87 M144.32,357.87L132.21,358.47 M132.21,358.47L120.11,359.08 M120.11,359.08L108,359.69 M146.74,366.95L154,365.74 M154,365.74L162,365.13 M126.04,397.94L124.83,393.58 M124.83,393.58L121.08,391.65 M121.08,391.65L117.32,390.8 M117.32,390.8L113.57,392.25 M113.57,392.25L108,392.49 M108,389.47L113.57,389.35 M113.57,389.35L116.35,388.01 M116.35,386.08L123.01,383.29 M123.01,383.29L135.97,382.32 M135.97,382.32L146.74,382.69 M146.74,382.69L149.16,381.48 M149.16,381.48L150.37,379.06 M150.37,379.06L147.95,376.03 M147.95,376.03L149.16,373 M149.16,373L151.58,369.37 M151.58,369.37L146.74,366.95 M214,360.29L203.58,359.08 M203.58,359.08L196.32,356.66 M196.32,356.66L184.21,355.81 M184.21,355.81L174.53,357.26 M174.53,357.26L170.9,360.29 M170.9,360.29L160,361.14 M160,365.13L172.11,366.71 M172.11,366.71L183,367.92 M183,367.92L183.61,370.82 M183.61,370.82L172.11,372.03 M172.11,372.03L169.08,372.76 M169.08,372.76L174.53,374.82 M174.53,374.82L181.79,376.63 M181.79,376.63L186.63,379.66 M186.63,379.66L191.48,381.72 M191.48,381.72L199.95,382.69 M199.95,382.69L207.22,383.9 M207.22,383.9L208.43,386.32 M208.43,386.32L202.37,387.77 M202.37,387.77L190.27,388.98 M190.27,388.98L186.63,390.56 M186.63,390.56L186.03,392.37 M186.03,392.37L190.27,396 M190.27,396L196.32,398.18 M196.32,398.18L206,399.03 M268.83,365.72L248.28,361.49 M248.28,361.49L236.18,360.88 M236.18,360.88L224.09,360.28 M224.09,360.28L212,359.67 M225.3,390.87L231.35,390.27 M231.35,390.27L238.6,391.11 M238.6,391.11L237.39,392.93 M237.39,392.93L227.72,393.05 M227.72,393.05L225.3,390.87 M220.46,372.01L226.51,371.77 M226.51,371.77L227.11,373.22 M227.11,373.22L221.07,373.58 M221.07,373.58L220.46,372.01 M123.74,391.77L129.79,390.92 M129.79,390.92L134.63,391.77 M134.63,391.77L133.42,393.58 M133.42,393.58L127.37,393.83 M127.37,393.83L123.74,392.98 M157.03,328.03L160.06,327.18 M160.06,327.18L162,327.42 M158.85,331.06L157.03,328.03 M126.16,352.61L130.4,351.88 M130.4,351.88L134.63,352.85 M134.63,352.85L134.03,355.03 M144.32,305.63L143.11,307.08 M127.37,307.08L126.16,305.63 M160,327.67L163.63,327.42 M163.63,327.42L167.26,329.6 M167.26,329.6L164.84,331.66 M187.85,352.85L196.32,352.36 M196.32,352.36L198.74,355.03 M160,348.61L167.26,349.22 M167.26,349.22L172.11,351.64 M172.11,351.64L173.32,355.03 M126.16,353.03L131,352.42 M131,352.42L135.85,353.63 M135.85,353.63L133.42,355.08 M133.42,355.08L127.37,354.84 M127.37,354.84L126.16,353.03 M108,353.63L111.63,353.87 M111.63,355.45L108,355.81 M155.22,375.42L158.85,374.82 M158.85,374.82L162,375.42 M162,380.27L156.43,380.02 M156.43,380.02L155.22,375.42 M138.27,386.08L145.53,385.35 M145.53,385.35L152.79,386.08 M152.79,386.08L151.58,388.5 M151.58,388.5L140.69,388.26 M140.69,388.26L138.27,386.08 M126.16,398.18L144.32,397.82 M154,397.82L162,397.22 M189.06,352.66L196.32,352.18 M196.32,352.18L201.16,353.63 M201.16,353.63L198.74,355.45 M198.74,355.45L190.27,355.08 M190.27,355.08L189.06,352.66 M210.85,353.63L214,353.39 M211.45,355.45L210.85,353.63 M160,374.82L166.05,375.18 M166.05,375.18L170.9,376.39 M170.9,376.39L171.5,378.45 M171.5,378.45L164.84,380.27 M174.53,386.32L181.79,385.59 M181.79,385.59L187.85,386.08 M187.85,386.08L189.06,387.53 M189.06,387.53L175.74,387.77 M175.74,387.77L174.53,386.32 M160,383.9L164.84,384.5 M164.84,384.5L167.87,386.32 M167.87,386.32L167.26,398.43 M167.26,398.43L169.69,403.27" fill="none" stroke="#0a2a2a" stroke-opacity="0.45" stroke-width="0.45"/>
<polygon points="59,341.8 67,342.9 77.9,344 81.5,344.8 88.8,347 96,347.7 104,347.9 113.5,347.4 122.9,348.3 132.3,349.3 150,351.1 150,355.8 132.3,357.7 122.9,359.1 113.5,360.1 104,359.1 90,358.2 77.9,359.7 67,361.2 59,362.3" fill="#00FF80"/>
<polygon points="59,345.1 67,346.2 77.9,348 88.8,351.3 96,352 104,353.2 111.6,354.4 104,356.2 96,355.1 88.8,355.3 77.9,357.2 67,357.9 59,358.3" fill="#00FF00"/>
<polygon points="124.7,352 132.3,352 137,353.6 132.3,355 125.7,354.9" fill="#00FF00"/>
<polygon points="59,350.2 67,350.6 74.2,351.7 81.5,352.8 88.1,353.9 81.5,355.3 74.2,356.1 67,357.5 59,357.9" fill="#FFFF00"/>
<polygon points="59,350 64,350.9 68.8,353.2 70.3,354.4 68.4,357.6 59,358.1" fill="#FF0000"/>
<polygon points="67,351.7 74.2,352.8 77.9,353.9 74.2,355 68.4,356.1" fill="#FF8000"/>
<polygon points="59,350.2 63.3,351 67.7,353.2 69.1,354.2 67.7,357.2 59,357.9" fill="#800000"/>
<polygon points="180,351.2 188,351.2 200.5,351 213,350.6 216,348.6 225.5,347.5 238,345.6 250.5,343.75 263,341.9 266,341.25 266,366.25 263,365.6 250.5,363.75 238,361.25 225.5,360 213,360.6 200.5,359.4 188,357.5 180,357.8" fill="#00FF80"/>
<polygon points="211.75,353.75 219.25,351.25 231.75,350.6 244.25,349.4 256.75,347.5 266,346.9 266,361.25 256.75,360 244.25,358.1 231.75,356.25 219.25,355.6 211.75,354.75" fill="#00FF00"/>
<polygon points="188,353.2 194,353.4 199,354.2 194,355.2 188,355" fill="#00FF00"/>
<polygon points="236.75,354.4 244.25,352.5 253,350.6 256.75,349.75 266,349.75 266,358.1 258,357.5 248,356.25 240.5,355.25" fill="#FFFF00"/>
<polygon points="246.75,354.4 253,352.5 256.75,351.25 266,350.6 266,356.9 258,356.25 250.5,355.25" fill="#FF8000"/>
<polygon points="255.5,349.6 266,349.3 266,358 257,356.4 254.8,352.5" fill="#FF0000"/>
<polygon points="256.75,349.75 266,349.75 266,357.5 257.4,355.6 256.1,352.5" fill="#800000"/>
<polygon points="150.3,349 156.1,347.7 163.1,348 168.8,350.2 173.3,353.4 173.9,356 170.1,359.2 163.1,360.4 158,359.8 152.2,356.6 150.3,352.8" fill="#00FF80"/>
<polygon points="153.1,348.9 161.27,348.9 168.17,352.35 171.8,356.44 169.44,358.6 162.36,358.6 155.46,355.8 153.1,352.35" fill="#00FF00"/>
<polygon points="154.5,349.9 161.45,349.9 167.31,352.64 170.4,355.89 168.39,357.6 162.37,357.6 156.51,355.38 154.5,352.64" fill="#FFFF00"/>
<polygon points="155.4,350.4 161.56,350.4 166.76,352.78 169.5,355.61 167.72,357.1 162.38,357.1 157.18,355.16 155.4,352.78" fill="#FF8000"/>
<polygon points="156.2,350.85 161.66,350.85 166.27,352.91 168.7,355.36 167.12,356.65 162.39,356.65 157.78,354.97 156.2,352.91" fill="#FF0000"/>
<polygon points="157.3,351.5 161.8,351.5 165.6,353.1 167.6,355 166.3,356 162.4,356 158.6,354.7 157.3,353.1" fill="#800000"/>
<polygon points="154.1,306 172.4,306 171.7,309.7 169.6,310.8 163.2,310.8 157.6,308.3" fill="#00FF00"/>
<polygon points="155.5,306 171,306 170.3,309.4 168.2,310.1 162.5,309.7 158.3,307.6" fill="#FFFF00"/>
<polygon points="156.3,306 170.2,306 169.4,309.1 167.2,309.6 162.6,309.3 158.6,307.4" fill="#FF8000"/>
<polygon points="156.9,306 169.6,306 168.2,309 163.2,309.4 159,307.3" fill="#FF0000"/>
<polygon points="158,306 166.8,306 166,308.3 162.5,308.7 159.7,307.3" fill="#800000"/>
<polygon points="153.4,387.5 171,387.5 168,390.5 167,396.5 185,397.6 185,402 140,402 140,398 158.5,397.3 157.5,391" fill="#00FF00"/>
<polygon points="153.7,398.4 156.2,397.8 161,397.6 166,398.2 170.2,400 171,402 153.7,402" fill="#FFFF00"/>
<polygon points="155.8,398.6 161,398 166,398.6 169.6,400.3 170,402 156.2,402" fill="#FF8000"/>
<polygon points="156.6,398.8 161,398.3 166.4,399.2 169.4,401 169.5,402 156.9,402" fill="#FF0000"/>
<polygon points="158.3,399.1 163.2,398.8 167.5,400.1 168.9,401.2 168.9,402 158.3,402" fill="#800000"/>
</g>
<line x1="59.4" y1="306.4" x2="59.4" y2="401.1" stroke="#2a2a2a" stroke-width="0.9" />
<line x1="59.4" y1="401.1" x2="265.6" y2="401.1" stroke="#2a2a2a" stroke-width="0.9" />
<line x1="56.4" y1="306.4" x2="59.4" y2="306.4" stroke="#2a2a2a" stroke-width="0.8" />
<text x="55.2" y="310.1" font-size="11.3" text-anchor="end" font-weight="normal" font-style="normal" fill="#1a1a1a" >0.0</text>
<line x1="57.4" y1="315.87" x2="59.4" y2="315.87" stroke="#2a2a2a" stroke-width="0.8" />
<line x1="56.4" y1="325.34" x2="59.4" y2="325.34" stroke="#2a2a2a" stroke-width="0.8" />
<text x="55.2" y="329.04" font-size="11.3" text-anchor="end" font-weight="normal" font-style="normal" fill="#1a1a1a" >-0.2</text>
<line x1="57.4" y1="334.81" x2="59.4" y2="334.81" stroke="#2a2a2a" stroke-width="0.8" />
<line x1="56.4" y1="344.28" x2="59.4" y2="344.28" stroke="#2a2a2a" stroke-width="0.8" />
<text x="55.2" y="347.98" font-size="11.3" text-anchor="end" font-weight="normal" font-style="normal" fill="#1a1a1a" >-0.4</text>
<line x1="57.4" y1="353.75" x2="59.4" y2="353.75" stroke="#2a2a2a" stroke-width="0.8" />
<line x1="56.4" y1="363.22" x2="59.4" y2="363.22" stroke="#2a2a2a" stroke-width="0.8" />
<text x="55.2" y="366.92" font-size="11.3" text-anchor="end" font-weight="normal" font-style="normal" fill="#1a1a1a" >-0.6</text>
<line x1="57.4" y1="372.69" x2="59.4" y2="372.69" stroke="#2a2a2a" stroke-width="0.8" />
<line x1="56.4" y1="382.16" x2="59.4" y2="382.16" stroke="#2a2a2a" stroke-width="0.8" />
<text x="55.2" y="385.86" font-size="11.3" text-anchor="end" font-weight="normal" font-style="normal" fill="#1a1a1a" >-0.8</text>
<line x1="57.4" y1="391.63" x2="59.4" y2="391.63" stroke="#2a2a2a" stroke-width="0.8" />
<line x1="56.4" y1="401.1" x2="59.4" y2="401.1" stroke="#2a2a2a" stroke-width="0.8" />
<text x="55.2" y="404.8" font-size="11.3" text-anchor="end" font-weight="normal" font-style="normal" fill="#1a1a1a" >-1.0</text>
<line x1="59.4" y1="401.1" x2="59.4" y2="404.1" stroke="#2a2a2a" stroke-width="0.8" />
<text x="59.4" y="414.6" font-size="11.3" text-anchor="middle" font-weight="normal" font-style="normal" fill="#1a1a1a" >0.0</text>
<line x1="80.02" y1="401.1" x2="80.02" y2="403.1" stroke="#2a2a2a" stroke-width="0.8" />
<line x1="100.64" y1="401.1" x2="100.64" y2="404.1" stroke="#2a2a2a" stroke-width="0.8" />
<text x="100.64" y="414.6" font-size="11.3" text-anchor="middle" font-weight="normal" font-style="normal" fill="#1a1a1a" >0.2</text>
<line x1="121.26" y1="401.1" x2="121.26" y2="403.1" stroke="#2a2a2a" stroke-width="0.8" />
<line x1="141.88" y1="401.1" x2="141.88" y2="404.1" stroke="#2a2a2a" stroke-width="0.8" />
<text x="141.88" y="414.6" font-size="11.3" text-anchor="middle" font-weight="normal" font-style="normal" fill="#1a1a1a" >0.4</text>
<line x1="162.5" y1="401.1" x2="162.5" y2="403.1" stroke="#2a2a2a" stroke-width="0.8" />
<line x1="183.12" y1="401.1" x2="183.12" y2="404.1" stroke="#2a2a2a" stroke-width="0.8" />
<text x="183.12" y="414.6" font-size="11.3" text-anchor="middle" font-weight="normal" font-style="normal" fill="#1a1a1a" >0.6</text>
<line x1="203.74" y1="401.1" x2="203.74" y2="403.1" stroke="#2a2a2a" stroke-width="0.8" />
<line x1="224.36" y1="401.1" x2="224.36" y2="404.1" stroke="#2a2a2a" stroke-width="0.8" />
<text x="224.36" y="414.6" font-size="11.3" text-anchor="middle" font-weight="normal" font-style="normal" fill="#1a1a1a" >0.8</text>
<line x1="244.98" y1="401.1" x2="244.98" y2="403.1" stroke="#2a2a2a" stroke-width="0.8" />
<line x1="265.6" y1="401.1" x2="265.6" y2="404.1" stroke="#2a2a2a" stroke-width="0.8" />
<text x="265.6" y="414.6" font-size="11.3" text-anchor="middle" font-weight="normal" font-style="normal" fill="#1a1a1a" >1.0</text>
<text x="161.3" y="432.7" font-size="15" text-anchor="middle" font-weight="normal" font-style="normal" fill="#1a1a1a" >U</text>
<text x="25" y="361.8" font-size="14.5" text-anchor="middle" font-weight="normal" font-style="normal" fill="#1a1a1a" transform="rotate(-90 25 361.8)" dy="5">V</text>
<rect x="270.3" y="306.2" width="6.5" height="10.18" fill="#800000"/>
<rect x="270.3" y="316.08" width="6.5" height="10.18" fill="#FF0000"/>
<rect x="270.3" y="325.96" width="6.5" height="10.18" fill="#FF8000"/>
<rect x="270.3" y="335.84" width="6.5" height="10.18" fill="#FFFF00"/>
<rect x="270.3" y="345.72" width="6.5" height="10.18" fill="#00FF00"/>
<rect x="270.3" y="355.6" width="6.5" height="10.18" fill="#00FF80"/>
<rect x="270.3" y="365.48" width="6.5" height="10.18" fill="#00FFFF"/>
<rect x="270.3" y="375.36" width="6.5" height="10.18" fill="#0080FF"/>
<rect x="270.3" y="385.24" width="6.5" height="10.18" fill="#0000FF"/>
<rect x="270.3" y="395.12" width="6.5" height="10.18" fill="#000000"/>
<text x="281.2" y="320.08" font-size="9.9" text-anchor="start" font-weight="normal" font-style="normal" fill="#1a1a1a" >140.0</text>
<text x="281.2" y="339.84" font-size="9.9" text-anchor="start" font-weight="normal" font-style="normal" fill="#1a1a1a" >120.6</text>
<text x="281.2" y="359.6" font-size="9.9" text-anchor="start" font-weight="normal" font-style="normal" fill="#1a1a1a" >101.3</text>
<text x="281.2" y="379.36" font-size="9.9" text-anchor="start" font-weight="normal" font-style="normal" fill="#1a1a1a" >81.88</text>
<text x="281.2" y="399.12" font-size="9.9" text-anchor="start" font-weight="normal" font-style="normal" fill="#1a1a1a" >62.50</text>
<clipPath id="cf"><rect x="391.4" y="308.3" width="206.4" height="95"/></clipPath>
<g clip-path="url(#cf)">
<rect x="391.4" y="308.3" width="206.4" height="95" fill="#00FFFF"/>
<polygon points="426,367.3 437.6,366.5 446,367.5 454.2,369 460.8,371.4 460.8,372.2 454.2,373.9 437.6,373.4 427.7,370.6" fill="#0080FF"/>
<polygon points="390.42,331.85 397.69,333.06 406.16,334.27 418.27,334.87 426.74,336.08 432.79,339.71 430.37,342.14 421.9,342.5 409.79,341.53 400.11,339.71 394.05,337.29 390.42,335.48" fill="#0080FF"/>
<polygon points="437.33,307.75 447.84,307.75 447.84,310.38 442.59,309.94" fill="#0080FF"/>
<polygon points="390.88,332.29 398.76,333.17 407.53,334.05 416.29,334.92 425.06,335.8 429.44,337.55 430.32,341.06 390.88,341.06" fill="#0080FF"/>
<polygon points="440,307.63 449.69,307.63 449.08,311.26 440,310.05" fill="#0080FF"/>
<polygon points="456.95,326.4 464.21,325.19 476.32,324.82 486,323.37 494,320.95 494,331.85 488.43,332.09 482.37,331.24 476.32,331.6 474.5,334.27 475.11,337.29 479.95,340.32 486,342.5 494,343.35 494,346.13 486,345.16 478.74,342.74 474.5,339.71 472.69,336.08 472.08,332.45 470.27,330.03 461.79,328.82 457.55,327.97" fill="#0080FF"/>
<polygon points="441.82,327.61 444.84,328.21 450.9,333.06 455.74,336.08 454.53,337.9 449.69,336.69 443.63,333.66 441.21,331.24" fill="#0080FF"/>
<polygon points="492,321.55 501.69,323.37 510.16,327.61 516.21,328.21 522.27,327 527.11,327.61 529.53,330.03 534.37,334.87 540.43,336.69 541.64,337.9 536.79,341.53 533.16,339.11 528.32,335.48 521.06,334.27 510.16,333.06 501.69,333.66 492,334.27" fill="#0080FF"/>
<polygon points="492,340.32 499.26,340.92 508.95,342.14 508.95,343.95 501.69,345.16 492,345.77" fill="#0080FF"/>
<polygon points="511.37,354.85 518.63,354.24 525.9,354.85 527.11,357.27 511.98,357.27" fill="#0080FF"/>
<polygon points="582.69,307.63 596,307.63 600.83,309.44 600.83,313.07 592.37,311.5 586.32,310.65" fill="#0080FF"/>
<polygon points="589.95,317.3 594.79,315.49 600.83,314.28 600.83,319.72 593.58,319.11" fill="#0080FF"/>
<polygon points="545.81,332.42 553.67,333.02 562.14,333.63 574.23,334.23 586.32,336.65 586.93,338.46 580.28,340.28 568.18,340.28 556.09,339.67 551.26,337.25" fill="#0080FF"/>
<polygon points="590.55,339.07 600.83,340.28 600.83,342.69 592.37,340.88" fill="#0080FF"/>
<polygon points="548.84,350.55 554.88,349.34 560.93,351.16 570.6,354.79 571.81,357.2 556.09,357.2 551.26,353.58" fill="#0080FF"/>
<polygon points="408.58,360.47 412.21,359.87 416.45,362.29 414.03,363.5 409.79,362.29" fill="#0080FF"/>
<polygon points="429.77,359.26 431.58,359.02 433.4,361.08 431.58,362.29 430.13,361.08" fill="#0080FF"/>
<polygon points="400.11,374.4 407.37,373.79 418.27,373.79 424.32,374.76 425.53,376.21 418.27,376.82 406.16,376.82 401.32,376.21" fill="#0080FF"/>
<polygon points="438.85,378.63 442,378.39 442,381.06 439.45,380.81" fill="#0080FF"/>
<polygon points="390.42,398.61 395.26,399.22 402.53,401.03 406.16,405.27 390.42,405.27" fill="#0080FF"/>
<polygon points="467.85,373.19 471.48,372.58 476.32,374.4 475.11,376.82 470.27,377.42 467.85,375.61" fill="#0080FF"/>
<polygon points="440,378.63 444.84,378.03 449.69,379.85 447.26,381.06 440,381.06" fill="#0080FF"/>
<polygon points="481.16,384.08 488.43,382.87 494,382.27 494,386.5 488.43,385.9 482.37,384.93" fill="#0080FF"/>
<polygon points="490.85,368.95 494,368.34 494,370.77 490.85,371.13" fill="#0080FF"/>
<polygon points="441.21,398 446.05,397.4 447.26,399.82 442.42,399.82" fill="#0080FF"/>
<polygon points="511.37,354.42 518.63,355.63 525.9,353.82 525.29,361.08 519.85,359.26 513.79,356.84" fill="#0080FF"/>
<polygon points="492,368.95 499.26,369.55 501.08,370.77 496.84,371.37 492,371.13" fill="#0080FF"/>
<polygon points="492,379.24 499.26,380.45 508.95,382.27 513.79,380.45 516.21,379.6 522.27,384.08 516.21,386.5 504.11,386.5 496.84,385.9 492,385.29" fill="#0080FF"/>
<polygon points="550.05,350.79 562.14,350.79 568.18,354.42 573.63,356.84 571.81,359.26 564.56,357.44 556.09,354.42 551.26,353.21" fill="#0080FF"/>
<polygon points="550.05,358.05 554.88,357.44 559.72,360.46 560.32,362.28 553.67,361.67 550.65,359.86" fill="#0080FF"/>
<polygon points="562.14,372.56 566.97,370.74 575.44,370.14 583.9,371.95 589.95,374.97 585.11,377.39 574.23,376.79 564.56,375.58" fill="#0080FF"/>
<polygon points="442.2,369.9 444,369.6 445.6,370.2 444,370.8" fill="#0000FF"/>
<polygon points="484.79,325.19 490.85,323.37 494,322.77 494,333.06 490.85,331.85 486,328.21" fill="#0000FF"/>
<polygon points="492,322.77 499.26,323.37 506.53,327 510.16,330.03 504.11,331.24 498.05,333.06 492,333.06" fill="#0000FF"/>
<polygon points="493.21,383.72 495.63,383.96 495.87,384.93 493.21,384.93" fill="#0000FF"/>
<polygon points="563.35,354.42 566.37,354.66 568.18,356.23 565.16,355.87" fill="#0000FF"/>
<polygon points="390.42,345.16 395.26,345.77 399.5,350 397.69,352.43 400.11,357.27 390.42,357.27" fill="#00FF80"/>
<polygon points="404.46,314.33 407.53,311.7 411.91,309.94 418.92,309.33 426.81,309.68 433.82,310.82 439.08,312.57 440.83,314.76 436.45,317.39 436.01,318.71 440.83,320.2 443.46,322.21 439.08,323.35 431.19,323.97 428.56,325.28 429,327.47 426.81,329.49 416.29,330.19 403.15,329.84 395.26,328.96 390.88,328.09 390.88,323.35 398.76,323.53 407.53,323.18 414.98,322.48 416.29,321.34 413.66,319.15 409.28,317.39 405.34,316.08" fill="#00FF80"/>
<polygon points="466.63,307.63 494,307.63 494,322.16 488.43,321.55 479.95,322.16 470.27,321.92 461.79,320.95 459.37,318.53 464.21,316.11 469.06,313.69 467.85,310.05" fill="#00FF80"/>
<polygon points="440,313.69 441.82,313.08 442.42,316.11 440,317.32" fill="#00FF80"/>
<polygon points="440,320.95 443.03,321.55 442.42,323.37 440,323.37" fill="#00FF80"/>
<polygon points="483.58,333.06 489.64,332.45 494,333.06 494,338.14 488.43,337.9 484.19,336.08" fill="#00FF80"/>
<polygon points="448.47,346.37 455.74,345.16 464.21,345.77 473.9,345.4 478.74,346.37 476.32,348.19 464.21,348.79 456.95,350.61 450.9,350 448.47,348.19" fill="#00FF80"/>
<polygon points="476.32,352.43 483.58,351.46 494,350.97 494,357.27 477.53,357.27" fill="#00FF80"/>
<polygon points="492,307.63 519.85,307.63 518.63,311.26 523.48,315.5 528.32,316.11 533.16,314.65 540.43,315.14 546,316.11 546,323.37 534.37,322.77 523.48,321.55 510.16,321.55 498.05,320.95 492,320.71" fill="#00FF80"/>
<polygon points="492,336.08 504.11,337.29 501.69,338.5 492,338.5" fill="#00FF80"/>
<polygon points="492,350 502.9,351.82 506.53,357.27 492,357.27" fill="#00FF80"/>
<polygon points="554.28,310.05 559.72,309.08 568.18,309.44 575.44,310.65 581.48,311.86 583.9,314.28 580.28,317.3 581.48,320.32 589.95,321.53 600.83,320.93 600.83,328.79 589.95,330 580.28,331.81 574.23,331.21 565.77,329.39 553.67,327.58 544,326.37 544,317.91 556.09,318.51 565.77,319.72 575.44,322.14 577.86,323.35 579.07,322.14 574.23,319.11 568.18,316.7 558.51,315.49 554.88,313.67" fill="#00FF80"/>
<polygon points="544,345.72 551.26,345.11 558.51,346.32 565.77,348.74 568.18,351.76 563.35,352.37 556.09,349.95 550.05,348.74 544,348.14" fill="#00FF80"/>
<polygon points="592.37,345.72 600.83,345.11 600.83,347.53 593.58,347.53" fill="#00FF80"/>
<polygon points="583.9,354.79 600.83,351.76 600.83,357.2 583.9,357.2" fill="#00FF80"/>
<polygon points="390.42,350.79 400.11,352 401.32,358.05 397.69,360.47 390.42,361.08" fill="#00FF80"/>
<polygon points="390.42,372.58 394.05,373.19 395.87,376.82 390.42,378.03" fill="#00FF80"/>
<polygon points="393.45,384.08 400.11,383.48 407.37,382.27 411,379.85 417.06,381.06 424.32,381.66 434,382.87 438.85,385.9 441.27,388.32 442,388.92 442,390.74 436.43,391.35 434,393.16 435.22,398 434,401.64 424.32,400.43 418.27,401.03 412.21,401.64 406.16,398 402.53,394.37 404.95,390.74 400.11,388.32 394.05,386.5" fill="#00FF80"/>
<polygon points="478.74,378.63 482.37,376.82 487.22,377.42 488.43,380.45 484.79,381.66 479.95,381.06" fill="#00FF80"/>
<polygon points="489.64,373.79 494,373.19 494,375.61 490.24,375.24" fill="#00FF80"/>
<polygon points="440,390.14 444.84,390.74 447.26,393.77 443.63,394.98 440,394.37" fill="#00FF80"/>
<polygon points="442.42,364.71 444.84,364.11 445.45,365.92 443.03,366.29" fill="#00FF80"/>
<polygon points="459.37,388.32 470.27,387.35 482.37,387.71 490.85,387.11 494,387.71 494,405.27 464.21,405.27 465.42,398 466.03,393.16 461.79,390.74" fill="#00FF80"/>
<polygon points="477.53,350.79 494,350.79 494,359.26 486,359.87 479.95,356.84 477.53,354.42" fill="#00FF80"/>
<polygon points="492,350.79 502.9,353.21 505.32,359.26 499.26,361.69 492,361.69" fill="#00FF80"/>
<polygon points="535.58,361.08 540.43,362.29 546,364.11 546,367.13 540.43,366.53 536.79,364.11" fill="#00FF80"/>
<polygon points="513.79,370.16 519.85,369.55 524.08,370.4 519.85,371.37 515,371.37" fill="#00FF80"/>
<polygon points="492,373.19 499.26,373.79 506.53,375 505.32,377.42 499.26,377.67 492,376.82" fill="#00FF80"/>
<polygon points="540.43,387.11 546,386.5 546,391.95 541.64,390.74" fill="#00FF80"/>
<polygon points="492,388.32 504.11,388.92 516.21,389.53 521.66,389.77 521.06,393.77 520.09,398.61 522.87,400.43 528.32,399.82 533.16,396.19 540.43,394.98 546,394.62 546,405.27 492,405.27" fill="#00FF80"/>
<polygon points="585.11,355.02 589.95,354.42 600.83,353.21 600.83,360.46 592.37,359.86 586.32,358.05" fill="#00FF80"/>
<polygon points="544,363.49 551.26,364.09 560.93,365.3 559.72,367.11 551.26,367.72 544,367.48" fill="#00FF80"/>
<polygon points="570,362.88 575.44,363.12 580.28,364.7 580.88,367.11 575.44,366.51 570.6,365.3" fill="#00FF80"/>
<polygon points="592.37,363.49 600.83,364.09 600.83,366.51 593.58,365.3" fill="#00FF80"/>
<polygon points="544,387.07 551.26,386.46 554.88,383.68 562.14,381.26 574.23,379.33 583.9,381.63 590.55,383.68 593.58,386.1 591.76,388.28 583.9,390.45 582.45,395.53 585.72,398.55 594.79,400.13 600.83,399.88 600.83,405.2 544,405.2" fill="#00FF80"/>
<polygon points="417.17,316.69 423.3,316.08 430.32,316.96 431.19,319.15 426.81,320.2 419.8,319.85 417.34,318.45" fill="#00FFFF"/>
<polygon points="553.67,391.3 565.77,391.9 573.63,394.93 569.39,397.34 558.51,396.98 552.46,394.32" fill="#00FFFF"/>
<polygon points="390.42,350 395.26,350.61 396.47,353.64 390.42,354.24" fill="#00FF00"/>
<polygon points="390.42,307.63 400.23,307.63 400.11,312.84 390.42,312.96" fill="#00FF00"/>
<polygon points="418.05,313.01 423.3,312.31 432.07,312.57 433.82,313.45 429.44,314.33 420.67,314.33" fill="#00FF00"/>
<polygon points="399.64,327.03 407.53,326.33 416.29,326.33 422.43,326.33 423.74,327.47 420.67,328.35 407.53,328.35 400.08,327.91" fill="#00FF00"/>
<polygon points="470.27,309.45 494,309.45 494,314.9 486,318.53 473.9,319.13 470.27,316.11" fill="#00FF00"/>
<polygon points="481.16,353.03 494,352.18 494,357.27 481.77,357.27" fill="#00FF00"/>
<polygon points="492,307.63 513.79,307.63 510.16,312.47 504.11,313.69 492,314.29" fill="#00FF00"/>
<polygon points="492,314.9 499.26,315.5 504.11,317.92 499.26,319.13 492,319.74" fill="#00FF00"/>
<polygon points="534.37,317.56 539.22,318.53 538.61,319.5 534.37,318.77" fill="#00FF00"/>
<polygon points="540.43,345.77 546,345.77 546,347.58 541.03,347.34" fill="#00FF00"/>
<polygon points="592.37,353.58 600.83,352.97 600.83,357.2 592.37,357.2" fill="#00FF00"/>
<polygon points="390.42,354.42 396.47,355.63 397.08,358.05 390.42,358.66" fill="#00FF00"/>
<polygon points="472.69,395.58 479.95,393.16 488.43,391.95 494,391.95 494,405.27 472.69,405.27" fill="#00FF00"/>
<polygon points="492,392.56 499.26,393.16 507.74,394.98 513.19,397.76 510.16,399.46 501.69,398.73 492,397.04" fill="#00FF00"/>
<polygon points="591.16,354.42 600.83,353.81 600.83,358.05 592.37,357.44" fill="#00FF00"/>
<polygon points="565.16,384.65 568.18,384.04 569.39,388.28 568.18,390.09 565.77,389.48" fill="#00FF00"/>
<polygon points="593.58,401.58 600.83,400.97 600.83,405.2 593.58,405.2" fill="#00FF00"/>
<polygon points="390.42,307.63 397.32,307.63 397.2,310.3 390.42,310.42" fill="#FFFF00"/>
<polygon points="390.42,355.63 393.45,356.6 390.42,357.45" fill="#FFFF00"/>
<polygon points="390.42,307.63 396.23,307.63 396.11,309.81 390.42,309.81" fill="#FF8000"/>
<polygon points="390.42,307.63 393.81,307.63 393.81,309.21 390.42,309.21" fill="#FF0000"/>
<polygon points="390.42,307.63 392.36,307.63 392.36,308.84 390.42,308.84" fill="#800000"/>
<path d="M426,367.3L437.6,366.5 M437.6,366.5L446,367.5 M446,367.5L454.2,369 M454.2,369L460.8,371.4 M460.8,372.2L454.2,373.9 M454.2,373.9L437.6,373.4 M437.6,373.4L427.7,370.6 M427.7,370.6L426,367.3 M390.42,331.85L397.69,333.06 M397.69,333.06L406.16,334.27 M406.16,334.27L418.27,334.87 M418.27,334.87L426.74,336.08 M426.74,336.08L432.79,339.71 M432.79,339.71L430.37,342.14 M430.37,342.14L421.9,342.5 M421.9,342.5L409.79,341.53 M409.79,341.53L400.11,339.71 M400.11,339.71L394.05,337.29 M394.05,337.29L390.42,335.48 M447.84,310.38L442.59,309.94 M442.59,309.94L437.33,307.75 M390.88,332.29L398.76,333.17 M398.76,333.17L407.53,334.05 M407.53,334.05L416.29,334.92 M416.29,334.92L425.06,335.8 M425.06,335.8L429.44,337.55 M429.44,337.55L430.32,341.06 M449.69,307.63L449.08,311.26 M449.08,311.26L440,310.05 M456.95,326.4L464.21,325.19 M464.21,325.19L476.32,324.82 M476.32,324.82L486,323.37 M486,323.37L494,320.95 M494,331.85L488.43,332.09 M488.43,332.09L482.37,331.24 M482.37,331.24L476.32,331.6 M476.32,331.6L474.5,334.27 M474.5,334.27L475.11,337.29 M475.11,337.29L479.95,340.32 M479.95,340.32L486,342.5 M486,342.5L494,343.35 M494,346.13L486,345.16 M486,345.16L478.74,342.74 M478.74,342.74L474.5,339.71 M474.5,339.71L472.69,336.08 M472.69,336.08L472.08,332.45 M472.08,332.45L470.27,330.03 M470.27,330.03L461.79,328.82 M461.79,328.82L457.55,327.97 M457.55,327.97L456.95,326.4 M441.82,327.61L444.84,328.21 M444.84,328.21L450.9,333.06 M450.9,333.06L455.74,336.08 M455.74,336.08L454.53,337.9 M454.53,337.9L449.69,336.69 M449.69,336.69L443.63,333.66 M443.63,333.66L441.21,331.24 M441.21,331.24L441.82,327.61 M492,321.55L501.69,323.37 M501.69,323.37L510.16,327.61 M510.16,327.61L516.21,328.21 M516.21,328.21L522.27,327 M522.27,327L527.11,327.61 M527.11,327.61L529.53,330.03 M529.53,330.03L534.37,334.87 M534.37,334.87L540.43,336.69 M540.43,336.69L541.64,337.9 M541.64,337.9L536.79,341.53 M536.79,341.53L533.16,339.11 M533.16,339.11L528.32,335.48 M528.32,335.48L521.06,334.27 M521.06,334.27L510.16,333.06 M510.16,333.06L501.69,333.66 M501.69,333.66L492,334.27 M492,340.32L499.26,340.92 M499.26,340.92L508.95,342.14 M508.95,343.95L501.69,345.16 M501.69,345.16L492,345.77 M511.37,354.85L518.63,354.24 M518.63,354.24L525.9,354.85 M525.9,354.85L527.11,357.27 M511.98,357.27L511.37,354.85 M596,307.63L600.83,309.44 M600.83,313.07L592.37,311.5 M592.37,311.5L586.32,310.65 M586.32,310.65L582.69,307.63 M589.95,317.3L594.79,315.49 M594.79,315.49L600.83,314.28 M600.83,319.72L593.58,319.11 M593.58,319.11L589.95,317.3 M545.81,332.42L553.67,333.02 M553.67,333.02L562.14,333.63 M562.14,333.63L574.23,334.23 M574.23,334.23L586.32,336.65 M586.32,336.65L586.93,338.46 M586.93,338.46L580.28,340.28 M568.18,340.28L556.09,339.67 M556.09,339.67L551.26,337.25 M551.26,337.25L545.81,332.42 M590.55,339.07L600.83,340.28 M600.83,342.69L592.37,340.88 M592.37,340.88L590.55,339.07 M548.84,350.55L554.88,349.34 M554.88,349.34L560.93,351.16 M560.93,351.16L570.6,354.79 M570.6,354.79L571.81,357.2 M556.09,357.2L551.26,353.58 M551.26,353.58L548.84,350.55 M408.58,360.47L412.21,359.87 M412.21,359.87L416.45,362.29 M416.45,362.29L414.03,363.5 M414.03,363.5L409.79,362.29 M409.79,362.29L408.58,360.47 M429.77,359.26L431.58,359.02 M431.58,359.02L433.4,361.08 M433.4,361.08L431.58,362.29 M431.58,362.29L430.13,361.08 M430.13,361.08L429.77,359.26 M400.11,374.4L407.37,373.79 M418.27,373.79L424.32,374.76 M424.32,374.76L425.53,376.21 M425.53,376.21L418.27,376.82 M406.16,376.82L401.32,376.21 M401.32,376.21L400.11,374.4 M438.85,378.63L442,378.39 M442,381.06L439.45,380.81 M439.45,380.81L438.85,378.63 M390.42,398.61L395.26,399.22 M395.26,399.22L402.53,401.03 M402.53,401.03L406.16,405.27 M467.85,373.19L471.48,372.58 M471.48,372.58L476.32,374.4 M476.32,374.4L475.11,376.82 M475.11,376.82L470.27,377.42 M470.27,377.42L467.85,375.61 M440,378.63L444.84,378.03 M444.84,378.03L449.69,379.85 M449.69,379.85L447.26,381.06 M481.16,384.08L488.43,382.87 M488.43,382.87L494,382.27 M494,386.5L488.43,385.9 M488.43,385.9L482.37,384.93 M482.37,384.93L481.16,384.08 M490.85,368.95L494,368.34 M494,370.77L490.85,371.13 M441.21,398L446.05,397.4 M446.05,397.4L447.26,399.82 M442.42,399.82L441.21,398 M511.37,354.42L518.63,355.63 M518.63,355.63L525.9,353.82 M525.9,353.82L525.29,361.08 M525.29,361.08L519.85,359.26 M519.85,359.26L513.79,356.84 M513.79,356.84L511.37,354.42 M492,368.95L499.26,369.55 M499.26,369.55L501.08,370.77 M501.08,370.77L496.84,371.37 M496.84,371.37L492,371.13 M492,379.24L499.26,380.45 M499.26,380.45L508.95,382.27 M508.95,382.27L513.79,380.45 M513.79,380.45L516.21,379.6 M516.21,379.6L522.27,384.08 M522.27,384.08L516.21,386.5 M504.11,386.5L496.84,385.9 M496.84,385.9L492,385.29 M562.14,350.79L568.18,354.42 M568.18,354.42L573.63,356.84 M573.63,356.84L571.81,359.26 M571.81,359.26L564.56,357.44 M564.56,357.44L556.09,354.42 M556.09,354.42L551.26,353.21 M551.26,353.21L550.05,350.79 M550.05,358.05L554.88,357.44 M554.88,357.44L559.72,360.46 M559.72,360.46L560.32,362.28 M560.32,362.28L553.67,361.67 M553.67,361.67L550.65,359.86 M550.65,359.86L550.05,358.05 M562.14,372.56L566.97,370.74 M566.97,370.74L575.44,370.14 M575.44,370.14L583.9,371.95 M583.9,371.95L589.95,374.97 M589.95,374.97L585.11,377.39 M585.11,377.39L574.23,376.79 M574.23,376.79L564.56,375.58 M564.56,375.58L562.14,372.56 M442.2,369.9L444,369.6 M444,369.6L445.6,370.2 M445.6,370.2L444,370.8 M444,370.8L442.2,369.9 M484.79,325.19L490.85,323.37 M490.85,323.37L494,322.77 M494,333.06L490.85,331.85 M490.85,331.85L486,328.21 M486,328.21L484.79,325.19 M492,322.77L499.26,323.37 M499.26,323.37L506.53,327 M506.53,327L510.16,330.03 M510.16,330.03L504.11,331.24 M504.11,331.24L498.05,333.06 M493.21,383.72L495.63,383.96 M495.63,383.96L495.87,384.93 M563.35,354.42L566.37,354.66 M566.37,354.66L568.18,356.23 M568.18,356.23L565.16,355.87 M565.16,355.87L563.35,354.42 M390.42,345.16L395.26,345.77 M395.26,345.77L399.5,350 M399.5,350L397.69,352.43 M397.69,352.43L400.11,357.27 M404.46,314.33L407.53,311.7 M407.53,311.7L411.91,309.94 M411.91,309.94L418.92,309.33 M418.92,309.33L426.81,309.68 M426.81,309.68L433.82,310.82 M433.82,310.82L439.08,312.57 M439.08,312.57L440.83,314.76 M440.83,314.76L436.45,317.39 M436.45,317.39L436.01,318.71 M436.01,318.71L440.83,320.2 M440.83,320.2L443.46,322.21 M443.46,322.21L439.08,323.35 M439.08,323.35L431.19,323.97 M431.19,323.97L428.56,325.28 M428.56,325.28L429,327.47 M429,327.47L426.81,329.49 M426.81,329.49L416.29,330.19 M416.29,330.19L403.15,329.84 M403.15,329.84L395.26,328.96 M395.26,328.96L390.88,328.09 M390.88,323.35L398.76,323.53 M398.76,323.53L407.53,323.18 M407.53,323.18L414.98,322.48 M414.98,322.48L416.29,321.34 M416.29,321.34L413.66,319.15 M413.66,319.15L409.28,317.39 M409.28,317.39L405.34,316.08 M405.34,316.08L404.46,314.33 M494,322.16L488.43,321.55 M488.43,321.55L479.95,322.16 M479.95,322.16L470.27,321.92 M470.27,321.92L461.79,320.95 M461.79,320.95L459.37,318.53 M459.37,318.53L464.21,316.11 M464.21,316.11L469.06,313.69 M469.06,313.69L467.85,310.05 M467.85,310.05L466.63,307.63 M440,313.69L441.82,313.08 M441.82,313.08L442.42,316.11 M442.42,316.11L440,317.32 M440,320.95L443.03,321.55 M443.03,321.55L442.42,323.37 M483.58,333.06L489.64,332.45 M489.64,332.45L494,333.06 M494,338.14L488.43,337.9 M488.43,337.9L484.19,336.08 M484.19,336.08L483.58,333.06 M448.47,346.37L455.74,345.16 M455.74,345.16L464.21,345.77 M464.21,345.77L473.9,345.4 M473.9,345.4L478.74,346.37 M478.74,346.37L476.32,348.19 M476.32,348.19L464.21,348.79 M464.21,348.79L456.95,350.61 M456.95,350.61L450.9,350 M450.9,350L448.47,348.19 M476.32,352.43L483.58,351.46 M483.58,351.46L494,350.97 M477.53,357.27L476.32,352.43 M519.85,307.63L518.63,311.26 M518.63,311.26L523.48,315.5 M523.48,315.5L528.32,316.11 M528.32,316.11L533.16,314.65 M533.16,314.65L540.43,315.14 M540.43,315.14L546,316.11 M546,323.37L534.37,322.77 M534.37,322.77L523.48,321.55 M510.16,321.55L498.05,320.95 M498.05,320.95L492,320.71 M492,336.08L504.11,337.29 M504.11,337.29L501.69,338.5 M492,350L502.9,351.82 M502.9,351.82L506.53,357.27 M554.28,310.05L559.72,309.08 M559.72,309.08L568.18,309.44 M568.18,309.44L575.44,310.65 M575.44,310.65L581.48,311.86 M581.48,311.86L583.9,314.28 M583.9,314.28L580.28,317.3 M580.28,317.3L581.48,320.32 M581.48,320.32L589.95,321.53 M589.95,321.53L600.83,320.93 M600.83,328.79L589.95,330 M589.95,330L580.28,331.81 M580.28,331.81L574.23,331.21 M574.23,331.21L565.77,329.39 M565.77,329.39L553.67,327.58 M553.67,327.58L544,326.37 M544,317.91L556.09,318.51 M556.09,318.51L565.77,319.72 M565.77,319.72L575.44,322.14 M575.44,322.14L577.86,323.35 M577.86,323.35L579.07,322.14 M579.07,322.14L574.23,319.11 M574.23,319.11L568.18,316.7 M568.18,316.7L558.51,315.49 M558.51,315.49L554.88,313.67 M554.88,313.67L554.28,310.05 M544,345.72L551.26,345.11 M551.26,345.11L558.51,346.32 M558.51,346.32L565.77,348.74 M565.77,348.74L568.18,351.76 M568.18,351.76L563.35,352.37 M563.35,352.37L556.09,349.95 M556.09,349.95L550.05,348.74 M550.05,348.74L544,348.14 M592.37,345.72L600.83,345.11 M593.58,347.53L592.37,345.72 M583.9,354.79L600.83,351.76 M390.42,350.79L400.11,352 M400.11,352L401.32,358.05 M401.32,358.05L397.69,360.47 M397.69,360.47L390.42,361.08 M390.42,372.58L394.05,373.19 M394.05,373.19L395.87,376.82 M395.87,376.82L390.42,378.03 M393.45,384.08L400.11,383.48 M400.11,383.48L407.37,382.27 M407.37,382.27L411,379.85 M411,379.85L417.06,381.06 M417.06,381.06L424.32,381.66 M424.32,381.66L434,382.87 M434,382.87L438.85,385.9 M438.85,385.9L441.27,388.32 M441.27,388.32L442,388.92 M442,390.74L436.43,391.35 M436.43,391.35L434,393.16 M434,393.16L435.22,398 M435.22,398L434,401.64 M434,401.64L424.32,400.43 M424.32,400.43L418.27,401.03 M418.27,401.03L412.21,401.64 M412.21,401.64L406.16,398 M406.16,398L402.53,394.37 M402.53,394.37L404.95,390.74 M404.95,390.74L400.11,388.32 M400.11,388.32L394.05,386.5 M394.05,386.5L393.45,384.08 M478.74,378.63L482.37,376.82 M482.37,376.82L487.22,377.42 M487.22,377.42L488.43,380.45 M488.43,380.45L484.79,381.66 M484.79,381.66L479.95,381.06 M479.95,381.06L478.74,378.63 M489.64,373.79L494,373.19 M494,375.61L490.24,375.24 M490.24,375.24L489.64,373.79 M440,390.14L444.84,390.74 M444.84,390.74L447.26,393.77 M447.26,393.77L443.63,394.98 M443.63,394.98L440,394.37 M442.42,364.71L444.84,364.11 M444.84,364.11L445.45,365.92 M445.45,365.92L443.03,366.29 M443.03,366.29L442.42,364.71 M459.37,388.32L470.27,387.35 M470.27,387.35L482.37,387.71 M482.37,387.71L490.85,387.11 M490.85,387.11L494,387.71 M464.21,405.27L465.42,398 M465.42,398L466.03,393.16 M466.03,393.16L461.79,390.74 M461.79,390.74L459.37,388.32 M494,359.26L486,359.87 M486,359.87L479.95,356.84 M479.95,356.84L477.53,354.42 M492,350.79L502.9,353.21 M502.9,353.21L505.32,359.26 M505.32,359.26L499.26,361.69 M535.58,361.08L540.43,362.29 M540.43,362.29L546,364.11 M546,367.13L540.43,366.53 M540.43,366.53L536.79,364.11 M536.79,364.11L535.58,361.08 M513.79,370.16L519.85,369.55 M519.85,369.55L524.08,370.4 M524.08,370.4L519.85,371.37 M515,371.37L513.79,370.16 M492,373.19L499.26,373.79 M499.26,373.79L506.53,375 M506.53,375L505.32,377.42 M505.32,377.42L499.26,377.67 M499.26,377.67L492,376.82 M540.43,387.11L546,386.5 M546,391.95L541.64,390.74 M541.64,390.74L540.43,387.11 M492,388.32L504.11,388.92 M504.11,388.92L516.21,389.53 M516.21,389.53L521.66,389.77 M521.66,389.77L521.06,393.77 M521.06,393.77L520.09,398.61 M520.09,398.61L522.87,400.43 M522.87,400.43L528.32,399.82 M528.32,399.82L533.16,396.19 M533.16,396.19L540.43,394.98 M540.43,394.98L546,394.62 M585.11,355.02L589.95,354.42 M589.95,354.42L600.83,353.21 M600.83,360.46L592.37,359.86 M592.37,359.86L586.32,358.05 M586.32,358.05L585.11,355.02 M544,363.49L551.26,364.09 M551.26,364.09L560.93,365.3 M560.93,365.3L559.72,367.11 M559.72,367.11L551.26,367.72 M551.26,367.72L544,367.48 M570,362.88L575.44,363.12 M575.44,363.12L580.28,364.7 M580.28,364.7L580.88,367.11 M580.88,367.11L575.44,366.51 M575.44,366.51L570.6,365.3 M570.6,365.3L570,362.88 M592.37,363.49L600.83,364.09 M600.83,366.51L593.58,365.3 M593.58,365.3L592.37,363.49 M544,387.07L551.26,386.46 M551.26,386.46L554.88,383.68 M554.88,383.68L562.14,381.26 M562.14,381.26L574.23,379.33 M574.23,379.33L583.9,381.63 M583.9,381.63L590.55,383.68 M590.55,383.68L593.58,386.1 M593.58,386.1L591.76,388.28 M591.76,388.28L583.9,390.45 M583.9,390.45L582.45,395.53 M582.45,395.53L585.72,398.55 M585.72,398.55L594.79,400.13 M594.79,400.13L600.83,399.88 M417.17,316.69L423.3,316.08 M423.3,316.08L430.32,316.96 M430.32,316.96L431.19,319.15 M431.19,319.15L426.81,320.2 M426.81,320.2L419.8,319.85 M419.8,319.85L417.34,318.45 M417.34,318.45L417.17,316.69 M553.67,391.3L565.77,391.9 M565.77,391.9L573.63,394.93 M573.63,394.93L569.39,397.34 M569.39,397.34L558.51,396.98 M558.51,396.98L552.46,394.32 M552.46,394.32L553.67,391.3 M390.42,350L395.26,350.61 M395.26,350.61L396.47,353.64 M396.47,353.64L390.42,354.24 M400.23,307.63L400.11,312.84 M400.11,312.84L390.42,312.96 M418.05,313.01L423.3,312.31 M423.3,312.31L432.07,312.57 M432.07,312.57L433.82,313.45 M433.82,313.45L429.44,314.33 M420.67,314.33L418.05,313.01 M399.64,327.03L407.53,326.33 M422.43,326.33L423.74,327.47 M423.74,327.47L420.67,328.35 M407.53,328.35L400.08,327.91 M400.08,327.91L399.64,327.03 M494,314.9L486,318.53 M486,318.53L473.9,319.13 M473.9,319.13L470.27,316.11 M481.16,353.03L494,352.18 M481.77,357.27L481.16,353.03 M513.79,307.63L510.16,312.47 M510.16,312.47L504.11,313.69 M504.11,313.69L492,314.29 M492,314.9L499.26,315.5 M499.26,315.5L504.11,317.92 M504.11,317.92L499.26,319.13 M499.26,319.13L492,319.74 M534.37,317.56L539.22,318.53 M539.22,318.53L538.61,319.5 M538.61,319.5L534.37,318.77 M546,347.58L541.03,347.34 M541.03,347.34L540.43,345.77 M592.37,353.58L600.83,352.97 M390.42,354.42L396.47,355.63 M396.47,355.63L397.08,358.05 M397.08,358.05L390.42,358.66 M472.69,395.58L479.95,393.16 M479.95,393.16L488.43,391.95 M492,392.56L499.26,393.16 M499.26,393.16L507.74,394.98 M507.74,394.98L513.19,397.76 M513.19,397.76L510.16,399.46 M510.16,399.46L501.69,398.73 M501.69,398.73L492,397.04 M591.16,354.42L600.83,353.81 M600.83,358.05L592.37,357.44 M592.37,357.44L591.16,354.42 M565.16,384.65L568.18,384.04 M568.18,384.04L569.39,388.28 M569.39,388.28L568.18,390.09 M568.18,390.09L565.77,389.48 M565.77,389.48L565.16,384.65 M593.58,401.58L600.83,400.97" fill="none" stroke="#0a2a2a" stroke-opacity="0.45" stroke-width="0.45"/>
<polygon points="470.3,308 503.2,308 504,312 487.6,313.2 495.4,315.2 504.8,317.9 500.9,319.5 483.6,319.1 471.9,318.7 474.3,314.4 470.3,309.7" fill="#00FF00"/>
<polygon points="477.4,308 486,308 485.5,309.7 478,309.7" fill="#FFFF00"/>
<polygon points="499.5,308 503.5,308 503.3,312.2 500.5,311.8" fill="#FFFF00"/>
<polygon points="486,308 502.8,308 502.5,312.2 496,312.9 490,311.9 486.4,310.2" fill="#FF0000"/>
<polygon points="486.8,308 501.6,308 501.1,311.6 496,312.3 490.3,311.3 487.3,309.8" fill="#800000"/>
<polygon points="476.7,352.3 485,352.9 485,356.4 480.8,356.1 477.4,353.7" fill="#00FF80"/>
<polygon points="485,352.7 494.5,352 496.6,353 504.1,356.4 504.1,359.9 501.4,360.5 494.5,359.9 485.6,357.1 485,355.1" fill="#00FF00"/>
<polygon points="486.7,353.4 493.9,353 501.4,356.1 502.1,359.2 500,359.5 492.5,358.2 487,356.4" fill="#FFFF00"/>
<polygon points="487.7,353.7 493.9,353.4 500.7,356.4 501,358.8 494.5,358.2 488,356" fill="#FF0000"/>
<polygon points="489.8,354 494.5,354 498.7,356.1 499.3,357.8 494.5,357.8 490.1,355.8" fill="#800000"/>
<polygon points="480.5,392.6 487.6,391.8 499.3,392.2 505.6,392.6 511.8,395 515,398.9 515,404 471.9,404 471.9,397.7 478.2,396.9 480.5,395" fill="#00FF00"/>
<polygon points="491.5,396.1 499.3,395.3 507.1,396.1 510.3,397.7 503.2,398.1 493,397.7" fill="#00FF80"/>
<polygon points="478.6,401.2 484.4,400.8 486.8,400 487.6,404 478.6,404" fill="#FFFF00"/>
<polygon points="486,400.1 490,400.1 488.5,404 486.2,404" fill="#FF0000"/>
<polygon points="487.6,400.4 493.8,400.4 499.3,402 500.9,404 488,404" fill="#800000"/>
</g>
<line x1="391.4" y1="308.3" x2="391.4" y2="403.3" stroke="#2a2a2a" stroke-width="0.9" />
<line x1="391.4" y1="403.3" x2="597.8" y2="403.3" stroke="#2a2a2a" stroke-width="0.9" />
<line x1="388.4" y1="308.3" x2="391.4" y2="308.3" stroke="#2a2a2a" stroke-width="0.8" />
<text x="387.2" y="312" font-size="11.3" text-anchor="end" font-weight="normal" font-style="normal" fill="#1a1a1a" >0.0</text>
<line x1="389.4" y1="317.8" x2="391.4" y2="317.8" stroke="#2a2a2a" stroke-width="0.8" />
<line x1="388.4" y1="327.3" x2="391.4" y2="327.3" stroke="#2a2a2a" stroke-width="0.8" />
<text x="387.2" y="331" font-size="11.3" text-anchor="end" font-weight="normal" font-style="normal" fill="#1a1a1a" >-0.2</text>
<line x1="389.4" y1="336.8" x2="391.4" y2="336.8" stroke="#2a2a2a" stroke-width="0.8" />
<line x1="388.4" y1="346.3" x2="391.4" y2="346.3" stroke="#2a2a2a" stroke-width="0.8" />
<text x="387.2" y="350" font-size="11.3" text-anchor="end" font-weight="normal" font-style="normal" fill="#1a1a1a" >-0.4</text>
<line x1="389.4" y1="355.8" x2="391.4" y2="355.8" stroke="#2a2a2a" stroke-width="0.8" />
<line x1="388.4" y1="365.3" x2="391.4" y2="365.3" stroke="#2a2a2a" stroke-width="0.8" />
<text x="387.2" y="369" font-size="11.3" text-anchor="end" font-weight="normal" font-style="normal" fill="#1a1a1a" >-0.6</text>
<line x1="389.4" y1="374.8" x2="391.4" y2="374.8" stroke="#2a2a2a" stroke-width="0.8" />
<line x1="388.4" y1="384.3" x2="391.4" y2="384.3" stroke="#2a2a2a" stroke-width="0.8" />
<text x="387.2" y="388" font-size="11.3" text-anchor="end" font-weight="normal" font-style="normal" fill="#1a1a1a" >-0.8</text>
<line x1="389.4" y1="393.8" x2="391.4" y2="393.8" stroke="#2a2a2a" stroke-width="0.8" />
<line x1="388.4" y1="403.3" x2="391.4" y2="403.3" stroke="#2a2a2a" stroke-width="0.8" />
<text x="387.2" y="407" font-size="11.3" text-anchor="end" font-weight="normal" font-style="normal" fill="#1a1a1a" >-1.0</text>
<line x1="391.4" y1="403.3" x2="391.4" y2="406.3" stroke="#2a2a2a" stroke-width="0.8" />
<text x="391.4" y="416.8" font-size="11.3" text-anchor="middle" font-weight="normal" font-style="normal" fill="#1a1a1a" >0.0</text>
<line x1="412.04" y1="403.3" x2="412.04" y2="405.3" stroke="#2a2a2a" stroke-width="0.8" />
<line x1="432.68" y1="403.3" x2="432.68" y2="406.3" stroke="#2a2a2a" stroke-width="0.8" />
<text x="432.68" y="416.8" font-size="11.3" text-anchor="middle" font-weight="normal" font-style="normal" fill="#1a1a1a" >0.2</text>
<line x1="453.32" y1="403.3" x2="453.32" y2="405.3" stroke="#2a2a2a" stroke-width="0.8" />
<line x1="473.96" y1="403.3" x2="473.96" y2="406.3" stroke="#2a2a2a" stroke-width="0.8" />
<text x="473.96" y="416.8" font-size="11.3" text-anchor="middle" font-weight="normal" font-style="normal" fill="#1a1a1a" >0.4</text>
<line x1="494.6" y1="403.3" x2="494.6" y2="405.3" stroke="#2a2a2a" stroke-width="0.8" />
<line x1="515.24" y1="403.3" x2="515.24" y2="406.3" stroke="#2a2a2a" stroke-width="0.8" />
<text x="515.24" y="416.8" font-size="11.3" text-anchor="middle" font-weight="normal" font-style="normal" fill="#1a1a1a" >0.6</text>
<line x1="535.88" y1="403.3" x2="535.88" y2="405.3" stroke="#2a2a2a" stroke-width="0.8" />
<line x1="556.52" y1="403.3" x2="556.52" y2="406.3" stroke="#2a2a2a" stroke-width="0.8" />
<text x="556.52" y="416.8" font-size="11.3" text-anchor="middle" font-weight="normal" font-style="normal" fill="#1a1a1a" >0.8</text>
<line x1="577.16" y1="403.3" x2="577.16" y2="405.3" stroke="#2a2a2a" stroke-width="0.8" />
<line x1="597.8" y1="403.3" x2="597.8" y2="406.3" stroke="#2a2a2a" stroke-width="0.8" />
<text x="597.8" y="416.8" font-size="11.3" text-anchor="middle" font-weight="normal" font-style="normal" fill="#1a1a1a" >1.0</text>
<text x="502.9" y="436.2" font-size="15" text-anchor="middle" font-weight="normal" font-style="normal" fill="#1a1a1a" >U</text>
<text x="357" y="363.5" font-size="14.5" text-anchor="middle" font-weight="normal" font-style="normal" fill="#1a1a1a" transform="rotate(-90 357 363.5)" dy="5">V</text>
<rect x="602.6" y="307" width="6.3" height="10.18" fill="#800000"/>
<rect x="602.6" y="316.88" width="6.3" height="10.18" fill="#FF0000"/>
<rect x="602.6" y="326.76" width="6.3" height="10.18" fill="#FF8000"/>
<rect x="602.6" y="336.64" width="6.3" height="10.18" fill="#FFFF00"/>
<rect x="602.6" y="346.52" width="6.3" height="10.18" fill="#00FF00"/>
<rect x="602.6" y="356.4" width="6.3" height="10.18" fill="#00FF80"/>
<rect x="602.6" y="366.28" width="6.3" height="10.18" fill="#00FFFF"/>
<rect x="602.6" y="376.16" width="6.3" height="10.18" fill="#0080FF"/>
<rect x="602.6" y="386.04" width="6.3" height="10.18" fill="#0000FF"/>
<rect x="602.6" y="395.92" width="6.3" height="10.18" fill="#000000"/>
<text x="613.3" y="320.88" font-size="9.9" text-anchor="start" font-weight="normal" font-style="normal" fill="#1a1a1a" >90.00</text>
<text x="613.3" y="340.64" font-size="9.9" text-anchor="start" font-weight="normal" font-style="normal" fill="#1a1a1a" >77.50</text>
<text x="613.3" y="360.4" font-size="9.9" text-anchor="start" font-weight="normal" font-style="normal" fill="#1a1a1a" >65.00</text>
<text x="613.3" y="380.16" font-size="9.9" text-anchor="start" font-weight="normal" font-style="normal" fill="#1a1a1a" >52.50</text>
<text x="613.3" y="399.92" font-size="9.9" text-anchor="start" font-weight="normal" font-style="normal" fill="#1a1a1a" >40.00</text>
</svg>
</body></html>
